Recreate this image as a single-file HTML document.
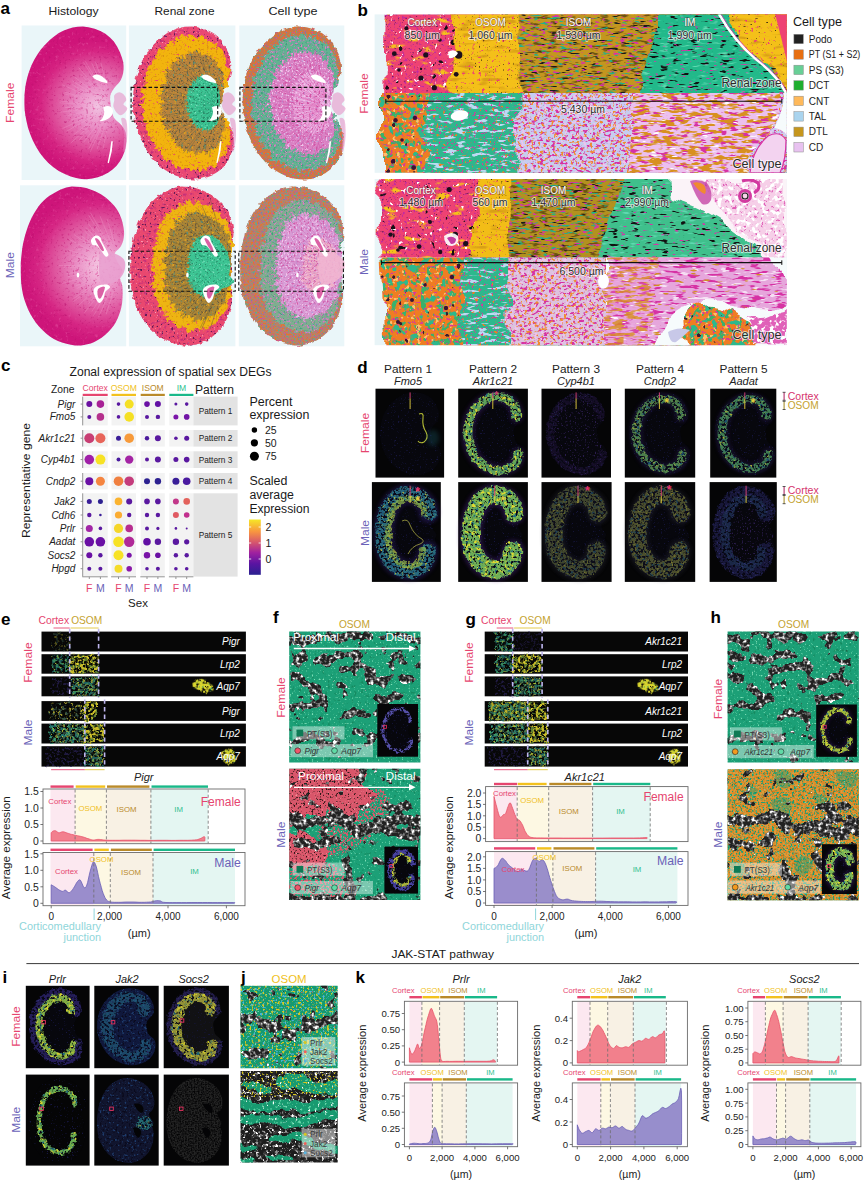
<!DOCTYPE html>
<html lang="en"><head><meta charset="utf-8"><title>Figure</title>
<style>html,body{margin:0;padding:0;background:#fff}svg{display:block}text{font-family:"Liberation Sans", sans-serif}</style></head>
<body>
<svg width="865" height="1181" viewBox="0 0 865 1181">
<defs>
<filter id="fHE" x="-3%" y="-3%" width="106%" height="106%" color-interpolation-filters="sRGB"><feTurbulence type="fractalNoise" baseFrequency="0.372" numOctaves="2" seed="11" result="n0"/><feColorMatrix in="n0" type="matrix" values="0 0 0 0 0.722 0 0 0 0 0.059 0 0 0 0 0.424 2.20 0 0 0 -1.320" result="c0"/><feComposite in="c0" in2="SourceGraphic" operator="in" result="k0"/><feTurbulence type="fractalNoise" baseFrequency="0.305" numOctaves="2" seed="12" result="n1"/><feColorMatrix in="n1" type="matrix" values="0 0 0 0 0.886 0 0 0 0 0.290 0 0 0 0 0.612 2.50 0 0 0 -1.500" result="c1"/><feComposite in="c1" in2="SourceGraphic" operator="in" result="k1"/><feMerge><feMergeNode in="SourceGraphic"/><feMergeNode in="k0"/><feMergeNode in="k1"/></feMerge></filter>
<filter id="fCor" x="-3%" y="-3%" width="106%" height="106%" color-interpolation-filters="sRGB"><feTurbulence type="fractalNoise" baseFrequency="0.2" numOctaves="2" seed="5" result="dn"/><feDisplacementMap in="SourceGraphic" in2="dn" scale="4" xChannelSelector="R" yChannelSelector="G" result="src"/><feTurbulence type="fractalNoise" baseFrequency="0.420" numOctaves="1" seed="21" result="n0"/><feColorMatrix in="n0" type="matrix" values="0 0 0 0 0.369 0 0 0 0 0.102 0 0 0 0 0.337 12 0 0 0 -7.560" result="c0"/><feComposite in="c0" in2="src" operator="in" result="k0"/><feTurbulence type="fractalNoise" baseFrequency="0.593" numOctaves="1" seed="22" result="n1"/><feColorMatrix in="n1" type="matrix" values="0 0 0 0 0.969 0 0 0 0 0.627 0 0 0 0 0.722 6 0 0 0 -3.840" result="c1"/><feComposite in="c1" in2="src" operator="in" result="k1"/><feTurbulence type="fractalNoise" baseFrequency="0.305" numOctaves="2" seed="23" result="n2"/><feColorMatrix in="n2" type="matrix" values="0 0 0 0 0.769 0 0 0 0 0.188 0 0 0 0 0.478 5 0 0 0 -2.900" result="c2"/><feComposite in="c2" in2="src" operator="in" result="k2"/><feMerge><feMergeNode in="src"/><feMergeNode in="k0"/><feMergeNode in="k1"/><feMergeNode in="k2"/></feMerge></filter>
<filter id="fOs" x="-3%" y="-3%" width="106%" height="106%" color-interpolation-filters="sRGB"><feTurbulence type="fractalNoise" baseFrequency="0.16" numOctaves="2" seed="7" result="dn"/><feDisplacementMap in="SourceGraphic" in2="dn" scale="9" xChannelSelector="R" yChannelSelector="G" result="src"/><feTurbulence type="fractalNoise" baseFrequency="0.449" numOctaves="2" seed="31" result="n0"/><feColorMatrix in="n0" type="matrix" values="0 0 0 0 0.851 0 0 0 0 0.565 0 0 0 0 0.063 5 0 0 0 -2.900" result="c0"/><feComposite in="c0" in2="src" operator="in" result="k0"/><feTurbulence type="fractalNoise" baseFrequency="0.353" numOctaves="2" seed="35" result="n1"/><feColorMatrix in="n1" type="matrix" values="0 0 0 0 0.910 0 0 0 0 0.263 0 0 0 0 0.435 8 0 0 0 -5.360" result="c1"/><feComposite in="c1" in2="src" operator="in" result="k1"/><feMerge><feMergeNode in="src"/><feMergeNode in="k0"/><feMergeNode in="k1"/></feMerge></filter>
<filter id="fIs" x="-3%" y="-3%" width="106%" height="106%" color-interpolation-filters="sRGB"><feTurbulence type="fractalNoise" baseFrequency="0.16" numOctaves="2" seed="9" result="dn"/><feDisplacementMap in="SourceGraphic" in2="dn" scale="8" xChannelSelector="R" yChannelSelector="G" result="src"/><feTurbulence type="fractalNoise" baseFrequency="0.497" numOctaves="2" seed="41" result="n0"/><feColorMatrix in="n0" type="matrix" values="0 0 0 0 0.416 0 0 0 0 0.353 0 0 0 0 0.227 6 0 0 0 -3.360" result="c0"/><feComposite in="c0" in2="src" operator="in" result="k0"/><feTurbulence type="fractalNoise" baseFrequency="0.401" numOctaves="2" seed="42" result="n1"/><feColorMatrix in="n1" type="matrix" values="0 0 0 0 0.878 0 0 0 0 0.627 0 0 0 0 0.125 5 0 0 0 -3.000" result="c1"/><feComposite in="c1" in2="src" operator="in" result="k1"/><feTurbulence type="fractalNoise" baseFrequency="0.353" numOctaves="2" seed="43" result="n2"/><feColorMatrix in="n2" type="matrix" values="0 0 0 0 0.357 0 0 0 0 0.561 0 0 0 0 0.478 5 0 0 0 -3.100" result="c2"/><feComposite in="c2" in2="src" operator="in" result="k2"/><feMerge><feMergeNode in="src"/><feMergeNode in="k0"/><feMergeNode in="k1"/><feMergeNode in="k2"/></feMerge></filter>
<filter id="fIm" x="-3%" y="-3%" width="106%" height="106%" color-interpolation-filters="sRGB"><feTurbulence type="fractalNoise" baseFrequency="0.2" numOctaves="2" seed="11" result="dn"/><feDisplacementMap in="SourceGraphic" in2="dn" scale="3" xChannelSelector="R" yChannelSelector="G" result="src"/><feTurbulence type="fractalNoise" baseFrequency="0.497" numOctaves="2" seed="51" result="n0"/><feColorMatrix in="n0" type="matrix" values="0 0 0 0 0.165 0 0 0 0 0.561 0 0 0 0 0.424 6 0 0 0 -3.360" result="c0"/><feComposite in="c0" in2="src" operator="in" result="k0"/><feTurbulence type="fractalNoise" baseFrequency="0.497" numOctaves="2" seed="52" result="n1"/><feColorMatrix in="n1" type="matrix" values="0 0 0 0 0.482 0 0 0 0 0.878 0 0 0 0 0.741 5 0 0 0 -3.000" result="c1"/><feComposite in="c1" in2="src" operator="in" result="k1"/><feMerge><feMergeNode in="src"/><feMergeNode in="k0"/><feMergeNode in="k1"/></feMerge></filter>
<filter id="fCt1" x="-3%" y="-3%" width="106%" height="106%" color-interpolation-filters="sRGB"><feTurbulence type="fractalNoise" baseFrequency="0.2" numOctaves="2" seed="5" result="dn"/><feDisplacementMap in="SourceGraphic" in2="dn" scale="4" xChannelSelector="R" yChannelSelector="G" result="src"/><feTurbulence type="fractalNoise" baseFrequency="0.545" numOctaves="1" seed="61" result="n0"/><feColorMatrix in="n0" type="matrix" values="0 0 0 0 0.910 0 0 0 0 0.455 0 0 0 0 0.165 7 0 0 0 -3.640" result="c0"/><feComposite in="c0" in2="src" operator="in" result="k0"/><feTurbulence type="fractalNoise" baseFrequency="0.497" numOctaves="1" seed="62" result="n1"/><feColorMatrix in="n1" type="matrix" values="0 0 0 0 0.361 0 0 0 0 0.682 0 0 0 0 0.549 7 0 0 0 -4.060" result="c1"/><feComposite in="c1" in2="src" operator="in" result="k1"/><feTurbulence type="fractalNoise" baseFrequency="0.497" numOctaves="1" seed="63" result="n2"/><feColorMatrix in="n2" type="matrix" values="0 0 0 0 0.831 0 0 0 0 0.314 0 0 0 0 0.604 7 0 0 0 -4.200" result="c2"/><feComposite in="c2" in2="src" operator="in" result="k2"/><feTurbulence type="fractalNoise" baseFrequency="0.593" numOctaves="1" seed="64" result="n3"/><feColorMatrix in="n3" type="matrix" values="0 0 0 0 0.478 0 0 0 0 0.439 0 0 0 0 0.753 8 0 0 0 -5.120" result="c3"/><feComposite in="c3" in2="src" operator="in" result="k3"/><feMerge><feMergeNode in="src"/><feMergeNode in="k0"/><feMergeNode in="k1"/><feMergeNode in="k2"/><feMergeNode in="k3"/></feMerge></filter>
<filter id="fCt2" x="-3%" y="-3%" width="106%" height="106%" color-interpolation-filters="sRGB"><feTurbulence type="fractalNoise" baseFrequency="0.16" numOctaves="2" seed="7" result="dn"/><feDisplacementMap in="SourceGraphic" in2="dn" scale="9" xChannelSelector="R" yChannelSelector="G" result="src"/><feTurbulence type="fractalNoise" baseFrequency="0.449" numOctaves="2" seed="71" result="n0"/><feColorMatrix in="n0" type="matrix" values="0 0 0 0 0.878 0 0 0 0 0.478 0 0 0 0 0.753 6 0 0 0 -3.300" result="c0"/><feComposite in="c0" in2="src" operator="in" result="k0"/><feTurbulence type="fractalNoise" baseFrequency="0.497" numOctaves="1" seed="72" result="n1"/><feColorMatrix in="n1" type="matrix" values="0 0 0 0 0.541 0 0 0 0 0.541 0 0 0 0 0.796 7 0 0 0 -4.340" result="c1"/><feComposite in="c1" in2="src" operator="in" result="k1"/><feTurbulence type="fractalNoise" baseFrequency="0.497" numOctaves="2" seed="73" result="n2"/><feColorMatrix in="n2" type="matrix" values="0 0 0 0 0.247 0 0 0 0 0.624 0 0 0 0 0.498 5 0 0 0 -2.850" result="c2"/><feComposite in="c2" in2="src" operator="in" result="k2"/><feMerge><feMergeNode in="src"/><feMergeNode in="k0"/><feMergeNode in="k1"/><feMergeNode in="k2"/></feMerge></filter>
<filter id="fCt3" x="-3%" y="-3%" width="106%" height="106%" color-interpolation-filters="sRGB"><feTurbulence type="fractalNoise" baseFrequency="0.16" numOctaves="2" seed="9" result="dn"/><feDisplacementMap in="SourceGraphic" in2="dn" scale="8" xChannelSelector="R" yChannelSelector="G" result="src"/><feTurbulence type="fractalNoise" baseFrequency="0.449" numOctaves="2" seed="81" result="n0"/><feColorMatrix in="n0" type="matrix" values="0 0 0 0 0.824 0 0 0 0 0.353 0 0 0 0 0.659 6 0 0 0 -3.300" result="c0"/><feComposite in="c0" in2="src" operator="in" result="k0"/><feTurbulence type="fractalNoise" baseFrequency="0.497" numOctaves="2" seed="82" result="n1"/><feColorMatrix in="n1" type="matrix" values="0 0 0 0 0.941 0 0 0 0 0.776 0 0 0 0 0.925 6 0 0 0 -3.360" result="c1"/><feComposite in="c1" in2="src" operator="in" result="k1"/><feTurbulence type="fractalNoise" baseFrequency="0.497" numOctaves="1" seed="83" result="n2"/><feColorMatrix in="n2" type="matrix" values="0 0 0 0 0.690 0 0 0 0 0.604 0 0 0 0 0.847 6 0 0 0 -3.780" result="c2"/><feComposite in="c2" in2="src" operator="in" result="k2"/><feMerge><feMergeNode in="src"/><feMergeNode in="k0"/><feMergeNode in="k1"/><feMergeNode in="k2"/></feMerge></filter>
<radialGradient id="gHEf" gradientUnits="userSpaceOnUse" cx="72" cy="80" r="68"><stop offset="0" stop-color="#f2c4e2"/><stop offset="0.3" stop-color="#e98cc4"/><stop offset="0.6" stop-color="#df559e"/><stop offset="0.82" stop-color="#d62482"/><stop offset="1" stop-color="#cf1479"/></radialGradient>
<radialGradient id="gHEm" gradientUnits="userSpaceOnUse" cx="80" cy="80" r="76" gradientTransform="translate(0 0)"><stop offset="0" stop-color="#f5cfe6"/><stop offset="0.3" stop-color="#ea92c6"/><stop offset="0.6" stop-color="#df579f"/><stop offset="0.82" stop-color="#d62684"/><stop offset="1" stop-color="#ce157a"/></radialGradient>
<path id="kF0" d="M57.8,0 L63.5,0.7 69.6,2.1 75.2,4.3 80.2,7.2 84.7,10.8 88.6,15 91.9,20.1 94.6,25.8 96.6,31.1 97.8,35.5 98.2,39.3 98.2,43.1 97.7,46.9 96.7,50.5 95.3,53.8 93.2,56.7 90.8,59.3 88.6,61.9 87,64.5 85.7,67 84.9,69.9 84.8,73.3 85.3,76.9 85.9,80.6 86.5,84.3 87.2,87.9 88.6,91.3 91,94.1 94,96.6 96.6,99.3 98.5,102.1 99.9,105 100.7,108.7 100.9,113.6 100.5,119.3 99.3,124.8 97.3,130 94.6,135 91.3,139.5 87.3,143.2 82.8,146.4 77.9,148.9 72.7,150.9 67.3,152.3 61.8,152.9 56.5,152.7 51.2,151.8 45.8,150.2 40,147.8 34,144.6 28.4,140.8 23.5,136.4 19,131.5 15,126.1 11.4,120.2 8.2,113.8 5.6,107.4 3.5,101 2,94.7 0.9,88.6 0.2,83.1 -0,77.8 0,72.6 0.2,67.3 0.7,62 1.6,56.5 2.9,50.7 4.7,44.9 6.9,39.1 9.6,33.5 12.7,28.1 16.3,23 20.5,18.1 25.1,13.5 29.7,9.6 34.1,6.5 38.5,4.1 43.1,2.3 47.8,0.9 52.7,0.1Z"/>
<path id="kM1" d="M51.3,0 L55.3,0.1 59.8,0.4 64.2,1.2 68.3,2.3 72.4,3.8 76.3,5.6 80.1,7.7 83.8,10.2 87.2,12.9 90.3,15.8 93.2,19 95.7,22.2 97.7,25.5 99.3,28.8 100.7,32.4 101.8,36.4 102.7,40.6 103.2,44.4 103.3,47.7 103,50.6 102.5,53.4 101.7,56.1 100.6,58.6 99.2,60.9 97.2,62.9 95,64.8 93.7,66.9 94,69.6 95.2,72.5 96.7,75.4 98.5,78.1 100.5,80.8 101.7,83.4 101.2,86 99.9,88.7 99.2,91.4 99.8,94.1 100.9,96.8 101.7,100.4 101.9,105.4 101.7,111.3 101.3,116.6 100.5,120.9 99.5,124.7 98.2,128.4 96.8,132 95.1,135.4 93,138.8 90.4,142.2 87.4,145.4 84.2,148.4 80.8,151.1 77.1,153.5 73.5,155.4 70,156.8 66.5,157.7 63.2,158.4 60.2,158.8 57.4,159 54.1,158.8 50.1,158.2 45.6,157.2 41.2,155.9 37.1,154.3 33,152.3 29.1,149.9 25.3,146.9 21.6,143.5 18.2,139.9 15.1,136.1 12.3,132 9.7,127.7 7.4,123.1 5.4,118.2 3.7,113.4 2.4,108.9 1.5,104.4 0.8,99.9 0.3,95.1 0.1,90.2 0,85.4 -0,81 0,76.7 0.3,72.2 0.8,67.3 1.4,62.3 2.2,57.4 3.2,52.9 4.3,48.7 5.6,44.4 7.1,40 8.8,35.7 10.7,31.4 13,27.2 15.5,23.1 18,19.4 20.5,16.4 23,13.8 25.7,11.4 28.6,9.2 31.7,7.3 34.7,5.6 37.4,4.1 40,2.9 42.7,1.9 45.4,1 48.1,0.3Z"/>
<path id="kF2" d="M60.5,7.5 L64.8,11.8 66.9,8.9 70.7,11.6 73.3,10.3 76.9,16 79.2,14.6 81.9,18.2 84.1,17.2 86.3,23.8 88.3,24 89.9,28.8 91.8,28.2 92.6,35.5 93.9,36.9 94.3,42.2 95.7,40.7 95.2,46.3 95.8,47 94.8,52.1 95.9,50.2 94.7,54.9 94.8,55.4 93,61.1 93.5,59.4 92,63.3 91.8,63 89.5,68.7 89.3,67 88,70.4 87.7,69.2 86.7,75.1 86.5,73.8 86.3,77.1 86,75.1 86.4,79.6 86.4,79.6 86.4,79.6 86.4,79.6 86.4,79.6 86.4,79.6 86.4,79.6 86.4,79.6 86.4,79.6 86.6,80.8 86.4,79.6 88,85.6 88.3,85.2 90.3,88.7 89.9,86.9 92.8,92 93,92.1 95.2,96 94.1,93.9 96.3,98.7 96.1,99.4 97.9,105 96.5,104.1 97.5,109.8 96.7,111.3 97.4,118.1 95.6,117.3 95,122.2 93.4,122.9 92.5,129.9 90.4,129.1 88.6,133 86.4,132.2 84,138.4 81.7,137.4 78.9,140.6 76.8,138.3 73.2,143.5 70.8,142.3 67.3,145.1 65.6,141.6 61.6,145.1 59.4,143.3 55.4,145.4 54.5,140.9 50.2,142.6 48,140 42.8,141.4 42.1,136.4 37.5,136.3 36,132.8 30.5,133.4 30.7,128.4 26.9,127 26.7,122.7 21,122.2 21.7,117.4 18.4,114.9 19.6,110.1 14.2,108.4 15.1,104.1 12.1,101.3 14.9,96.9 10.2,94.4 11.4,90.7 8.5,87.8 12.3,84.4 8.7,81.8 10.3,79 7.2,76.1 11.5,73.5 8.9,70.5 10.8,67.9 7.5,64.4 11.8,62.3 10.3,58.9 13,56.5 9.9,52 14.1,50 13.5,46.2 17.3,44.4 14.9,39.4 18.8,37.8 19,33.9 23.7,33.1 22.4,27.9 26.2,26.7 27.1,22.7 32.4,23.1 32.4,18.1 36.1,17.4 36.8,13.6 41.7,15.6 42.4,11.9 45.7,12.3 46.6,8.5 51.1,11.5 52.6,8.8 56,10.2 57.3,6.5Z"/>
<path id="kF3" d="M66.6,24.4 L70.7,30.3 71.7,26.3 74.9,29.9 76.6,27.7 79.8,35.2 81.2,32.7 83.3,37 84.7,34.7 86.4,43.1 87.7,42.2 88.6,47.8 90,45.6 90,54.4 90.8,54.9 90.3,61 91.6,57.8 90.4,64.6 90.8,64.5 89.1,70.7 90.5,67 88.7,72.7 88.9,72.4 86.5,79.4 87.6,76.2 86.4,79.6 86.4,79.6 86.4,79.6 86.4,79.6 86.4,79.6 86.4,79.6 86.4,79.6 86.4,79.6 86.4,79.6 86.4,79.6 86.4,79.6 86.4,79.6 86.4,79.6 86.4,79.6 86.4,79.6 86.4,79.6 86.4,79.6 86.4,79.6 86.4,79.6 86.4,79.6 86.4,79.6 86.4,79.6 86.4,79.6 86.4,79.6 86.4,79.6 86.4,79.6 86.4,79.6 86.8,80.3 86.4,79.6 88,82.6 87.8,82.5 90.6,89 89.1,86.3 91.2,92.6 90.9,93.3 92.6,101.2 91.1,98.7 91.4,104.3 90.3,104 90.4,112.5 88.9,110.2 87.9,114.8 86.4,112.8 84.7,120.7 83.2,118.7 81.1,122.7 79.9,119.1 76.8,126 75.3,124.2 72.3,127.9 71.8,123.1 68,128.2 66.7,126 63,129.4 63.4,123.7 59.3,126.8 58.1,124 52.9,127.1 53.9,121.2 49.5,122.5 49.1,119 43.1,121.3 45,115.9 41.2,115.6 42.3,111.4 35.8,112.6 37.9,107.9 34.5,106.6 37.3,102.1 30.6,101.8 32.8,98 29.4,96.3 33.8,92.3 27.8,91 29.9,88 26.2,85.9 31.7,83.2 26.8,81.3 29.1,79.1 24.8,76.9 30.8,75.1 27.1,72.6 29.6,70.8 24.7,67.7 30.4,66.6 27.9,63.7 31.3,62.2 26.4,57.9 31.6,57.2 30.1,53.8 34.5,53.2 30.2,48 34.8,47.7 34,44.1 39.3,44.7 36.2,39.1 40.3,39 40,35 45.9,37.2 44.3,31.6 47.8,32 47.5,27.8 52.8,31.6 52.3,27.2 55.5,28.4 55.2,23.8 60,28.6 60.5,25.3 63.7,27.7 63.7,22.7Z"/>
<path id="kF4" d="M75.7,49.7 L78.2,53.7 78.8,52 80.7,54.9 81.6,54.4 83.4,59.5 84.1,59 85.1,62.4 85.8,62.1 86.4,67.9 86.8,68.5 86.9,72.9 87.1,73 86.4,79.3 86.4,79.6 86.4,79.6 86.4,79.6 86.4,79.6 86.4,79.6 86.4,79.6 86.4,79.6 86.4,79.6 86.4,79.6 86.4,79.6 86.4,79.6 86.4,79.6 86.4,79.6 86.4,79.6 86.4,79.6 86.4,79.6 86.4,79.6 86.4,79.6 86.4,79.6 86.4,79.6 86.4,79.6 86.4,79.6 86.4,79.6 86.4,79.6 86.4,79.6 86.4,79.6 86.4,79.6 86.4,79.6 86.4,79.6 86.4,79.6 86.4,79.6 86.4,79.6 86.4,79.6 86.4,79.6 86.4,79.6 86.4,79.6 86.4,79.6 86.4,79.6 86.4,79.6 86.4,79.6 86.4,79.6 86.4,79.6 86.4,79.6 86.4,79.6 86.4,79.6 86.4,79.6 86.4,79.6 86.4,79.6 86.4,79.6 86.4,79.6 87.1,85.2 86.8,84.9 86.8,88.4 86.4,88.1 85.8,93.5 85.3,93.1 84.4,96.2 83.9,94.9 82.3,99.6 81.5,99.3 79.8,102 79.6,99.8 77.4,103.2 76.7,102.4 74.6,104.7 74.8,101.8 72.4,103.9 71.8,102.6 68.8,104.6 69.2,101.6 66.6,102.5 66.4,100.7 62.9,102.2 63.9,99.3 61.8,99.2 62.4,96.9 58.7,97.6 60,95 58,94.3 59.6,91.8 55.9,91.8 57.1,89.7 55.1,88.7 57.6,86.6 54.2,85.9 55.4,84.2 53.1,83.1 56.2,81.6 53.4,80.5 54.6,79.3 52.1,78.1 55.5,77.1 53.3,75.7 54.6,74.7 51.6,72.9 54.8,72.3 53.3,70.6 55.2,69.7 52.2,67.3 55.1,66.8 54.1,64.8 56.6,64.4 54,61.4 56.5,61.1 56,59 59.1,59.3 57.3,56.1 59.6,56 59.4,53.7 62.8,54.9 61.9,51.7 64,51.9 63.8,49.5 67,51.8 66.7,49.3 68.6,50.2 68.6,47.7 71.4,50.7 71.8,49.1 73.8,50.7 73.9,48.3Z"/>
<path id="kM5" d="M59.5,13.3 L63.9,16.8 64.8,13.8 68.5,15.8 70.1,14 74.4,18.8 75.8,16.9 78.9,19.6 80.3,17.9 83.9,23.5 85.6,22.9 88.2,26.6 89.5,24.8 92.2,30.8 93.7,31.2 95.6,35.9 96.6,34.1 98.1,39.8 99,40.6 99.9,46.2 100.6,44.6 101.1,50.2 101.6,51.5 101.7,58.3 102.1,57.2 101.9,61.7 102,61.8 101.3,68.1 101.3,66.7 100.8,70.4 100.6,69.4 100.2,75.6 99.9,74.5 100,77.8 99.3,76 100.2,79.4 100.2,79.4 100.2,79.4 100.2,79.4 100.2,79.4 100.2,79.4 100.2,79.4 100.2,79.4 100.2,79.4 100.2,79.4 100.2,79.4 100.2,79.4 100.2,79.4 100.2,79.4 100.2,79.4 100.2,82.5 100.4,82.8 100.8,88 100.7,87.4 101.1,94.9 101,97.6 100.9,104.6 100.5,103.7 100.1,109.2 99.5,110.1 98.7,116.6 98.1,115.4 97,120 96.2,120.2 94.4,126.9 93.3,126 91.3,130.1 90,129.6 87.1,136 85.6,135.3 82.9,138.9 81.6,137.1 78.1,142.3 76.6,141.4 73.6,144.2 73.1,141 69.6,144.8 68.5,143.5 65.5,146.2 65.7,142.4 62.2,144.8 60.7,143 56.2,145.3 55.8,141.1 51.9,142 50.7,139.4 45.7,141.3 45.8,137.1 42.3,136.8 42,133.2 36.7,133.9 37.1,129.6 33.9,128.3 34.8,124.1 29.7,123.9 30.3,120 27.4,118.3 29.6,113.7 25,112.4 25.9,108.7 22.9,106.6 26.3,102.6 22.7,100.9 24,97.8 20.8,95.8 24.9,92.2 22.3,89.7 24.1,86.7 20.5,84.2 24.5,81.4 22.5,78.9 24.8,76.5 20.8,73.7 24.5,71.2 23,68 26.1,65.6 22.2,61.9 25.4,59.9 24.2,56.9 28.1,55.4 24.8,51.5 27.5,49.6 26.3,46.1 30.8,45.2 28.5,40.9 31.1,39.2 30.1,35.1 35,35 33.9,31 36.5,30 35.3,26.2 40,27.3 39.7,24.2 42.8,24.1 41.8,20 46.3,21.6 46.7,19.1 49.9,20 48.7,15.8 52.3,17.6 52.9,15.6 56.3,17.5 55.4,13.5 58.6,15.2Z"/>
<path id="kM6" d="M66.1,24.1 L71.1,29.2 71,25.1 74.6,28.1 75.5,25.7 80.1,32.2 80.7,29.4 83.7,33 84.3,30.3 88.1,37.7 89.1,36.3 91.5,40.9 92.1,37.8 94.6,45.4 95.6,45.1 97.2,50.9 97.7,47.5 98.9,54.5 99.4,54.7 100,61.5 100.4,58.2 100.7,64.8 100.9,65.4 100.6,73.6 100.9,70.8 100.5,76.2 100.6,75.3 100.2,79.4 100.2,79.4 100.2,79.4 100.2,79.4 100.2,79.4 100.2,79.4 100.2,79.4 100.2,79.4 100.2,79.4 100.2,79.4 100.2,79.4 100.2,79.4 100.2,79.4 100.2,79.4 100.2,79.4 100.2,79.4 100.2,79.4 100.2,79.4 100.2,79.4 100.2,79.4 100.2,79.4 100.2,79.4 100.2,79.4 100.2,79.4 100.2,79.4 100.2,79.4 100.2,79.4 100.3,80.9 100.4,82.9 100.5,91.2 100.3,88.5 100.1,95 99.9,95.2 99.2,103.3 99,100.5 98.1,105.9 97.7,105.2 96.1,113.6 95.5,111.5 93.7,116.4 93,114.8 90.1,123 89.2,121.5 86.7,125.9 86.2,122.9 82.5,129.9 81.6,128.3 78.6,132.1 79,127.6 75.2,132.8 74.6,131.2 71.3,135 72.6,129.9 68.8,133.5 67.9,131.4 62.9,135.2 63.9,129.9 59.7,132 59.2,129.1 53.4,132.5 54.9,127.5 51.1,128.1 51.7,124.2 45.4,126.5 46.9,121.8 43.4,121.3 45.6,116.7 39.2,117.9 40.9,113.9 37.4,112.9 41.2,108.1 35.3,107.9 37,104.3 33.2,103 38.3,98.8 33.5,97.9 35.6,95 31.3,93.6 37.1,90.1 33.5,88.2 36,85.5 30.9,83.5 36.6,81.1 33.8,79 36.9,77 31.3,74.4 36.3,72.5 34.1,69.7 38.3,67.9 32.7,64.2 36.9,62.9 34.9,60.1 40.1,59.4 35.1,55.3 38.6,54.2 36.5,50.7 42.3,50.9 38.6,46.3 41.7,45.3 39.6,41.1 45.8,42.3 43.5,38 46.5,37.7 44.1,33.4 49.9,35.9 48.8,32.5 52.2,33.2 49.9,28.3 55.3,31.2 55,28.5 58.7,30.3 56.2,25.1 60.4,28.1 60.4,25.8 64.4,28.9 62.3,23.7 65.9,26.5Z"/>
<path id="kM7" d="M81.1,48.4 L84.3,51.9 84.6,50.4 87,52.9 87.8,52.4 90.7,57.1 91.2,56.4 93.1,59.5 93.6,59 95.8,64.3 96.4,64.7 97.7,68.5 97.9,67.9 99.2,73.4 99.5,74.4 100.1,78.9 100.1,78.1 100.2,79.4 100.2,79.4 100.2,79.4 100.2,79.4 100.2,79.4 100.2,79.4 100.2,79.4 100.2,79.4 100.2,79.4 100.2,79.4 100.2,79.4 100.2,79.4 100.2,79.4 100.2,79.4 100.2,79.4 100.2,79.4 100.2,79.4 100.2,79.4 100.2,79.4 100.2,79.4 100.2,79.4 100.2,79.4 100.2,79.4 100.2,79.4 100.2,79.4 100.2,79.4 100.2,79.4 100.2,79.4 100.2,79.4 100.2,79.4 100.2,79.4 100.2,79.4 100.2,79.4 100.2,79.4 100.2,79.4 100.2,79.4 100.2,79.4 100.2,79.4 100.2,79.4 100.2,79.4 100.2,79.4 100.2,79.4 100.2,79.4 100.2,79.4 100.2,79.4 100.2,79.4 100.2,79.4 99.7,83.1 99.6,83.2 98.8,87.2 98.5,87.6 96.9,93.5 96.4,93.8 94.9,97.5 94.6,96.9 92.3,101.9 91.6,101.9 89.8,104.9 89.8,103 87.4,106.7 86.9,106.3 84.8,109 85.3,106.6 82.9,109.1 82.2,108.4 79,111.1 79.1,108.7 76.4,110.3 75.7,109 72.1,111.3 72.5,108.8 70,109.4 70,107.3 66,108.7 66.6,106.1 64.3,105.9 65.3,103.3 61.4,103.9 62.1,101.6 59.9,100.9 61.9,98 58.4,97.8 59.3,95.5 57,94.6 59.9,92.1 57.1,91.4 58.3,89.5 55.8,88.6 59.2,86.3 57.2,85.1 58.8,83.4 55.9,82.1 59.2,80.5 57.6,79.2 59.4,77.8 56.2,76.2 59.1,74.9 57.9,73.2 60.3,72 57.1,69.7 59.5,68.8 58.5,67 61.5,66.5 58.7,64.1 60.8,63.3 59.7,61.1 63,61.1 61,58.4 62.9,57.7 61.8,55.2 65.5,55.8 64.4,53.2 66.3,53.1 65.1,50.6 68.6,52.1 68.2,50.2 70.5,50.8 69.5,48.2 72.8,50 72.9,48.7 75.2,49.9 74,47.1 76.7,49 76.9,48 79.3,50 78.4,47.3 80.6,49.3Z"/>
<path id="kF8" d="M60.3,7.1 L64.7,11.3 66.8,8.4 70.6,11.1 73.2,9.8 76.9,15.5 79.1,14.1 81.8,17.7 84.1,16.7 86.3,23.3 88.3,23.5 89.9,28.3 91.8,27.7 92.7,35 94,36.4 94.4,41.7 95.9,40.2 95.4,45.8 95.9,46.5 95,51.6 96.1,49.7 94.9,54.5 95,55 93.1,60.6 93.7,58.9 92.2,62.8 91.9,62.5 89.6,68.2 89.4,66.5 88.1,69.9 87.8,68.7 86.8,74.6 86.5,73.3 86.3,76.6 85.9,74.6 86.4,79.6 86.4,79.6 86.4,79.6 86.4,79.6 86.4,79.6 86.4,79.6 86.4,79.6 86.4,79.6 86.4,79.6 86.6,81.3 86.5,80.1 88.1,86.1 88.5,85.6 90.5,89.2 90.1,87.3 93.1,92.5 93.3,92.6 95.4,96.4 94.3,94.4 96.5,99.1 96.4,99.9 98.1,105.4 96.7,104.6 97.7,110.2 96.9,111.8 97.5,118.5 95.7,117.7 95.1,122.7 93.5,123.4 92.6,130.4 90.5,129.6 88.7,133.5 86.4,132.7 84,138.9 81.6,137.9 78.9,141.1 76.7,138.8 73.1,144 70.7,142.8 67.1,145.5 65.4,142 61.4,145.5 59.2,143.8 55.2,145.8 54.3,141.3 49.9,143 47.7,140.4 42.5,141.8 41.8,136.8 37.2,136.7 35.6,133.2 30.1,133.8 30.3,128.7 26.5,127.3 26.3,123 20.6,122.4 21.3,117.7 17.9,115.2 19.2,110.4 13.7,108.6 14.6,104.3 11.7,101.5 14.4,97 9.7,94.5 10.9,90.8 8,87.9 11.8,84.5 8.2,81.8 9.8,79 6.7,76.1 11,73.5 8.4,70.4 10.4,67.8 7,64.3 11.3,62.2 9.8,58.7 12.6,56.3 9.4,51.8 13.6,49.8 13.1,46 16.8,44.2 14.4,39.1 18.4,37.5 18.6,33.6 23.3,32.8 22,27.6 25.9,26.3 26.7,22.3 32.1,22.7 32.1,17.7 35.7,17.1 36.5,13.2 41.4,15.2 42.1,11.5 45.5,11.8 46.3,8.1 50.9,11 52.4,8.4 55.8,9.7 57.1,6Z"/>
<path id="kF9" d="M66.2,23.4 L70.4,29.4 71.5,25.3 74.7,28.9 76.4,26.7 79.6,34.2 81.1,31.7 83.2,36 84.7,33.7 86.4,42.1 87.7,41.2 88.7,46.8 90.1,44.6 90.1,53.4 90.9,53.9 90.5,60.1 91.9,56.8 90.7,63.6 91,63.5 89.4,69.7 90.8,66.1 89.1,71.7 89.2,71.5 86.8,78.5 87.9,75.3 86.4,79.6 86.6,79 86.4,79.6 86.4,79.6 86.4,79.6 86.4,79.6 86.4,79.6 86.4,79.6 86.4,79.6 86.4,79.6 86.4,79.6 86.4,79.6 86.4,79.6 86.4,79.6 86.4,79.6 86.4,79.6 86.4,79.6 86.4,79.6 86.4,79.6 86.4,79.6 86.4,79.6 86.4,79.6 86.4,79.6 86.4,79.6 86.4,79.6 86.4,79.6 86.4,79.6 87.3,81.2 86.4,79.6 88.4,83.5 88.3,83.4 91.1,89.9 89.5,87.2 91.5,93.5 91.2,94.2 92.8,102.2 91.3,99.7 91.6,105.3 90.5,105 90.5,113.5 89,111.2 87.9,115.8 86.4,113.8 84.7,121.7 83.1,119.7 81,123.7 79.8,120.1 76.6,127 75.1,125.2 72,128.9 71.5,124 67.6,129.1 66.3,126.9 62.5,130.3 63,124.6 58.8,127.7 57.6,124.9 52.4,127.9 53.3,122 48.8,123.2 48.4,119.7 42.3,122 44.2,116.5 40.4,116.2 41.5,112 34.9,113.1 37.1,108.4 33.6,107 36.4,102.5 29.7,102.2 31.8,98.4 28.4,96.6 32.8,92.6 26.9,91.2 29,88.1 25.2,86 30.7,83.2 25.8,81.3 28.1,79.1 23.8,76.8 29.8,75 26.1,72.5 28.6,70.6 23.7,67.5 29.4,66.4 27,63.4 30.4,61.9 25.4,57.6 30.7,56.8 29.2,53.4 33.7,52.7 29.4,47.5 33.9,47.1 33.2,43.5 38.5,44.1 35.5,38.5 39.5,38.4 39.3,34.3 45.2,36.4 43.7,30.9 47.2,31.2 46.9,27 52.3,30.7 51.8,26.3 55,27.6 54.7,22.9 59.5,27.7 60.1,24.4 63.3,26.7 63.4,21.8Z"/>
<path id="kF10" d="M74.3,45.9 L76.9,49.9 77.8,48.2 79.8,51 80.9,50.5 82.8,55.6 83.7,55 84.8,58.4 85.6,58.1 86.4,63.9 86.9,64.5 87.1,68.9 87.5,69 87,75.3 86.9,76.9 86.4,79.6 86.4,79.6 86.4,79.6 86.4,79.6 86.4,79.6 86.4,79.6 86.4,79.6 86.4,79.6 86.4,79.6 86.4,79.6 86.4,79.6 86.4,79.6 86.4,79.6 86.4,79.6 86.4,79.6 86.4,79.6 86.4,79.6 86.4,79.6 86.4,79.6 86.4,79.6 86.4,79.6 86.4,79.6 86.4,79.6 86.4,79.6 86.4,79.6 86.4,79.6 86.4,79.6 86.4,79.6 86.4,79.6 86.4,79.6 86.4,79.6 86.4,79.6 86.4,79.6 86.4,79.6 86.4,79.6 86.4,79.6 86.4,79.6 86.4,79.6 86.4,79.6 86.4,79.6 86.4,79.6 86.4,79.6 86.4,79.6 86.4,79.6 86.4,79.6 86.4,79.6 86.4,79.6 87,82.4 87,83.3 87.6,89.2 87.2,88.9 86.9,92.4 86.4,92.1 85.7,97.5 85,97.1 83.9,100.2 83.2,98.9 81.5,103.5 80.5,103.1 78.7,105.9 78.3,103.6 76,107 75.2,106.1 72.9,108.4 73,105.4 70.4,107.3 69.6,106 66.4,107.9 66.8,104.7 64,105.6 63.6,103.6 60,105 60.9,101.9 58.7,101.7 59.2,99.2 55.4,99.8 56.5,97.1 54.5,96.2 56,93.5 52.1,93.3 53.3,91 51.3,89.9 53.7,87.5 50.3,86.6 51.4,84.8 49.2,83.5 52.2,81.8 49.4,80.6 50.6,79.3 48.1,77.9 51.5,76.8 49.3,75.2 50.6,74 47.7,72.1 50.9,71.4 49.5,69.5 51.3,68.5 48.4,65.9 51.4,65.3 50.5,63.1 53,62.6 50.5,59.4 53.1,59 52.7,56.8 55.8,57 54.1,53.6 56.6,53.3 56.5,50.9 60,52 59.3,48.7 61.5,48.8 61.4,46.3 64.7,48.5 64.6,46 66.6,46.8 66.6,44.3 69.6,47.1 70.1,45.5 72.2,47 72.4,44.5Z"/>
<path id="kM11" d="M58.5,11.7 L63,15.2 64,12.2 67.7,14.2 69.4,12.5 73.8,17.3 75.2,15.4 78.4,18.2 79.8,16.5 83.5,22.1 85.2,21.5 87.9,25.3 89.3,23.5 92,29.5 93.5,29.9 95.5,34.6 96.5,32.8 98,38.6 99,39.4 99.9,45 100.6,43.4 101.2,48.9 101.7,50.3 101.8,57.1 102.2,55.9 102,60.4 102.1,60.5 101.4,66.8 101.4,65.4 100.9,69.1 100.7,68.2 100.2,74.3 99.9,73.2 99.8,76.5 98.9,74.6 100.2,79.4 100.2,79.4 100.2,79.4 100.2,79.4 100.2,79.4 100.2,79.4 100.2,79.4 100.2,79.4 100.2,79.4 100.2,79.4 100.2,79.4 100.2,79.4 100.2,79.4 100.2,79.8 100.2,79.4 100.2,83.7 100.4,84.1 100.9,89.3 100.8,88.7 101.2,96.2 101.1,98.9 101,105.9 100.6,104.9 100.1,110.4 99.5,111.4 98.6,117.9 98,116.6 96.9,121.2 96.1,121.5 94.3,128.2 93.2,127.3 91.1,131.5 89.7,130.9 86.8,137.3 85.2,136.7 82.5,140.3 81.2,138.5 77.6,143.8 76.1,142.9 73,145.7 72.5,142.5 68.9,146.3 67.7,145.1 64.7,147.7 64.8,144 61.3,146.4 59.7,144.6 55.1,146.9 54.7,142.7 50.6,143.7 49.3,141.1 44.2,142.9 44.3,138.7 40.7,138.4 40.3,134.8 34.9,135.5 35.1,131.2 31.9,129.8 32.7,125.5 27.5,125.3 28,121.4 25,119.5 27.2,114.9 22.5,113.5 23.3,109.7 20.2,107.6 23.6,103.4 19.9,101.7 21.2,98.5 17.9,96.4 22,92.7 19.3,90.1 21.1,86.9 17.5,84.4 21.5,81.5 19.5,78.9 21.8,76.4 17.8,73.5 21.5,70.8 20.1,67.6 23.2,65 19.3,61.2 22.5,59.1 21.4,56 25.3,54.5 22.1,50.5 24.9,48.6 23.8,45 28.4,44 26.1,39.7 28.8,37.8 27.9,33.8 32.9,33.5 31.8,29.5 34.6,28.5 33.4,24.6 38.2,25.7 38,22.6 41.1,22.5 40.2,18.4 44.7,20 45.3,17.5 48.5,18.4 47.4,14.2 51,16 51.7,14 55.1,15.9 54.3,11.9 57.5,13.6Z"/>
<path id="kM12" d="M66.8,25.2 L71.8,30.3 71.6,26.3 75.2,29.2 76,26.9 80.7,33.4 81.2,30.6 84.1,34.2 84.7,31.5 88.4,38.9 89.4,37.5 91.8,42.2 92.3,39 94.8,46.6 95.7,46.4 97.3,52.1 97.8,48.7 98.9,55.8 99.5,55.9 100,62.8 100.4,59.4 100.6,66 100.9,66.6 100.5,74.9 100.8,72.1 100.4,77.4 100.5,76.6 100.2,79.4 100.2,79.4 100.2,79.4 100.2,79.4 100.2,79.4 100.2,79.4 100.2,79.4 100.2,79.4 100.2,79.4 100.2,79.4 100.2,79.4 100.2,79.4 100.2,79.4 100.2,79.4 100.2,79.4 100.2,79.4 100.2,79.4 100.2,79.4 100.2,79.4 100.2,79.4 100.2,79.4 100.2,79.4 100.2,79.4 100.2,79.4 100.2,79.4 100.2,79.4 100.2,79.4 100.2,79.7 100.3,81.7 100.5,90 100.3,87.3 100.2,93.8 99.9,94 99.3,102 99,99.2 98.2,104.6 97.8,104 96.2,112.4 95.7,110.3 93.9,115.2 93.2,113.6 90.4,121.8 89.5,120.3 87,124.6 86.6,121.7 82.9,128.7 82,127.1 79.1,130.9 79.5,126.4 75.7,131.7 75.2,130 71.9,133.8 73.2,128.7 69.4,132.4 68.6,130.3 63.7,134 64.6,128.9 60.5,130.9 60.1,128 54.3,131.4 55.8,126.5 52,127.1 52.7,123.2 46.4,125.5 48,120.9 44.6,120.5 46.8,115.9 40.4,117.1 42.1,113.2 38.7,112.2 42.5,107.5 36.7,107.3 38.4,103.8 34.6,102.5 39.8,98.4 35,97.5 37,94.7 32.7,93.3 38.6,89.8 35,88 37.5,85.4 32.4,83.5 38.1,81 35.3,79 38.4,77 32.8,74.5 37.8,72.6 35.6,69.9 39.8,68.1 34.1,64.6 38.3,63.3 36.4,60.5 41.5,59.9 36.5,55.8 39.9,54.7 37.9,51.3 43.6,51.5 39.8,47 42.9,46 40.8,41.9 47,43.1 44.6,38.8 47.6,38.6 45.2,34.3 51,36.8 49.8,33.4 53.2,34.1 50.9,29.3 56.2,32.3 55.9,29.5 59.5,31.4 57.1,26.2 61.2,29.1 61.2,26.8 65.1,30 63.1,24.8 66.6,27.6Z"/>
<path id="kM13" d="M83.2,51.8 L86.3,55.4 86.5,53.9 88.8,56.5 89.5,56.1 92.3,60.8 92.7,60.2 94.4,63.3 94.8,62.8 96.9,68.2 97.4,68.6 98.6,72.4 98.7,71.8 99.9,77.3 100.1,78.4 100.2,79.4 100.2,79.4 100.2,79.4 100.2,79.4 100.2,79.4 100.2,79.4 100.2,79.4 100.2,79.4 100.2,79.4 100.2,79.4 100.2,79.4 100.2,79.4 100.2,79.4 100.2,79.4 100.2,79.4 100.2,79.4 100.2,79.4 100.2,79.4 100.2,79.4 100.2,79.4 100.2,79.4 100.2,79.4 100.2,79.4 100.2,79.4 100.2,79.4 100.2,79.4 100.2,79.4 100.2,79.4 100.2,79.4 100.2,79.4 100.2,79.4 100.2,79.4 100.2,79.4 100.2,79.4 100.2,79.4 100.2,79.4 100.2,79.4 100.2,79.4 100.2,79.4 100.2,79.4 100.2,79.4 100.2,79.4 100.2,79.4 100.2,79.4 100.2,79.4 100.2,79.4 100.2,79.4 100.2,79.4 100.2,79.4 100.2,79.4 100.2,79.4 99.5,83.3 99.3,83.7 97.8,89.6 97.4,90 96,93.7 95.8,93.1 93.6,98.1 93.1,98.2 91.3,101.2 91.4,99.4 89.1,103.1 88.7,102.7 86.6,105.5 87.2,103.1 84.9,105.7 84.3,105 81.2,107.8 81.5,105.4 78.8,107.1 78.3,106 74.7,108.3 75.2,105.9 72.8,106.6 72.9,104.6 69.1,106.1 69.7,103.6 67.5,103.5 68.6,101 64.8,101.8 65.6,99.6 63.5,99 65.5,96.3 62.1,96.1 63,94.1 60.8,93.3 63.7,90.9 61,90.3 62.2,88.6 59.7,87.7 63.2,85.7 61.2,84.6 62.7,83 59.9,81.8 63.2,80.4 61.6,79.2 63.4,78 60.2,76.5 63.1,75.4 61.9,73.7 64.2,72.7 61,70.6 63.4,69.8 62.3,68.2 65.3,67.8 62.5,65.4 64.5,64.8 63.3,62.8 66.6,62.9 64.5,60.3 66.3,59.7 65.2,57.3 68.8,58 67.6,55.6 69.4,55.5 68.2,53.1 71.7,54.7 71.2,52.9 73.3,53.5 72.3,51 75.5,53 75.6,51.6 77.8,53 76.6,50.2 79.1,52.2 79.3,51.2 81.7,53.3 80.6,50.6 82.8,52.6Z"/>
<clipPath id="cbF1"><rect x="374.6" y="14.4" width="412.19999999999993" height="78.6"/></clipPath>
<clipPath id="cbF2"><rect x="374.6" y="93" width="412.19999999999993" height="79.8"/></clipPath>
<clipPath id="cbM1"><rect x="374.6" y="179" width="412.19999999999993" height="78.5"/></clipPath>
<clipPath id="cbM2"><rect x="374.6" y="257.5" width="412.19999999999993" height="87.7"/></clipPath>
<filter id="bCor" x="-8%" y="-6%" width="116%" height="112%" color-interpolation-filters="sRGB"><feTurbulence type="fractalNoise" baseFrequency="0.04" numOctaves="2" seed="2" result="dn"/><feDisplacementMap in="SourceGraphic" in2="dn" scale="20" xChannelSelector="R" yChannelSelector="G" result="src"/><feTurbulence type="fractalNoise" baseFrequency="0.06 0.16" numOctaves="2" seed="3" result="n0"/><feColorMatrix in="n0" type="matrix" values="0 0 0 0 0.957 0 0 0 0 0.761 0 0 0 0 0.102 7 0 0 0 -4.200" result="c0"/><feComposite in="c0" in2="src" operator="in" result="k0"/><feTurbulence type="fractalNoise" baseFrequency="0.497" numOctaves="1" seed="5" result="n1"/><feColorMatrix in="n1" type="matrix" values="0 0 0 0 0.482 0 0 0 0 0.114 0 0 0 0 0.384 9 0 0 0 -5.760" result="c1"/><feComposite in="c1" in2="src" operator="in" result="k1"/><feTurbulence type="fractalNoise" baseFrequency="0.353" numOctaves="2" seed="6" result="n2"/><feColorMatrix in="n2" type="matrix" values="0 0 0 0 0.765 0 0 0 0 0.165 0 0 0 0 0.627 7 0 0 0 -4.200" result="c2"/><feComposite in="c2" in2="src" operator="in" result="k2"/><feTurbulence type="fractalNoise" baseFrequency="0.151" numOctaves="1" seed="8" result="n3"/><feColorMatrix in="n3" type="matrix" values="0 0 0 0 0.078 0 0 0 0 0.063 0 0 0 0 0.078 30 0 0 0 -21.000" result="c3"/><feComposite in="c3" in2="src" operator="in" result="k3"/><feTurbulence type="fractalNoise" baseFrequency="0.228" numOctaves="2" seed="9" result="n4"/><feColorMatrix in="n4" type="matrix" values="0 0 0 0 1.000 0 0 0 0 1.000 0 0 0 0 1.000 14 0 0 0 -9.660" result="c4"/><feComposite in="c4" in2="src" operator="in" result="k4"/><feMerge><feMergeNode in="src"/><feMergeNode in="k0"/><feMergeNode in="k1"/><feMergeNode in="k2"/><feMergeNode in="k3"/><feMergeNode in="k4"/></feMerge></filter>
<filter id="bOs" x="-8%" y="-6%" width="116%" height="112%" color-interpolation-filters="sRGB"><feTurbulence type="fractalNoise" baseFrequency="0.035" numOctaves="2" seed="4" result="dn"/><feDisplacementMap in="SourceGraphic" in2="dn" scale="24" xChannelSelector="R" yChannelSelector="G" result="src"/><feTurbulence type="fractalNoise" baseFrequency="0.05 0.22" numOctaves="2" seed="13" result="n0"/><feColorMatrix in="n0" type="matrix" values="0 0 0 0 0.851 0 0 0 0 0.627 0 0 0 0 0.090 6 0 0 0 -3.360" result="c0"/><feComposite in="c0" in2="src" operator="in" result="k0"/><feTurbulence type="fractalNoise" baseFrequency="0.305" numOctaves="2" seed="15" result="n1"/><feColorMatrix in="n1" type="matrix" values="0 0 0 0 0.933 0 0 0 0 0.259 0 0 0 0 0.451 9 0 0 0 -5.940" result="c1"/><feComposite in="c1" in2="src" operator="in" result="k1"/><feTurbulence type="fractalNoise" baseFrequency="0.497" numOctaves="1" seed="16" result="n2"/><feColorMatrix in="n2" type="matrix" values="0 0 0 0 0.227 0 0 0 0 0.165 0 0 0 0 0.063 8 0 0 0 -5.440" result="c2"/><feComposite in="c2" in2="src" operator="in" result="k2"/><feMerge><feMergeNode in="src"/><feMergeNode in="k0"/><feMergeNode in="k1"/><feMergeNode in="k2"/></feMerge></filter>
<filter id="bIs" x="-8%" y="-6%" width="116%" height="112%" color-interpolation-filters="sRGB"><feTurbulence type="fractalNoise" baseFrequency="0.035" numOctaves="2" seed="6" result="dn"/><feDisplacementMap in="SourceGraphic" in2="dn" scale="24" xChannelSelector="R" yChannelSelector="G" result="src"/><feTurbulence type="fractalNoise" baseFrequency="0.1 0.35" numOctaves="2" seed="23" result="n0"/><feColorMatrix in="n0" type="matrix" values="0 0 0 0 0.420 0 0 0 0 0.325 0 0 0 0 0.071 6 0 0 0 -3.300" result="c0"/><feComposite in="c0" in2="src" operator="in" result="k0"/><feTurbulence type="fractalNoise" baseFrequency="0.12 0.4" numOctaves="2" seed="25" result="n1"/><feColorMatrix in="n1" type="matrix" values="0 0 0 0 0.133 0 0 0 0 0.690 0 0 0 0 0.541 7 0 0 0 -4.200" result="c1"/><feComposite in="c1" in2="src" operator="in" result="k1"/><feTurbulence type="fractalNoise" baseFrequency="0.15 0.45" numOctaves="2" seed="26" result="n2"/><feColorMatrix in="n2" type="matrix" values="0 0 0 0 0.839 0 0 0 0 0.200 0 0 0 0 0.659 8 0 0 0 -4.800" result="c2"/><feComposite in="c2" in2="src" operator="in" result="k2"/><feTurbulence type="fractalNoise" baseFrequency="0.1 0.4" numOctaves="2" seed="27" result="n3"/><feColorMatrix in="n3" type="matrix" values="0 0 0 0 0.102 0 0 0 0 0.102 0 0 0 0 0.102 10 0 0 0 -6.600" result="c3"/><feComposite in="c3" in2="src" operator="in" result="k3"/><feMerge><feMergeNode in="src"/><feMergeNode in="k0"/><feMergeNode in="k1"/><feMergeNode in="k2"/><feMergeNode in="k3"/></feMerge></filter>
<filter id="bIm" x="-8%" y="-6%" width="116%" height="112%" color-interpolation-filters="sRGB"><feTurbulence type="fractalNoise" baseFrequency="0.04" numOctaves="2" seed="8" result="dn"/><feDisplacementMap in="SourceGraphic" in2="dn" scale="14" xChannelSelector="R" yChannelSelector="G" result="src"/><feTurbulence type="fractalNoise" baseFrequency="0.1 0.45" numOctaves="2" seed="33" result="n0"/><feColorMatrix in="n0" type="matrix" values="0 0 0 0 0.067 0 0 0 0 0.067 0 0 0 0 0.067 10 0 0 0 -6.200" result="c0"/><feComposite in="c0" in2="src" operator="in" result="k0"/><feTurbulence type="fractalNoise" baseFrequency="0.15 0.5" numOctaves="2" seed="35" result="n1"/><feColorMatrix in="n1" type="matrix" values="0 0 0 0 0.839 0 0 0 0 0.200 0 0 0 0 0.659 9 0 0 0 -5.940" result="c1"/><feComposite in="c1" in2="src" operator="in" result="k1"/><feTurbulence type="fractalNoise" baseFrequency="0.1 0.4" numOctaves="2" seed="36" result="n2"/><feColorMatrix in="n2" type="matrix" values="0 0 0 0 0.373 0 0 0 0 0.847 0 0 0 0 0.690 5 0 0 0 -3.000" result="c2"/><feComposite in="c2" in2="src" operator="in" result="k2"/><feMerge><feMergeNode in="src"/><feMergeNode in="k0"/><feMergeNode in="k1"/><feMergeNode in="k2"/></feMerge></filter>
<filter id="bCtC" x="-8%" y="-6%" width="116%" height="112%" color-interpolation-filters="sRGB"><feTurbulence type="fractalNoise" baseFrequency="0.04" numOctaves="2" seed="2" result="dn"/><feDisplacementMap in="SourceGraphic" in2="dn" scale="20" xChannelSelector="R" yChannelSelector="G" result="src"/><feTurbulence type="fractalNoise" baseFrequency="0.171" numOctaves="2" seed="43" result="n0"/><feColorMatrix in="n0" type="matrix" values="0 0 0 0 0.231 0 0 0 0 0.690 0 0 0 0 0.416 12 0 0 0 -6.720" result="c0"/><feComposite in="c0" in2="src" operator="in" result="k0"/><feTurbulence type="fractalNoise" baseFrequency="0.209" numOctaves="2" seed="45" result="n1"/><feColorMatrix in="n1" type="matrix" values="0 0 0 0 1.000 0 0 0 0 0.753 0 0 0 0 0.416 12 0 0 0 -7.440" result="c1"/><feComposite in="c1" in2="src" operator="in" result="k1"/><feTurbulence type="fractalNoise" baseFrequency="0.305" numOctaves="2" seed="46" result="n2"/><feColorMatrix in="n2" type="matrix" values="0 0 0 0 0.843 0 0 0 0 0.216 0 0 0 0 0.620 9 0 0 0 -5.580" result="c2"/><feComposite in="c2" in2="src" operator="in" result="k2"/><feTurbulence type="fractalNoise" baseFrequency="0.132" numOctaves="2" seed="47" result="n3"/><feColorMatrix in="n3" type="matrix" values="0 0 0 0 0.176 0 0 0 0 0.722 0 0 0 0 0.553 12 0 0 0 -7.440" result="c3"/><feComposite in="c3" in2="src" operator="in" result="k3"/><feTurbulence type="fractalNoise" baseFrequency="0.171" numOctaves="1" seed="48" result="n4"/><feColorMatrix in="n4" type="matrix" values="0 0 0 0 0.227 0 0 0 0 0.102 0 0 0 0 0.188 30 0 0 0 -21.000" result="c4"/><feComposite in="c4" in2="src" operator="in" result="k4"/><feMerge><feMergeNode in="src"/><feMergeNode in="k0"/><feMergeNode in="k1"/><feMergeNode in="k2"/><feMergeNode in="k3"/><feMergeNode in="k4"/></feMerge></filter>
<filter id="bCtP" x="-8%" y="-6%" width="116%" height="112%" color-interpolation-filters="sRGB"><feTurbulence type="fractalNoise" baseFrequency="0.035" numOctaves="2" seed="4" result="dn"/><feDisplacementMap in="SourceGraphic" in2="dn" scale="24" xChannelSelector="R" yChannelSelector="G" result="src"/><feTurbulence type="fractalNoise" baseFrequency="0.09 0.3" numOctaves="2" seed="53" result="n0"/><feColorMatrix in="n0" type="matrix" values="0 0 0 0 0.737 0 0 0 0 0.851 0 0 0 0 0.949 10 0 0 0 -5.600" result="c0"/><feComposite in="c0" in2="src" operator="in" result="k0"/><feTurbulence type="fractalNoise" baseFrequency="0.401" numOctaves="2" seed="55" result="n1"/><feColorMatrix in="n1" type="matrix" values="0 0 0 0 0.843 0 0 0 0 0.216 0 0 0 0 0.620 9 0 0 0 -5.580" result="c1"/><feComposite in="c1" in2="src" operator="in" result="k1"/><feTurbulence type="fractalNoise" baseFrequency="0.305" numOctaves="2" seed="56" result="n2"/><feColorMatrix in="n2" type="matrix" values="0 0 0 0 0.937 0 0 0 0 0.490 0 0 0 0 0.133 9 0 0 0 -5.940" result="c2"/><feComposite in="c2" in2="src" operator="in" result="k2"/><feMerge><feMergeNode in="src"/><feMergeNode in="k0"/><feMergeNode in="k1"/><feMergeNode in="k2"/></feMerge></filter>
<filter id="bCtI" x="-8%" y="-6%" width="116%" height="112%" color-interpolation-filters="sRGB"><feTurbulence type="fractalNoise" baseFrequency="0.035" numOctaves="2" seed="6" result="dn"/><feDisplacementMap in="SourceGraphic" in2="dn" scale="24" xChannelSelector="R" yChannelSelector="G" result="src"/><feTurbulence type="fractalNoise" baseFrequency="0.25 0.4" numOctaves="2" seed="63" result="n0"/><feColorMatrix in="n0" type="matrix" values="0 0 0 0 0.839 0 0 0 0 0.192 0 0 0 0 0.643 8 0 0 0 -4.240" result="c0"/><feComposite in="c0" in2="src" operator="in" result="k0"/><feTurbulence type="fractalNoise" baseFrequency="0.305" numOctaves="2" seed="65" result="n1"/><feColorMatrix in="n1" type="matrix" values="0 0 0 0 0.941 0 0 0 0 0.541 0 0 0 0 0.188 8 0 0 0 -4.560" result="c1"/><feComposite in="c1" in2="src" operator="in" result="k1"/><feTurbulence type="fractalNoise" baseFrequency="0.305" numOctaves="2" seed="66" result="n2"/><feColorMatrix in="n2" type="matrix" values="0 0 0 0 0.933 0 0 0 0 0.769 0 0 0 0 0.933 7 0 0 0 -4.060" result="c2"/><feComposite in="c2" in2="src" operator="in" result="k2"/><feMerge><feMergeNode in="src"/><feMergeNode in="k0"/><feMergeNode in="k1"/><feMergeNode in="k2"/></feMerge></filter>
<filter id="bCtM" x="-8%" y="-6%" width="116%" height="112%" color-interpolation-filters="sRGB"><feTurbulence type="fractalNoise" baseFrequency="0.04" numOctaves="2" seed="8" result="dn"/><feDisplacementMap in="SourceGraphic" in2="dn" scale="14" xChannelSelector="R" yChannelSelector="G" result="src"/><feTurbulence type="fractalNoise" baseFrequency="0.08 0.3" numOctaves="2" seed="73" result="n0"/><feColorMatrix in="n0" type="matrix" values="0 0 0 0 0.847 0 0 0 0 0.565 0 0 0 0 0.122 9 0 0 0 -4.365" result="c0"/><feComposite in="c0" in2="src" operator="in" result="k0"/><feTurbulence type="fractalNoise" baseFrequency="0.1 0.4" numOctaves="2" seed="75" result="n1"/><feColorMatrix in="n1" type="matrix" values="0 0 0 0 0.839 0 0 0 0 0.192 0 0 0 0 0.643 9 0 0 0 -5.220" result="c1"/><feComposite in="c1" in2="src" operator="in" result="k1"/><feTurbulence type="fractalNoise" baseFrequency="0.1 0.4" numOctaves="2" seed="76" result="n2"/><feColorMatrix in="n2" type="matrix" values="0 0 0 0 1.000 0 0 0 0 1.000 0 0 0 0 1.000 8 0 0 0 -5.280" result="c2"/><feComposite in="c2" in2="src" operator="in" result="k2"/><feMerge><feMergeNode in="src"/><feMergeNode in="k0"/><feMergeNode in="k1"/><feMergeNode in="k2"/></feMerge></filter>
<filter id="bCtM2" x="-8%" y="-6%" width="116%" height="112%" color-interpolation-filters="sRGB"><feTurbulence type="fractalNoise" baseFrequency="0.04" numOctaves="2" seed="8" result="dn"/><feDisplacementMap in="SourceGraphic" in2="dn" scale="14" xChannelSelector="R" yChannelSelector="G" result="src"/><feTurbulence type="fractalNoise" baseFrequency="0.08 0.35" numOctaves="2" seed="77" result="n0"/><feColorMatrix in="n0" type="matrix" values="0 0 0 0 0.839 0 0 0 0 0.192 0 0 0 0 0.643 9 0 0 0 -4.860" result="c0"/><feComposite in="c0" in2="src" operator="in" result="k0"/><feTurbulence type="fractalNoise" baseFrequency="0.1 0.4" numOctaves="2" seed="78" result="n1"/><feColorMatrix in="n1" type="matrix" values="0 0 0 0 0.965 0 0 0 0 0.878 0 0 0 0 0.957 8 0 0 0 -4.800" result="c1"/><feComposite in="c1" in2="src" operator="in" result="k1"/><feTurbulence type="fractalNoise" baseFrequency="0.08 0.3" numOctaves="2" seed="79" result="n2"/><feColorMatrix in="n2" type="matrix" values="0 0 0 0 0.812 0 0 0 0 0.561 0 0 0 0 0.122 9 0 0 0 -6.120" result="c2"/><feComposite in="c2" in2="src" operator="in" result="k2"/><feMerge><feMergeNode in="src"/><feMergeNode in="k0"/><feMergeNode in="k1"/><feMergeNode in="k2"/></feMerge></filter>
<filter id="bPel" x="-8%" y="-6%" width="116%" height="112%" color-interpolation-filters="sRGB"><feTurbulence type="fractalNoise" baseFrequency="0.04" numOctaves="2" seed="8" result="dn"/><feDisplacementMap in="SourceGraphic" in2="dn" scale="14" xChannelSelector="R" yChannelSelector="G" result="src"/><feTurbulence type="fractalNoise" baseFrequency="0.305" numOctaves="2" seed="83" result="n0"/><feColorMatrix in="n0" type="matrix" values="0 0 0 0 0.878 0 0 0 0 0.376 0 0 0 0 0.722 8 0 0 0 -4.800" result="c0"/><feComposite in="c0" in2="src" operator="in" result="k0"/><feTurbulence type="fractalNoise" baseFrequency="0.209" numOctaves="2" seed="85" result="n1"/><feColorMatrix in="n1" type="matrix" values="0 0 0 0 1.000 0 0 0 0 1.000 0 0 0 0 1.000 8 0 0 0 -4.160" result="c1"/><feComposite in="c1" in2="src" operator="in" result="k1"/><feMerge><feMergeNode in="src"/><feMergeNode in="k0"/><feMergeNode in="k1"/></feMerge></filter>
<filter id="flB" x="-30%" y="-30%" width="160%" height="160%" color-interpolation-filters="sRGB"><feTurbulence type="fractalNoise" baseFrequency="0.22" numOctaves="2" seed="3" result="dn"/><feDisplacementMap in="SourceGraphic" in2="dn" scale="5" xChannelSelector="R" yChannelSelector="G" result="src"/><feTurbulence type="fractalNoise" baseFrequency="0.305" numOctaves="2" seed="5" result="n0"/><feColorMatrix in="n0" type="matrix" values="0 0 0 0 0.910 0 0 0 0 0.878 0 0 0 0 0.188 6 0 0 0 -3.240" result="c0"/><feComposite in="c0" in2="src" operator="in" result="k0"/><feTurbulence type="fractalNoise" baseFrequency="0.305" numOctaves="2" seed="6" result="n1"/><feColorMatrix in="n1" type="matrix" values="0 0 0 0 0.122 0 0 0 0 0.435 0 0 0 0 0.525 6 0 0 0 -3.480" result="c1"/><feComposite in="c1" in2="src" operator="in" result="k1"/><feTurbulence type="fractalNoise" baseFrequency="0.401" numOctaves="2" seed="3" result="n2"/><feColorMatrix in="n2" type="matrix" values="0 0 0 0 0.027 0 0 0 0 0.027 0 0 0 0 0.078 6 0 0 0 -3.240" result="c2"/><feComposite in="c2" in2="src" operator="in" result="k2"/><feMerge result="mg"><feMergeNode in="src"/><feMergeNode in="k0"/><feMergeNode in="k1"/><feMergeNode in="k2"/></feMerge><feGaussianBlur in="mg" stdDeviation="0.4"/></filter>
<filter id="flBd" x="-30%" y="-30%" width="160%" height="160%" color-interpolation-filters="sRGB"><feTurbulence type="fractalNoise" baseFrequency="0.22" numOctaves="2" seed="5" result="dn"/><feDisplacementMap in="SourceGraphic" in2="dn" scale="5" xChannelSelector="R" yChannelSelector="G" result="src"/><feTurbulence type="fractalNoise" baseFrequency="0.353" numOctaves="2" seed="9" result="n0"/><feColorMatrix in="n0" type="matrix" values="0 0 0 0 0.816 0 0 0 0 0.800 0 0 0 0 0.220 6 0 0 0 -3.600" result="c0"/><feComposite in="c0" in2="src" operator="in" result="k0"/><feTurbulence type="fractalNoise" baseFrequency="0.305" numOctaves="2" seed="8" result="n1"/><feColorMatrix in="n1" type="matrix" values="0 0 0 0 0.122 0 0 0 0 0.373 0 0 0 0 0.502 6 0 0 0 -3.360" result="c1"/><feComposite in="c1" in2="src" operator="in" result="k1"/><feTurbulence type="fractalNoise" baseFrequency="0.401" numOctaves="2" seed="7" result="n2"/><feColorMatrix in="n2" type="matrix" values="0 0 0 0 0.027 0 0 0 0 0.027 0 0 0 0 0.078 7 0 0 0 -3.360" result="c2"/><feComposite in="c2" in2="src" operator="in" result="k2"/><feMerge result="mg"><feMergeNode in="src"/><feMergeNode in="k0"/><feMergeNode in="k1"/><feMergeNode in="k2"/></feMerge><feGaussianBlur in="mg" stdDeviation="0.4"/></filter>
<filter id="flK" x="-3%" y="-3%" width="106%" height="106%" color-interpolation-filters="sRGB"><feTurbulence type="fractalNoise" baseFrequency="0.593" numOctaves="2" seed="13" result="n0"/><feColorMatrix in="n0" type="matrix" values="0 0 0 0 0.086 0 0 0 0 0.086 0 0 0 0 0.251 6 0 0 0 -3.840" result="c0"/><feComposite in="c0" in2="SourceGraphic" operator="in" result="k0"/><feMerge result="mg"><feMergeNode in="SourceGraphic"/><feMergeNode in="k0"/></feMerge><feGaussianBlur in="mg" stdDeviation="0.3"/></filter>
<filter id="flP" x="-30%" y="-30%" width="160%" height="160%" color-interpolation-filters="sRGB"><feTurbulence type="fractalNoise" baseFrequency="0.22" numOctaves="2" seed="5" result="dn"/><feDisplacementMap in="SourceGraphic" in2="dn" scale="5" xChannelSelector="R" yChannelSelector="G" result="src"/><feTurbulence type="fractalNoise" baseFrequency="0.401" numOctaves="2" seed="27" result="n0"/><feColorMatrix in="n0" type="matrix" values="0 0 0 0 0.027 0 0 0 0 0.027 0 0 0 0 0.078 7 0 0 0 -3.500" result="c0"/><feComposite in="c0" in2="src" operator="in" result="k0"/><feTurbulence type="fractalNoise" baseFrequency="0.449" numOctaves="2" seed="28" result="n1"/><feColorMatrix in="n1" type="matrix" values="0 0 0 0 0.227 0 0 0 0 0.227 0 0 0 0 0.541 6 0 0 0 -3.840" result="c1"/><feComposite in="c1" in2="src" operator="in" result="k1"/><feMerge result="mg"><feMergeNode in="src"/><feMergeNode in="k0"/><feMergeNode in="k1"/></feMerge><feGaussianBlur in="mg" stdDeviation="0.4"/></filter>
<filter id="flKp" x="-3%" y="-3%" width="106%" height="106%" color-interpolation-filters="sRGB"><feTurbulence type="fractalNoise" baseFrequency="0.593" numOctaves="2" seed="17" result="n0"/><feColorMatrix in="n0" type="matrix" values="0 0 0 0 0.165 0 0 0 0 0.110 0 0 0 0 0.298 6 0 0 0 -3.600" result="c0"/><feComposite in="c0" in2="SourceGraphic" operator="in" result="k0"/><feMerge result="mg"><feMergeNode in="SourceGraphic"/><feMergeNode in="k0"/></feMerge><feGaussianBlur in="mg" stdDeviation="0.3"/></filter>
<filter id="flH" x="-40%" y="-40%" width="180%" height="180%"><feGaussianBlur stdDeviation="2.2"/></filter>
<path id="cM14" d="M87.3,110.5 L86.9,114.8 86.4,117.8 85.7,120.4 84.6,123.3 83.5,126.1 82.4,128.4 81.1,130.5 79.3,132.8 77.1,135.2 74.8,137.4 72.3,139.3 69.7,141 67.3,142.3 65.4,143 63.2,143.6 60.7,144.1 58.7,144.4 57.5,144.5 55.7,144.4 52.7,143.9 49.2,143.2 45.9,142.2 42.9,141 40,139.6 37.4,138 34.7,135.9 31.8,133.3 29.1,130.4 26.7,127.4 24.4,124.1 22.4,120.8 20.6,117.1 18.9,113 17.5,109 16.5,105.4 15.8,101.9 15.2,98.1 14.8,94.1 14.6,89.7 14.5,85.2 14.5,81 14.5,77.2 14.8,73.3 15.2,68.9 15.7,64.3 16.4,60.1 17.3,56.3 18.2,52.7 19.4,48.9 20.7,45 22.2,41.3 23.7,37.8 25.5,34.4 27.6,31 29.6,28.1 31.3,26 33,24.3 34.8,22.7 36.8,21.2 39.2,19.7 41.7,18.3 43.9,17.1 45.7,16.3 47.6,15.6 49.4,14.9 50.5,14.6 51.9,14.5 54.5,14.5 57.9,14.8 61.1,15.4 63.9,16.1 66.9,17.2 69.7,18.5 72.5,20.1 75.3,21.9 77.8,23.9 80.1,26 82.1,28.3 83.8,30.5 85,32.5 86,34.6 86.9,36.9 87.8,39.8 88.4,43 88.8,45.6 88.8,47.3"/>
<path id="cM15" d="M89.3,110.6 L88.9,115.1 88.3,118.2 87.6,121 86.5,124 85.3,126.9 84.1,129.4 82.7,131.7 80.9,134.1 78.5,136.6 76.1,138.9 73.5,140.9 70.7,142.7 68.2,144.1 66,144.9 63.7,145.6 61,146.1 58.9,146.4 57.5,146.5 55.5,146.4 52.3,145.9 48.7,145.1 45.3,144.1 42.1,142.8 39,141.4 36.2,139.6 33.4,137.4 30.4,134.7 27.6,131.7 25.1,128.6 22.8,125.2 20.7,121.7 18.8,117.9 17.1,113.7 15.6,109.6 14.6,105.9 13.8,102.2 13.2,98.4 12.8,94.2 12.6,89.7 12.5,85.2 12.5,81 12.5,77.2 12.8,73.2 13.2,68.7 13.8,64.1 14.5,59.7 15.3,55.8 16.3,52.1 17.5,48.3 18.8,44.3 20.3,40.5 21.9,36.9 23.8,33.4 25.9,29.9 28,26.9 29.8,24.7 31.6,22.8 33.5,21.1 35.7,19.6 38.1,18 40.8,16.5 43,15.3 44.9,14.4 46.9,13.7 48.8,13 50.2,12.7 51.8,12.5 54.7,12.5 58.2,12.8 61.5,13.4 64.6,14.2 67.6,15.4 70.6,16.7 73.6,18.4 76.4,20.3 79.1,22.4 81.5,24.6 83.6,27 85.4,29.3 86.8,31.5 87.9,33.8 88.8,36.3 89.7,39.3 90.4,42.6 90.7,45.5 90.8,47.4"/>
<path id="cM16" d="M79.3,110.1 L79,113.8 78.6,116 78,118 77.1,120.5 76.2,122.9 75.4,124.6 74.5,125.9 73.2,127.6 71.4,129.6 69.6,131.3 67.7,132.8 65.6,134.1 64,135 62.8,135.5 61.3,135.8 59.3,136.2 57.9,136.5 57.5,136.5 56.6,136.4 54.2,136.1 51.2,135.4 48.5,134.6 46.1,133.7 43.9,132.6 41.9,131.4 39.8,129.8 37.5,127.6 35.2,125.1 33.1,122.5 31.2,119.8 29.5,117 27.9,113.8 26.4,110.1 25.1,106.6 24.3,103.5 23.6,100.4 23.1,97.1 22.8,93.5 22.6,89.4 22.5,85 22.5,81.1 22.5,77.5 22.7,73.9 23.1,69.8 23.7,65.5 24.3,61.6 25,58.2 25.9,54.9 27,51.4 28.2,47.7 29.5,44.3 30.9,41.3 32.5,38.3 34.3,35.3 36,32.9 37.3,31.3 38.5,30.1 39.8,28.9 41.3,27.8 43.3,26.6 45.6,25.3 47.5,24.2 48.8,23.6 50.3,23.1 51.6,22.6 51.9,22.5 52.2,22.5 54.1,22.5 56.9,22.8 59.4,23.2 61.5,23.8 63.8,24.6 66.1,25.6 68.3,26.9 70.6,28.4 72.6,30 74.4,31.7 76,33.4 77.2,35 78,36.3 78.7,37.7 79.3,39.4 80,41.7 80.5,44.3 80.8,46.3 80.8,47.1"/>
<path id="cF17" d="M92.4,113.4 L92,118.1 91.1,122.4 89.6,126.5 87.4,130.5 84.9,133.9 82,136.6 78.4,139.1 74.4,141.1 70.2,142.8 65.7,143.9 61.4,144.4 57.4,144.3 53.2,143.6 48.7,142.2 43.6,140.1 38.3,137.3 33.6,134.1 29.5,130.4 25.6,126.1 22.1,121.4 18.8,116.1 16,110.3 13.6,104.5 11.7,98.7 10.3,92.9 9.3,87.3 8.7,82.3 8.5,77.7 8.5,72.8 8.7,67.8 9.1,63.1 9.9,58.2 11.2,52.9 12.7,47.6 14.7,42.5 17.1,37.5 19.9,32.7 23,28.2 26.7,23.9 30.8,19.8 34.9,16.3 38.6,13.8 42.2,11.8 45.9,10.3 49.7,9.2 53.4,8.6 57.3,8.5 62,9.1 67.1,10.3 71.5,12 75.4,14.2 78.9,17 81.9,20.2 84.5,24.2 86.8,29.2 88.5,33.8 89.4,37.1 89.8,39.8 89.7,42.5 89.4,45.2"/>
<path id="cM18" d="M85.8,110.4 L85.4,114.6 84.9,117.4 84.2,120 83.2,122.8 82.1,125.5 81.1,127.7 79.9,129.7 78.2,131.8 76.1,134.1 73.8,136.2 71.5,138 68.9,139.7 66.7,140.9 64.9,141.6 62.8,142.2 60.4,142.6 58.6,142.9 57.5,143 55.9,142.9 53,142.5 49.6,141.7 46.4,140.8 43.5,139.6 40.7,138.3 38.2,136.8 35.6,134.7 32.9,132.2 30.3,129.4 27.9,126.5 25.7,123.3 23.8,120.1 22,116.4 20.3,112.5 19,108.6 18,105.1 17.2,101.6 16.7,97.9 16.3,94 16.1,89.6 16,85.1 16,81 16,77.3 16.3,73.4 16.7,69.1 17.2,64.6 17.9,60.4 18.7,56.6 19.7,53.1 20.8,49.3 22.1,45.5 23.5,41.8 25.1,38.5 26.9,35.1 28.9,31.8 30.8,29 32.4,27 34,25.3 35.7,23.9 37.6,22.5 39.9,21 42.5,19.6 44.6,18.4 46.3,17.6 48.1,17 49.8,16.4 50.8,16.1 51.9,16 54.5,16 57.8,16.3 60.8,16.8 63.5,17.6 66.3,18.6 69,19.9 71.7,21.4 74.4,23.2 76.8,25.1 79,27.1 81,29.2 82.5,31.3 83.7,33.2 84.6,35.2 85.5,37.4 86.3,40.2 86.9,43.2 87.3,45.8 87.3,47.3"/>
<path id="cF19" d="M92.9,113.4 L92.5,118.2 91.6,122.6 90,126.7 87.9,130.8 85.3,134.2 82.3,137 78.6,139.5 74.6,141.6 70.3,143.3 65.8,144.4 61.4,144.9 57.3,144.8 53.1,144.1 48.5,142.7 43.4,140.5 38.1,137.7 33.3,134.5 29.1,130.8 25.2,126.4 21.6,121.6 18.4,116.3 15.5,110.5 13.1,104.6 11.2,98.9 9.8,93 8.8,87.4 8.2,82.4 8,77.7 8,72.8 8.2,67.8 8.6,63 9.4,58.1 10.7,52.8 12.3,47.4 14.2,42.3 16.7,37.3 19.5,32.4 22.6,27.9 26.3,23.5 30.5,19.4 34.6,15.9 38.3,13.3 41.9,11.4 45.7,9.9 49.6,8.7 53.4,8.1 57.3,8 62.1,8.6 67.2,9.8 71.8,11.5 75.6,13.8 79.2,16.7 82.3,19.9 84.9,24 87.3,29 89,33.6 89.9,37 90.2,39.8 90.2,42.5 89.9,45.3"/>
<path id="cM20" d="M86.3,110.5 L85.9,114.7 85.4,117.5 84.7,120.1 83.7,122.9 82.6,125.7 81.5,128 80.3,129.9 78.6,132.2 76.4,134.5 74.2,136.6 71.8,138.5 69.2,140.1 66.9,141.4 65.1,142.1 63,142.7 60.5,143.1 58.6,143.4 57.5,143.5 55.8,143.4 52.9,143 49.5,142.2 46.3,141.2 43.3,140.1 40.5,138.7 37.9,137.2 35.3,135.1 32.5,132.5 29.9,129.7 27.5,126.8 25.3,123.6 23.3,120.3 21.5,116.6 19.9,112.6 18.5,108.7 17.5,105.2 16.7,101.7 16.2,98 15.8,94 15.6,89.6 15.5,85.2 15.5,81 15.5,77.3 15.8,73.4 16.2,69 16.7,64.5 17.4,60.3 18.2,56.5 19.2,52.9 20.3,49.2 21.7,45.3 23.1,41.6 24.6,38.3 26.4,34.9 28.5,31.5 30.4,28.7 32.1,26.7 33.7,25 35.4,23.5 37.4,22 39.7,20.6 42.2,19.2 44.4,18 46.1,17.2 47.9,16.5 49.7,15.9 50.7,15.6 51.9,15.5 54.5,15.5 57.8,15.8 60.9,16.3 63.6,17.1 66.5,18.1 69.3,19.4 72,20.9 74.7,22.7 77.1,24.7 79.3,26.7 81.3,28.9 83,31 84.1,32.9 85.1,35 86,37.3 86.8,40.1 87.4,43.2 87.8,45.7 87.8,47.3"/>
<path id="cF21" d="M88.9,113.3 L88.6,117.6 87.8,121.4 86.4,125 84.5,128.6 82.3,131.5 79.8,133.9 76.6,136.1 73,138 69.1,139.4 65.1,140.5 61.3,140.9 57.7,140.8 54,140.2 49.9,138.9 45.1,136.9 40.1,134.3 35.8,131.3 31.9,127.9 28.3,123.9 25,119.4 21.9,114.4 19.2,108.8 16.9,103.3 15.1,97.8 13.7,92.2 12.8,86.8 12.2,82 12,77.6 12,72.9 12.2,68.1 12.6,63.5 13.4,58.9 14.5,53.8 16.1,48.7 17.9,43.9 20.2,39.2 22.8,34.6 25.8,30.3 29.3,26.3 33.2,22.3 37,19.1 40.4,16.7 43.6,15 47,13.6 50.5,12.6 53.7,12 57.1,12 61.4,12.5 66.1,13.6 70,15.1 73.4,17.1 76.5,19.6 79.1,22.3 81.4,25.9 83.6,30.6 85.2,34.9 86,37.8 86.3,40 86.2,42.3 85.9,44.5"/>
<path id="cM22" d="M80.8,110.2 L80.5,114 80,116.3 79.4,118.5 78.5,121 77.6,123.5 76.7,125.3 75.8,126.8 74.4,128.6 72.5,130.6 70.6,132.4 68.6,134 66.4,135.4 64.6,136.4 63.3,136.9 61.7,137.3 59.6,137.7 58,138 57.5,138 56.4,137.9 53.9,137.5 50.8,136.9 48.1,136 45.5,135 43.1,133.9 41.1,132.7 38.9,130.9 36.4,128.6 34,126.1 31.9,123.4 29.9,120.6 28.2,117.7 26.5,114.4 25,110.7 23.7,107.1 22.8,103.9 22.2,100.7 21.6,97.3 21.3,93.6 21.1,89.4 21,85.1 21,81.1 21,77.5 21.2,73.8 21.6,69.6 22.2,65.3 22.8,61.3 23.6,57.8 24.5,54.4 25.6,50.9 26.8,47.2 28.1,43.8 29.5,40.7 31.2,37.6 33.1,34.5 34.8,32 36.2,30.3 37.5,29 38.9,27.7 40.5,26.6 42.5,25.3 44.9,24 46.9,22.9 48.2,22.2 49.8,21.7 51.2,21.2 51.6,21 52.1,21 54.2,21 57.1,21.3 59.7,21.7 62,22.3 64.4,23.2 66.8,24.3 69.1,25.6 71.4,27.2 73.5,28.9 75.4,30.6 77.1,32.5 78.4,34.2 79.3,35.6 80.1,37.1 80.8,39 81.4,41.4 82,44.1 82.3,46.2 82.3,47.2"/>
<filter id="stY" x="-10%" y="-20%" width="120%" height="140%" color-interpolation-filters="sRGB"><feTurbulence type="fractalNoise" baseFrequency="0.2" numOctaves="2" seed="2" result="dn"/><feDisplacementMap in="SourceGraphic" in2="dn" scale="6" xChannelSelector="R" yChannelSelector="G" result="src"/><feTurbulence type="fractalNoise" baseFrequency="0.305" numOctaves="2" seed="2" result="n0"/><feColorMatrix in="n0" type="matrix" values="0 0 0 0 0.353 0 0 0 0 0.478 0 0 0 0 0.188 6 0 0 0 -2.820" result="c0"/><feComposite in="c0" in2="src" operator="in" result="k0"/><feTurbulence type="fractalNoise" baseFrequency="0.334" numOctaves="2" seed="3" result="n1"/><feColorMatrix in="n1" type="matrix" values="0 0 0 0 0.784 0 0 0 0 0.737 0 0 0 0 0.157 7 0 0 0 -3.500" result="c1"/><feComposite in="c1" in2="src" operator="in" result="k1"/><feTurbulence type="fractalNoise" baseFrequency="0.401" numOctaves="2" seed="4" result="n2"/><feColorMatrix in="n2" type="matrix" values="0 0 0 0 0.867 0 0 0 0 0.816 0 0 0 0 0.196 7 0 0 0 -4.340" result="c2"/><feComposite in="c2" in2="src" operator="in" result="k2"/><feMerge result="mg"><feMergeNode in="k0"/><feMergeNode in="k1"/><feMergeNode in="k2"/></feMerge><feGaussianBlur in="mg" stdDeviation="0.4"/></filter>
<filter id="stG" x="-10%" y="-20%" width="120%" height="140%" color-interpolation-filters="sRGB"><feTurbulence type="fractalNoise" baseFrequency="0.2" numOctaves="2" seed="4" result="dn"/><feDisplacementMap in="SourceGraphic" in2="dn" scale="6" xChannelSelector="R" yChannelSelector="G" result="src"/><feTurbulence type="fractalNoise" baseFrequency="0.305" numOctaves="2" seed="5" result="n0"/><feColorMatrix in="n0" type="matrix" values="0 0 0 0 0.122 0 0 0 0 0.416 0 0 0 0 0.416 6 0 0 0 -2.820" result="c0"/><feComposite in="c0" in2="src" operator="in" result="k0"/><feTurbulence type="fractalNoise" baseFrequency="0.353" numOctaves="2" seed="6" result="n1"/><feColorMatrix in="n1" type="matrix" values="0 0 0 0 0.247 0 0 0 0 0.604 0 0 0 0 0.416 7 0 0 0 -3.710" result="c1"/><feComposite in="c1" in2="src" operator="in" result="k1"/><feTurbulence type="fractalNoise" baseFrequency="0.401" numOctaves="2" seed="8" result="n2"/><feColorMatrix in="n2" type="matrix" values="0 0 0 0 0.706 0 0 0 0 0.784 0 0 0 0 0.227 7 0 0 0 -4.410" result="c2"/><feComposite in="c2" in2="src" operator="in" result="k2"/><feMerge result="mg"><feMergeNode in="k0"/><feMergeNode in="k1"/><feMergeNode in="k2"/></feMerge><feGaussianBlur in="mg" stdDeviation="0.4"/></filter>
<filter id="stO" x="-10%" y="-20%" width="120%" height="140%" color-interpolation-filters="sRGB"><feTurbulence type="fractalNoise" baseFrequency="0.2" numOctaves="2" seed="5" result="dn"/><feDisplacementMap in="SourceGraphic" in2="dn" scale="6" xChannelSelector="R" yChannelSelector="G" result="src"/><feTurbulence type="fractalNoise" baseFrequency="0.305" numOctaves="2" seed="9" result="n0"/><feColorMatrix in="n0" type="matrix" values="0 0 0 0 0.227 0 0 0 0 0.353 0 0 0 0 0.290 6 0 0 0 -3.120" result="c0"/><feComposite in="c0" in2="src" operator="in" result="k0"/><feTurbulence type="fractalNoise" baseFrequency="0.363" numOctaves="2" seed="10" result="n1"/><feColorMatrix in="n1" type="matrix" values="0 0 0 0 0.690 0 0 0 0 0.659 0 0 0 0 0.188 7 0 0 0 -4.060" result="c1"/><feComposite in="c1" in2="src" operator="in" result="k1"/><feMerge result="mg"><feMergeNode in="k0"/><feMergeNode in="k1"/></feMerge><feGaussianBlur in="mg" stdDeviation="0.4"/></filter>
<filter id="stD" x="-10%" y="-20%" width="120%" height="140%" color-interpolation-filters="sRGB"><feTurbulence type="fractalNoise" baseFrequency="0.2" numOctaves="2" seed="6" result="dn"/><feDisplacementMap in="SourceGraphic" in2="dn" scale="6" xChannelSelector="R" yChannelSelector="G" result="src"/><feTurbulence type="fractalNoise" baseFrequency="0.401" numOctaves="2" seed="7" result="n0"/><feColorMatrix in="n0" type="matrix" values="0 0 0 0 0.165 0 0 0 0 0.133 0 0 0 0 0.345 6 0 0 0 -3.000" result="c0"/><feComposite in="c0" in2="src" operator="in" result="k0"/><feMerge result="mg"><feMergeNode in="k0"/></feMerge><feGaussianBlur in="mg" stdDeviation="0.4"/></filter>
<filter id="stB" x="-10%" y="-20%" width="120%" height="140%" color-interpolation-filters="sRGB"><feTurbulence type="fractalNoise" baseFrequency="0.3" numOctaves="2" seed="2" result="dn"/><feDisplacementMap in="SourceGraphic" in2="dn" scale="3" xChannelSelector="R" yChannelSelector="G" result="src"/><feTurbulence type="fractalNoise" baseFrequency="0.449" numOctaves="2" seed="3" result="n0"/><feColorMatrix in="n0" type="matrix" values="0 0 0 0 0.027 0 0 0 0 0.027 0 0 0 0 0.027 7 0 0 0 -3.500" result="c0"/><feComposite in="c0" in2="src" operator="in" result="k0"/><feTurbulence type="fractalNoise" baseFrequency="0.401" numOctaves="2" seed="4" result="n1"/><feColorMatrix in="n1" type="matrix" values="0 0 0 0 0.180 0 0 0 0 0.604 0 0 0 0 0.416 6 0 0 0 -3.720" result="c1"/><feComposite in="c1" in2="src" operator="in" result="k1"/><feMerge result="mg"><feMergeNode in="src"/><feMergeNode in="k0"/><feMergeNode in="k1"/></feMerge><feGaussianBlur in="mg" stdDeviation="0.3"/></filter>
<filter id="tGreen" x="-5%" y="-5%" width="110%" height="110%" color-interpolation-filters="sRGB"><feTurbulence type="fractalNoise" baseFrequency="0.545" numOctaves="1" seed="3" result="n0"/><feColorMatrix in="n0" type="matrix" values="0 0 0 0 0.498 0 0 0 0 0.878 0 0 0 0 0.722 7 0 0 0 -4.340" result="c0"/><feComposite in="c0" in2="SourceGraphic" operator="in" result="k0"/><feTurbulence type="fractalNoise" baseFrequency="0.305" numOctaves="2" seed="4" result="n1"/><feColorMatrix in="n1" type="matrix" values="0 0 0 0 0.082 0 0 0 0 0.537 0 0 0 0 0.373 5 0 0 0 -3.000" result="c1"/><feComposite in="c1" in2="SourceGraphic" operator="in" result="k1"/><feMerge><feMergeNode in="SourceGraphic"/><feMergeNode in="k0"/><feMergeNode in="k1"/></feMerge></filter>
<filter id="tChan" x="-20%" y="-30%" width="140%" height="160%" color-interpolation-filters="sRGB"><feGaussianBlur in="SourceAlpha" stdDeviation="2.6" result="soft"/><feTurbulence type="fractalNoise" baseFrequency="0.085" numOctaves="3" seed="8" result="nz"/><feColorMatrix in="nz" type="matrix" values="0 0 0 0 0 0 0 0 0 0 0 0 0 0 0 1 0 0 0 0" result="na"/><feComposite in="soft" in2="na" operator="arithmetic" k1="0" k2="1.25" k3="2.6" k4="-1.3" result="sum"/><feColorMatrix in="sum" type="matrix" values="0 0 0 0 0.13 0 0 0 0 0.13 0 0 0 0 0.13 0 0 0 14 -6.3" result="ch"/><feTurbulence type="fractalNoise" baseFrequency="0.27" numOctaves="2" seed="6" result="n1"/><feColorMatrix in="n1" type="matrix" values="0 0 0 0 0.58 0 0 0 0 0.58 0 0 0 0 0.58 5 0 0 0 -2.2" result="g1"/><feComposite in="g1" in2="ch" operator="in" result="g1c"/><feColorMatrix in="n1" type="matrix" values="0 0 0 0 1 0 0 0 0 1 0 0 0 0 1 10 0 0 0 -6.3" result="w1"/><feComposite in="w1" in2="ch" operator="in" result="w1c"/><feMerge><feMergeNode in="ch"/><feMergeNode in="g1c"/><feMergeNode in="w1c"/></feMerge></filter>
<filter id="tRed" x="-15%" y="-15%" width="130%" height="130%" color-interpolation-filters="sRGB"><feTurbulence type="fractalNoise" baseFrequency="0.07" numOctaves="2" seed="9" result="dn"/><feDisplacementMap in="SourceGraphic" in2="dn" scale="22" xChannelSelector="R" yChannelSelector="G" result="src"/><feTurbulence type="fractalNoise" baseFrequency="0.497" numOctaves="2" seed="9" result="n0"/><feColorMatrix in="n0" type="matrix" values="0 0 0 0 0.165 0 0 0 0 0.078 0 0 0 0 0.078 7 0 0 0 -3.990" result="c0"/><feComposite in="c0" in2="src" operator="in" result="k0"/><feTurbulence type="fractalNoise" baseFrequency="0.497" numOctaves="1" seed="10" result="n1"/><feColorMatrix in="n1" type="matrix" values="0 0 0 0 0.949 0 0 0 0 0.604 0 0 0 0 0.627 6 0 0 0 -3.840" result="c1"/><feComposite in="c1" in2="src" operator="in" result="k1"/><feMerge><feMergeNode in="src"/><feMergeNode in="k0"/><feMergeNode in="k1"/></feMerge></filter>
<filter id="tRedS" x="-5%" y="-5%" width="110%" height="110%" color-interpolation-filters="sRGB"><feTurbulence type="fractalNoise" baseFrequency="0.45" numOctaves="2" seed="12"/><feColorMatrix type="matrix" values="0 0 0 0 0.85 0 0 0 0 0.34 0 0 0 0 0.42 9 0 0 0 -4.5"/><feComposite in2="SourceGraphic" operator="in"/></filter>
<filter id="tOrg" x="-5%" y="-5%" width="110%" height="110%" color-interpolation-filters="sRGB"><feTurbulence type="fractalNoise" baseFrequency="0.545" numOctaves="1" seed="22" result="n0"/><feColorMatrix in="n0" type="matrix" values="0 0 0 0 0.863 0 0 0 0 0.541 0 0 0 0 0.149 9 0 0 0 -3.600" result="c0"/><feComposite in="c0" in2="SourceGraphic" operator="in" result="k0"/><feTurbulence type="fractalNoise" baseFrequency="0.497" numOctaves="1" seed="24" result="n1"/><feColorMatrix in="n1" type="matrix" values="0 0 0 0 0.878 0 0 0 0 0.604 0 0 0 0 0.227 9 0 0 0 -4.500" result="c1"/><feComposite in="c1" in2="SourceGraphic" operator="in" result="k1"/><feTurbulence type="fractalNoise" baseFrequency="0.497" numOctaves="1" seed="23" result="n2"/><feColorMatrix in="n2" type="matrix" values="0 0 0 0 0.706 0 0 0 0 0.400 0 0 0 0 0.055 8 0 0 0 -5.120" result="c2"/><feComposite in="c2" in2="SourceGraphic" operator="in" result="k2"/><feMerge><feMergeNode in="k0"/><feMergeNode in="k1"/><feMergeNode in="k2"/></feMerge></filter>
<clipPath id="ctfF"><rect x="289.2" y="631.6" width="131.2" height="130.8"/></clipPath>
<clipPath id="ctfM"><rect x="289.2" y="768.8" width="131.2" height="131.3"/></clipPath>
<clipPath id="cthF"><rect x="727.6" y="631.6" width="131.3" height="130.8"/></clipPath>
<clipPath id="cthM"><rect x="727.6" y="769.3" width="131.3" height="131"/></clipPath>
<marker id="arw" markerWidth="6" markerHeight="6" refX="3" refY="3" orient="auto"><path d="M0,0.4 L5.4,3 L0,5.6Z" fill="#fff"/></marker>
<path id="cF23" d="M94.7,109.4 L94.9,113.5 94.5,118.4 93.5,123.1 91.9,127.5 89.5,131.8 86.8,135.5 83.6,138.6 79.7,141.2 75.4,143.4 70.9,145.2 66.2,146.4 61.5,146.9 57.1,146.8 52.6,146 47.8,144.6 42.5,142.3 37.1,139.4 32.1,136.1 27.7,132.2 23.7,127.7 20,122.7 16.7,117.3 13.7,111.3 11.2,105.3 9.3,99.4 7.9,93.4 6.8,87.7 6.2,82.5 6,77.7 6,72.7 6.2,67.7 6.7,62.7 7.5,57.7 8.7,52.3 10.4,46.8 12.4,41.5 14.9,36.3 17.8,31.3 21,26.7 24.9,22.2 29.2,17.9 33.4,14.3 37.3,11.6 41.1,9.6 45.1,8 49.2,6.8 53.2,6.1 57.5,6 62.5,6.6 67.8,7.9 72.6,9.7 76.8,12.1 80.6,15.2 83.9,18.7 86.7,23 89.1,28.2 90.9,33 91.9,36.6 92.2,39.7 92.2,42.7 91.8,45.7 91,48.5"/>
<path id="cM24" d="M91.4,105.5 L91.3,110.7 90.9,115.3 90.3,118.6 89.5,121.6 88.4,124.7 87.2,127.7 85.9,130.4 84.4,132.8 82.4,135.4 80,138 77.4,140.4 74.7,142.5 71.7,144.4 69,145.9 66.6,146.8 64.1,147.5 61.4,148.1 59.1,148.4 57.5,148.5 55.3,148.4 52,147.9 48.2,147.1 44.6,146 41.3,144.7 38.1,143.1 35.1,141.3 32.1,138.9 29,136.1 26.1,133 23.5,129.8 21.1,126.3 18.9,122.7 17,118.7 15.2,114.4 13.7,110.2 12.6,106.4 11.8,102.6 11.2,98.6 10.8,94.3 10.6,89.8 10.5,85.2 10.5,81 10.5,77.1 10.8,73 11.2,68.5 11.8,63.8 12.5,59.4 13.4,55.4 14.4,51.6 15.6,47.6 17,43.6 18.5,39.7 20.1,36 22.1,32.4 24.3,28.8 26.4,25.7 28.3,23.3 30.3,21.4 32.3,19.6 34.6,17.9 37.1,16.3 39.8,14.8 42.1,13.5 44.1,12.6 46.2,11.8 48.3,11.1 49.9,10.7 51.7,10.5 54.8,10.5 58.5,10.9 61.9,11.5 65.2,12.3 68.4,13.5 71.5,15 74.6,16.7 77.6,18.7 80.4,20.9 82.9,23.2 85.2,25.7 87.1,28.2 88.5,30.5 89.7,33 90.7,35.7 91.6,38.9 92.3,42.3 92.7,45.3 92.8,47.4 92.6,49.2 92.3,50.8 91.8,52.4"/>
<path id="cM25" d="M79.9,105.5 L79.8,110.1 79.5,113.9 79.1,116.1 78.5,118.2 77.6,120.7 76.6,123.1 75.8,124.8 74.9,126.2 73.6,128 71.8,129.9 70,131.6 68,133.2 65.8,134.6 64.2,135.5 63,135.9 61.5,136.3 59.4,136.7 57.9,137 57.5,137 56.5,136.9 54.1,136.6 51.1,135.9 48.4,135.1 45.9,134.1 43.6,133 41.7,131.8 39.5,130.2 37.1,127.9 34.8,125.4 32.7,122.8 30.8,120.1 29,117.2 27.4,114 25.9,110.3 24.7,106.7 23.8,103.6 23.1,100.5 22.6,97.2 22.3,93.5 22.1,89.4 22,85 22,81.1 22,77.5 22.2,73.9 22.6,69.7 23.2,65.4 23.8,61.5 24.6,58 25.4,54.7 26.5,51.2 27.8,47.5 29.1,44.1 30.4,41.1 32.1,38.1 33.9,35 35.6,32.6 36.9,31 38.2,29.7 39.5,28.5 41,27.4 43,26.2 45.4,24.8 47.3,23.8 48.6,23.2 50.1,22.6 51.5,22.1 51.8,22 52.2,22 54.2,22 57,22.3 59.5,22.7 61.7,23.3 64,24.1 66.3,25.2 68.6,26.5 70.8,28 72.9,29.6 74.7,31.3 76.4,33.1 77.6,34.7 78.4,36.1 79.1,37.5 79.8,39.3 80.5,41.6 81,44.2 81.3,46.3 81.3,47.1 81.3,47.6 81.2,48 81.1,48.3"/>
<path id="cF26" d="M92.8,109.6 L92.9,113.4 92.5,118.2 91.6,122.6 90,126.7 87.9,130.8 85.3,134.2 82.3,137 78.6,139.5 74.6,141.6 70.3,143.3 65.8,144.4 61.4,144.9 57.3,144.8 53.1,144.1 48.5,142.7 43.4,140.5 38.1,137.7 33.3,134.5 29.1,130.8 25.2,126.4 21.6,121.6 18.4,116.3 15.5,110.5 13.1,104.6 11.2,98.9 9.8,93 8.8,87.4 8.2,82.4 8,77.7 8,72.8 8.2,67.8 8.6,63 9.4,58.1 10.7,52.8 12.3,47.4 14.2,42.3 16.7,37.3 19.5,32.4 22.6,27.9 26.3,23.5 30.5,19.4 34.6,15.9 38.3,13.3 41.9,11.4 45.7,9.9 49.6,8.7 53.4,8.1 57.3,8 62.1,8.6 67.2,9.8 71.8,11.5 75.6,13.8 79.2,16.7 82.3,19.9 84.9,24 87.3,29 89,33.6 89.9,37 90.2,39.8 90.2,42.5 89.9,45.3 89.2,47.9"/>
<path id="cM27" d="M86.4,105.5 L86.3,110.5 85.9,114.7 85.4,117.5 84.7,120.1 83.7,122.9 82.6,125.7 81.5,128 80.3,129.9 78.6,132.2 76.4,134.5 74.2,136.6 71.8,138.5 69.2,140.1 66.9,141.4 65.1,142.1 63,142.7 60.5,143.1 58.6,143.4 57.5,143.5 55.8,143.4 52.9,143 49.5,142.2 46.3,141.2 43.3,140.1 40.5,138.7 37.9,137.2 35.3,135.1 32.5,132.5 29.9,129.7 27.5,126.8 25.3,123.6 23.3,120.3 21.5,116.6 19.9,112.6 18.5,108.7 17.5,105.2 16.7,101.7 16.2,98 15.8,94 15.6,89.6 15.5,85.2 15.5,81 15.5,77.3 15.8,73.4 16.2,69 16.7,64.5 17.4,60.3 18.2,56.5 19.2,52.9 20.3,49.2 21.7,45.3 23.1,41.6 24.6,38.3 26.4,34.9 28.5,31.5 30.4,28.7 32.1,26.7 33.7,25 35.4,23.5 37.4,22 39.7,20.6 42.2,19.2 44.4,18 46.1,17.2 47.9,16.5 49.7,15.9 50.7,15.6 51.9,15.5 54.5,15.5 57.8,15.8 60.9,16.3 63.6,17.1 66.5,18.1 69.3,19.4 72,20.9 74.7,22.7 77.1,24.7 79.3,26.7 81.3,28.9 83,31 84.1,32.9 85.1,35 86,37.3 86.8,40.1 87.4,43.2 87.8,45.7 87.8,47.3 87.7,48.5 87.5,49.6 87.2,50.6"/>
<filter id="flJ" x="-3%" y="-3%" width="106%" height="106%" color-interpolation-filters="sRGB"><feTurbulence type="fractalNoise" baseFrequency="0.401" numOctaves="2" seed="31" result="n0"/><feColorMatrix in="n0" type="matrix" values="0 0 0 0 0.118 0 0 0 0 0.235 0 0 0 0 0.424 6 0 0 0 -3.480" result="c0"/><feComposite in="c0" in2="SourceGraphic" operator="in" result="k0"/><feTurbulence type="fractalNoise" baseFrequency="0.449" numOctaves="2" seed="32" result="n1"/><feColorMatrix in="n1" type="matrix" values="0 0 0 0 0.039 0 0 0 0 0.039 0 0 0 0 0.110 6 0 0 0 -3.360" result="c1"/><feComposite in="c1" in2="SourceGraphic" operator="in" result="k1"/><feMerge result="mg"><feMergeNode in="SourceGraphic"/><feMergeNode in="k0"/><feMergeNode in="k1"/></feMerge><feGaussianBlur in="mg" stdDeviation="0.4"/></filter>
<filter id="flG" x="-5%" y="-5%" width="110%" height="110%" color-interpolation-filters="sRGB"><feTurbulence type="fractalNoise" baseFrequency="0.7" numOctaves="1" seed="33"/><feColorMatrix type="matrix" values="0 0 0 0 0.14 0 0 0 0 0.14 0 0 0 0 0.14 3 0 0 0 -0.9"/><feComposite in2="SourceGraphic" operator="in"/></filter>
<path id="cF28" d="M93.7,109.5 L93.9,113.5 93.5,118.3 92.6,122.8 91,127.1 88.7,131.3 86.1,134.8 82.9,137.8 79.2,140.4 75,142.5 70.6,144.2 66,145.4 61.5,145.9 57.2,145.8 52.9,145 48.2,143.6 43,141.4 37.6,138.6 32.7,135.3 28.4,131.5 24.4,127.1 20.8,122.2 17.5,116.8 14.6,110.9 12.2,105 10.3,99.1 8.9,93.2 7.8,87.5 7.2,82.5 7,77.7 7,72.8 7.2,67.7 7.6,62.9 8.5,57.9 9.7,52.5 11.3,47.1 13.3,41.9 15.8,36.8 18.6,31.9 21.8,27.3 25.6,22.9 29.8,18.7 34,15.1 37.8,12.5 41.5,10.5 45.4,8.9 49.4,7.7 53.3,7.1 57.4,7 62.3,7.6 67.5,8.8 72.2,10.6 76.2,13 79.9,15.9 83.1,19.3 85.8,23.5 88.2,28.6 90,33.3 90.9,36.8 91.2,39.7 91.2,42.6 90.8,45.5 90.1,48.2"/>
<path id="cF29" d="M81.8,110.9 L81.9,113.2 81.6,116.6 81.1,119.5 80,122.1 78.6,124.9 77.1,126.9 75.4,128.4 73,130.1 70.1,131.6 67,132.8 63.8,133.6 60.9,133.9 58.4,133.8 55.6,133.4 52.3,132.3 48.1,130.6 43.8,128.3 40.1,125.8 36.9,123 33.7,119.4 30.8,115.5 28,111 25.5,105.9 23.4,100.8 21.8,95.9 20.6,90.7 19.7,85.7 19.2,81.4 19,77.4 19,73 19.2,68.5 19.5,64.4 20.2,60.2 21.3,55.6 22.7,51 24.3,46.6 26.4,42.4 28.7,38.3 31.3,34.6 34.4,31 38,27.5 41.3,24.6 44.1,22.7 46.6,21.3 49.3,20.2 52.1,19.4 54.4,19 56.7,19 60.1,19.4 64,20.3 67,21.4 69.4,22.9 71.8,24.7 73.6,26.6 75.3,29.3 77.1,33.3 78.6,37 79.1,39.2 79.3,40.4 79.2,41.8 79.1,43.1 78.8,44.2"/>
<path id="cF30" d="M83.8,110.7 L83.9,113.2 83.6,116.9 83,120 81.9,122.9 80.3,125.9 78.6,128.2 76.7,130 74,131.8 70.9,133.4 67.6,134.7 64.2,135.5 61,135.9 58.2,135.8 55.2,135.3 51.6,134.2 47.2,132.4 42.7,130 38.8,127.4 35.5,124.4 32.2,120.7 29.1,116.6 26.3,112 23.7,106.8 21.6,101.5 19.9,96.4 18.6,91.1 17.7,86 17.2,81.6 17,77.5 17,73 17.2,68.4 17.6,64.1 18.3,59.8 19.4,55.1 20.8,50.3 22.5,45.8 24.6,41.5 27.1,37.3 29.7,33.4 32.9,29.7 36.6,26 40.1,23 43.1,21 45.8,19.5 48.7,18.4 51.6,17.5 54.2,17 56.8,17 60.5,17.4 64.6,18.4 67.9,19.6 70.6,21.2 73.1,23.3 75.2,25.4 77,28.4 79,32.5 80.5,36.4 81.1,38.8 81.3,40.3 81.2,41.9 81,43.5 80.7,44.9"/>
<path id="cF31" d="M82.8,110.8 L82.9,113.2 82.6,116.8 82,119.7 81,122.5 79.4,125.4 77.9,127.5 76.1,129.2 73.5,130.9 70.5,132.5 67.3,133.7 64,134.6 61,134.9 58.3,134.8 55.4,134.3 51.9,133.3 47.7,131.5 43.2,129.2 39.4,126.6 36.2,123.7 32.9,120.1 29.9,116 27.2,111.5 24.6,106.3 22.5,101.2 20.9,96.2 19.6,90.9 18.7,85.9 18.2,81.5 18,77.4 18,73 18.2,68.5 18.6,64.3 19.3,60 20.3,55.4 21.7,50.6 23.4,46.2 25.5,42 27.9,37.8 30.5,34 33.7,30.3 37.3,26.8 40.7,23.8 43.6,21.8 46.2,20.4 49,19.3 51.9,18.5 54.3,18 56.8,18 60.3,18.4 64.3,19.3 67.4,20.5 70,22 72.5,24 74.4,26 76.2,28.8 78.1,32.9 79.5,36.7 80.1,39 80.3,40.3 80.2,41.8 80.1,43.3 79.7,44.6"/>
<path id="cM32" d="M82.4,105.5 L82.3,110.2 81.9,114.2 81.5,116.7 80.9,118.9 79.9,121.5 78.9,124.1 78,126 77,127.7 75.5,129.6 73.6,131.7 71.6,133.5 69.4,135.2 67.1,136.7 65.2,137.7 63.8,138.3 62,138.8 59.8,139.2 58.2,139.5 57.5,139.5 56.3,139.4 53.6,139 50.5,138.3 47.6,137.5 44.9,136.4 42.4,135.2 40.2,133.9 37.9,132.1 35.4,129.7 32.9,127.1 30.7,124.4 28.7,121.4 26.8,118.4 25.2,115 23.6,111.2 22.3,107.5 21.4,104.2 20.7,101 20.2,97.5 19.8,93.7 19.6,89.5 19.5,85.1 19.5,81.1 19.5,77.4 19.7,73.7 20.1,69.5 20.7,65.1 21.4,61 22.1,57.5 23,54 24.1,50.4 25.4,46.7 26.8,43.2 28.2,40 29.9,36.8 31.8,33.7 33.6,31.1 35.1,29.3 36.5,27.9 37.9,26.6 39.6,25.3 41.7,24 44.1,22.7 46.2,21.6 47.7,20.9 49.3,20.3 50.8,19.7 51.4,19.6 52.1,19.5 54.3,19.5 57.3,19.8 60,20.2 62.4,20.9 65,21.8 67.4,23 69.9,24.3 72.3,26 74.5,27.7 76.5,29.6 78.3,31.5 79.7,33.3 80.6,34.9 81.4,36.5 82.2,38.5 82.9,41 83.5,43.8 83.8,46 83.8,47.2 83.7,47.9 83.6,48.6"/>
<filter id="tJ1" x="-5%" y="-5%" width="110%" height="110%" color-interpolation-filters="sRGB"><feTurbulence type="fractalNoise" baseFrequency="0.545" numOctaves="1" seed="3" result="n0"/><feColorMatrix in="n0" type="matrix" values="0 0 0 0 0.498 0 0 0 0 0.878 0 0 0 0 0.722 7 0 0 0 -4.340" result="c0"/><feComposite in="c0" in2="SourceGraphic" operator="in" result="k0"/><feTurbulence type="fractalNoise" baseFrequency="0.449" numOctaves="1" seed="41" result="n1"/><feColorMatrix in="n1" type="matrix" values="0 0 0 0 0.851 0 0 0 0 0.784 0 0 0 0 0.122 9 0 0 0 -5.130" result="c1"/><feComposite in="c1" in2="SourceGraphic" operator="in" result="k1"/><feTurbulence type="fractalNoise" baseFrequency="0.449" numOctaves="1" seed="42" result="n2"/><feColorMatrix in="n2" type="matrix" values="0 0 0 0 0.290 0 0 0 0 0.706 0 0 0 0 0.878 9 0 0 0 -5.400" result="c2"/><feComposite in="c2" in2="SourceGraphic" operator="in" result="k2"/><feTurbulence type="fractalNoise" baseFrequency="0.497" numOctaves="1" seed="43" result="n3"/><feColorMatrix in="n3" type="matrix" values="0 0 0 0 0.878 0 0 0 0 0.376 0 0 0 0 0.353 9 0 0 0 -6.120" result="c3"/><feComposite in="c3" in2="SourceGraphic" operator="in" result="k3"/><feMerge><feMergeNode in="SourceGraphic"/><feMergeNode in="k0"/><feMergeNode in="k1"/><feMergeNode in="k2"/><feMergeNode in="k3"/></feMerge></filter>
<filter id="tJ2" x="-5%" y="-5%" width="110%" height="110%" color-interpolation-filters="sRGB"><feTurbulence type="fractalNoise" baseFrequency="0.209" numOctaves="2" seed="5" result="n0"/><feColorMatrix in="n0" type="matrix" values="0 0 0 0 0.235 0 0 0 0 0.235 0 0 0 0 0.235 5 0 0 0 -2.500" result="c0"/><feComposite in="c0" in2="SourceGraphic" operator="in" result="k0"/><feTurbulence type="fractalNoise" baseFrequency="0.305" numOctaves="2" seed="46" result="n1"/><feColorMatrix in="n1" type="matrix" values="0 0 0 0 0.604 0 0 0 0 0.604 0 0 0 0 0.604 7 0 0 0 -4.200" result="c1"/><feComposite in="c1" in2="SourceGraphic" operator="in" result="k1"/><feTurbulence type="fractalNoise" baseFrequency="0.305" numOctaves="2" seed="47" result="n2"/><feColorMatrix in="n2" type="matrix" values="0 0 0 0 1.000 0 0 0 0 1.000 0 0 0 0 1.000 9 0 0 0 -5.670" result="c2"/><feComposite in="c2" in2="SourceGraphic" operator="in" result="k2"/><feMerge><feMergeNode in="SourceGraphic"/><feMergeNode in="k0"/><feMergeNode in="k1"/><feMergeNode in="k2"/></feMerge></filter>
<filter id="tJg" x="-20%" y="-30%" width="140%" height="160%" color-interpolation-filters="sRGB"><feTurbulence type="fractalNoise" baseFrequency="0.1" numOctaves="2" seed="8" result="dn"/><feDisplacementMap in="SourceGraphic" in2="dn" scale="9" xChannelSelector="R" yChannelSelector="G" result="src"/><feTurbulence type="fractalNoise" baseFrequency="0.305" numOctaves="2" seed="48" result="n0"/><feColorMatrix in="n0" type="matrix" values="0 0 0 0 0.373 0 0 0 0 0.839 0 0 0 0 0.651 6 0 0 0 -3.600" result="c0"/><feComposite in="c0" in2="src" operator="in" result="k0"/><feTurbulence type="fractalNoise" baseFrequency="0.305" numOctaves="2" seed="47" result="n1"/><feColorMatrix in="n1" type="matrix" values="0 0 0 0 1.000 0 0 0 0 1.000 0 0 0 0 1.000 9 0 0 0 -6.120" result="c1"/><feComposite in="c1" in2="src" operator="in" result="k1"/><feMerge><feMergeNode in="src"/><feMergeNode in="k0"/><feMergeNode in="k1"/></feMerge></filter>
<filter id="tJy" x="-5%" y="-5%" width="110%" height="110%" color-interpolation-filters="sRGB"><feTurbulence type="fractalNoise" baseFrequency="0.5" numOctaves="1" seed="51"/><feColorMatrix type="matrix" values="0 0 0 0 0.85 0 0 0 0 0.78 0 0 0 0 0.12 9 0 0 0 -5.4"/><feComposite in2="SourceGraphic" operator="in"/></filter>
<clipPath id="cj1"><rect x="240.5" y="985.8" width="97.2" height="82.4"/></clipPath><clipPath id="cj2"><rect x="240.5" y="1071" width="97.2" height="91.5"/></clipPath>
<linearGradient id="plasma" x1="0" y1="1" x2="0" y2="0"><stop offset="0" stop-color="#2a2190"/><stop offset="0.2" stop-color="#5a14a2"/><stop offset="0.4" stop-color="#a021a0"/><stop offset="0.58" stop-color="#d5546e"/><stop offset="0.78" stop-color="#f89540"/><stop offset="1" stop-color="#f6e726"/></linearGradient>
</defs>
<rect width="865" height="1181" fill="#fff"/>
<g id="panel-a">
<text x="0.5" y="14.3" font-weight="bold" font-size="17" fill="#000">a</text>
<text x="73.5" y="14.8" text-anchor="middle" textLength="50" lengthAdjust="spacingAndGlyphs" font-size="11" fill="#1a1a1a">Histology</text>
<text x="184.5" y="14.8" text-anchor="middle" textLength="60" lengthAdjust="spacingAndGlyphs" font-size="11" fill="#1a1a1a">Renal zone</text>
<text x="293" y="14.8" text-anchor="middle" textLength="49" lengthAdjust="spacingAndGlyphs" font-size="11" fill="#1a1a1a">Cell type</text>
<text text-anchor="middle" textLength="40.5" lengthAdjust="spacingAndGlyphs" transform="translate(13.7 102.7) rotate(-90)" font-size="11.5" fill="#e6456f">Female</text>
<text text-anchor="middle" textLength="26" lengthAdjust="spacingAndGlyphs" transform="translate(13.7 265.2) rotate(-90)" font-size="11.5" fill="#6a62b8">Male</text>
<rect x="21.6" y="25.5" width="104.6" height="154.5" fill="#eaf6f9"/>
<rect x="128.9" y="25.5" width="106.5" height="154.5" fill="#eaf6f9"/>
<rect x="239.3" y="25.5" width="105" height="154.5" fill="#eaf6f9"/>
<rect x="20" y="185.3" width="106.2" height="161" fill="#eaf6f9"/>
<rect x="128.9" y="185.3" width="106.5" height="161" fill="#eaf6f9"/>
<rect x="238.8" y="185.3" width="105.5" height="161" fill="#eaf6f9"/>
<g filter="url(#fHE)"><use href="#kF0" transform="translate(24.4 26.6) scale(1.010 0.998)" fill="url(#gHEf)"/></g>
<path d="M107.3,127.2 L103.2,148.7 M106.2,122 L97.3,148.7 M104.1,121.9 L90.3,151.5 M102.7,122.7 L88.9,148.6 M100.4,123.7 L88.6,142.4 M101.4,119.1 L83.9,141.9 M96.8,121.4 L79.2,139.8 M98.4,118 L71,142.8 M95.8,118 L74.3,134.2 M95.7,115 L67.2,130.9 M93.5,114.4 L62.9,128.3 M95.3,111.7 L71.2,119.9 M93,110.1 L68.2,115.3 M92.2,108.4 L60.7,112.1 M93.7,106.7 L65.2,107.5 M94.5,105.1 L60,102.8 M91.6,104.2 L60.9,101.1 M91.3,100.9 L64.8,94 M95.1,101.3 L65,92.2 M96.2,99.6 L62.5,84.9 M93.9,96.6 L72.5,84.8 M97.8,97.3 L72.8,81.1 M96.9,94.7 L75,77.3 M96.9,91 L81,74.5 M100.3,93.2 L78.9,67.9 M102.1,91.6 L83.7,62.7 M103.3,92.1 L85.6,61.6 M104.3,90.6 L91.8,63.2 M105.2,88.9 L95.4,61.6 M106.9,87.4 L100.8,62.1" stroke="#f3a6d4" stroke-width="0.8" opacity="0.35" fill="none" stroke-linecap="round"/>
<path d="M114.3,95.2 L115.6,93.8 117.4,92.7 119.3,92.2 121.1,92.7 122.9,93.8 124.3,95.2 125.4,96.8 126.1,98.5 126.3,100.2 125.4,101.6 124,102.9 123.3,104.2 124.4,105.5 126.2,106.8 127.3,108.2 126.9,109.9 125.6,111.7 124.3,113.2 123,114.3 121.7,115 120.3,115.2 118.9,114.7 117.6,113.6 116.3,112.2 115.1,110.4 114,108.3 113.3,106.2 113.4,104.2 113.9,102.1 114.3,100.2 114.2,98.4 114,96.7Z" fill="#e58ac2" opacity="0.55"/>
<path d="M121.3,118.2 L122.7,117.7 124.7,118.2 126.3,120.2 127,124.2 127.3,129.7 127.3,135.2 126.9,140.8 126.1,146.3 125.3,150.2 124.5,151.9 123.7,151.9 123.3,150.2 123.5,146.1 124.1,140.4 124.3,135.2 123.8,131.4 123,128.1 122.3,125.2 121.7,122.3 121.2,119.8Z" fill="#e58ac2" opacity="0.55"/>
<path d="M92.3,76.2 q5,-4 12,2 q4,3 3,5 q-6,-1 -10,-3 q-3,-1 -5,-4z" fill="#fff"/>
<path d="M103.3,107.2 q6,-3 9,1 q2,5 -2,9 q-5,4 -11,4 q7,-5 4,-14z" fill="#fff"/>
<path d="M111.3,141.2 l1.5,0 l-1,10 l-3,12 l-1.2,-0.5 l2.2,-11z" fill="#fff"/>
<g filter="url(#fHE)"><use href="#kM1" transform="translate(20.8 186.6) scale(1.000 1.000)" fill="url(#gHEm)"/></g>
<path d="M114.3,287.3 L106.3,313.9 M112.9,284.2 L98.7,316.9 M111.1,283.9 L93.8,315.4 M110,282.9 L92,311.3 M106.8,284 L84.7,312.5 M106.9,282.2 L88.5,303.7 M101.9,283.7 L79.2,304.8 M102.9,279.4 L73.5,301.5 M102.9,278.3 L73,299 M100.7,276.3 L76.9,288.5 M101.4,274.6 L73.1,287.2 M100.6,272.1 L62.1,283.7 M101,270 L68.2,276.7 M101,268.8 L67,273.6 M100.3,266.5 L63.9,267.4 M97.2,265.8 L59.4,265.5 M101,264 L71.8,261 M101.3,261.8 L72.6,255.6 M96.1,258.4 L68.9,250.1 M98.5,257.2 L74.9,247.8 M102.2,256.4 L70,239.8 M104.1,254.8 L74,234.6 M104.3,253.4 L79.5,234.4 M101.8,247.7 L85,231.4 M103.3,246.7 L86.2,227.8 M108.6,250.1 L88.2,223.6 M108.1,246 L88.9,215.6 M109.9,246.8 L90.6,213 M112,245 L100,216.1 M114.3,243.3 L107.4,219.6" stroke="#f3a6d4" stroke-width="0.8" opacity="0.35" fill="none" stroke-linecap="round"/>
<path d="M100,250 L102.6,248.2 106.3,250 110,252 113.5,253.1 117,254.4 120,256 122.3,257.7 124,259.6 125,262 125.3,265.1 124.9,268.7 124,272 122.5,275 120.5,277.7 118,280 114.9,281.9 111.3,283.4 108,284 104.9,284.2 102,283.6 100,280 99,270.7 99,258.6Z" fill="#e9a0cf" opacity="0.9"/>
<path d="M91,240 L92.1,238.2 93.8,236.5 95.5,235.5 97.1,235.4 98.7,236 100,237 100.8,238.3 101.2,240 102,242 103.4,244.6 105.1,247.4 106.5,250 107.5,252 108.3,253.7 108.5,255 107.9,256 106.8,256.7 105.5,256.5 104.1,255 102.6,252.7 101,250.5 99.5,248.6 98,246.8 96.5,245.5 95,245.2 93.6,245.3 92.5,245 91.6,243.6 91,241.8Z" fill="#fff"/>
<path d="M95,239 L95.6,238.1 97.2,238.6 99,240 100.9,243 102.9,247.1 104,250 103.7,251.1 102.5,251.2 101,250 98.9,246.7 96.4,242.2Z" fill="#d23a8e" opacity="0.8"/>
<path d="M93.5,290 L94.5,288 96.3,286.6 98.5,285.5 101.3,284.8 104.4,284.4 107,284.5 108.7,285.2 109.8,286.3 110,287.5 109,288.6 107.1,289.9 105.5,291.5 104.7,293.7 104.2,296.2 103.5,298.5 102.3,300.5 100.9,302.2 99.5,303 98.3,302.5 97.1,301 96,299 94.8,296.2 93.7,292.9Z" fill="#fff"/>
<path d="M98,289 L100.2,287.4 103.2,286.5 105,287 104.4,290.1 102.7,294.7 101,298 99.8,298.8 98.7,298.3 98,297 97.5,294.6 97.4,291.5Z" fill="#d23a8e" opacity="0.8"/>
<ellipse cx="78" cy="275" rx="1.3" ry="2.6" fill="#fff"/>
<g filter="url(#fCor)"><use href="#kF0" transform="translate(133.1 26.6) scale(1.000 1.000)" fill="#ea4873"/></g>
<g filter="url(#fOs)"><use href="#kF2" transform="translate(133.1 26.6) scale(1.000 1.000)" fill="#f2b40e"/></g>
<g filter="url(#fIs)"><use href="#kF3" transform="translate(133.1 26.6) scale(1.000 1.000)" fill="#b8823c"/></g>
<g filter="url(#fIm)"><use href="#kF4" transform="translate(133.1 26.6) scale(1.000 1.000)" fill="#3cc493"/></g>
<path d="M213,137.5 L209.2,157 M209.1,137.3 L204.5,151.3 M206.9,138.5 L201.4,153.1 M202.8,138.2 L194.9,153.6 M201.2,131.9 L187.2,151.9 M199.3,132.2 L183.3,153.1 M195.6,130.3 L179.9,146.4 M194.1,129 L178.5,143.3 M197,122.3 L171.4,140.9 M190.1,122.9 L167.9,135.8 M186.8,120.3 L171.3,127.1 M189.6,115.7 L162,124.6 M191.9,112.1 L171.8,116.5 M183.9,112.2 L167.1,115.1 M189.4,107.6 L165.4,108.7 M189,105.3 L164.2,104.6 M184.3,101.4 L163.3,98.5 M185.5,97.4 L160.3,90.9 M192.2,97 L163.4,87.2 M187.4,91.1 L169.8,82.7 M194,91.9 L168.3,77.2 M194.7,89.5 L180.1,79.4 M192,82.7 L183.1,74.9 M197.8,84.1 L185.4,71.2 M197,80.5 L180.6,61.5 M199.8,80 L191.1,68.4 M204.9,79.8 L191.1,54.1 M207.4,76.9 L196.5,49.7 M209.9,80.1 L200.8,54.2 M211.6,78.4 L205.4,55.7" stroke="#5f6148" stroke-width="0.7" opacity="0.55" fill="none" stroke-linecap="round"/>
<path d="M216.4,113.1 L209.1,131.3 M215.4,112.6 L205.7,129.6 M212.8,112.8 L198.5,127.6 M212.8,111.9 L199.8,123.7 M212.9,110.3 L197.8,120.4 M210.5,109.3 L190.8,116.4 M211.6,107.8 L193.3,111.6 M210.2,106.9 L188.8,108.5 M211.7,105.4 L190.7,103.1 M210.9,104.2 L194.5,100.3 M212.2,103.6 L190.1,95.2 M211.9,101.6 L196.9,92.2 M212.7,100.5 L196.1,86 M213.7,99.8 L201.6,85.5 M214.6,99.3 L205.3,85.1 M215,98 L208.2,84.5" stroke="#1f8f6a" stroke-width="0.6" opacity="0.55" fill="none" stroke-linecap="round"/>
<path d="M223,95.2 L224.3,93.8 226.1,92.7 228,92.2 229.8,92.7 231.6,93.8 233,95.2 234.1,96.8 234.8,98.5 235,100.2 234.1,101.6 232.7,102.9 232,104.2 233.1,105.5 234.9,106.8 236,108.2 235.6,109.9 234.3,111.7 233,113.2 231.7,114.3 230.4,115 229,115.2 227.6,114.7 226.3,113.6 225,112.2 223.8,110.4 222.7,108.3 222,106.2 222.1,104.2 222.6,102.1 223,100.2 222.9,98.4 222.7,96.7Z" fill="#e58ac2" opacity="0.55"/>
<path d="M230,118.2 L231.4,117.7 233.4,118.2 235,120.2 235.7,124.2 236,129.7 236,135.2 235.6,140.8 234.8,146.3 234,150.2 233.2,151.9 232.4,151.9 232,150.2 232.2,146.1 232.8,140.4 233,135.2 232.5,131.4 231.7,128.1 231,125.2 230.4,122.3 229.9,119.8Z" fill="#e58ac2" opacity="0.55"/>
<path d="M201,76.2 q5,-4 12,2 q4,3 3,5 q-6,-1 -10,-3 q-3,-1 -5,-4z" fill="#fff"/>
<path d="M212,107.2 q6,-3 9,1 q2,5 -2,9 q-5,4 -11,4 q7,-5 4,-14z" fill="#fff"/>
<path d="M220,141.2 l1.5,0 l-1,10 l-3,12 l-1.2,-0.5 l2.2,-11z" fill="#fff"/>
<g filter="url(#fCor)"><use href="#kM1" transform="translate(130.2 186.6) scale(1.000 1.000)" fill="#e9486f"/></g>
<g filter="url(#fOs)"><use href="#kM5" transform="translate(130.2 186.6) scale(1.000 1.000)" fill="#eeb512"/></g>
<g filter="url(#fIs)"><use href="#kM6" transform="translate(130.2 186.6) scale(1.000 1.000)" fill="#a98436"/></g>
<g filter="url(#fIm)"><use href="#kM7" transform="translate(130.2 186.6) scale(1.000 1.000)" fill="#3cc493"/></g>
<path d="M192.4,252 L195,248.7 198.4,246.7 201.4,246 203.5,247 205.4,249.3 207.4,252 209.8,255 212.5,258.5 215.4,262 218.7,265.4 222.1,268.7 225.4,272 228.7,275.2 231.8,278.3 233.4,281 232.7,283.3 230.5,285.3 227.4,287 223.2,288.2 218.1,289 213.4,290 209.4,291.6 205.8,293.2 202.4,294 199,293.9 195.9,292.8 193.4,290 191.8,284.4 190.8,277.1 190.4,270 190.4,263.4 191,257Z" fill="#3cc493" filter="url(#fIm)"/>
<path d="M216.6,308.8 L210.2,328.8 M211.7,306.9 L202.1,327.9 M212.1,303.4 L200.4,327.5 M204.1,304.9 L199.7,311.4 M206,296.5 L191.8,314.4 M205,291.9 L190.9,306.4 M195.1,297.2 L181.3,309.5 M193.7,293.3 L186.1,299 M197.5,284.5 L184.2,292 M194.8,281.1 L178.3,288.1 M185.8,279.8 L175.2,283 M188.6,274.8 L167.6,279.2 M183.6,274.1 L166.9,277 M183.5,267 L172.5,267.2 M192.2,265 L175,264.5 M190.8,262.1 L167.8,259.8 M186.8,257.8 L172.8,255.1 M186.5,252.3 L172.2,247.8 M191.7,249.8 L170.8,241.1 M187.7,244.3 L182.8,241.8 M192.6,239.3 L186.9,235.3 M199.7,239.6 L183.1,225.2 M203.4,241.1 L189.3,228 M206.7,235.6 L190.3,214.4 M204.8,226.1 L198.8,216.6 M209.3,229.2 L197.8,208.9 M211,225.3 L202.1,206.3 M219.7,231.1 L210.6,200.5" stroke="#55553a" stroke-width="0.7" opacity="0.55" fill="none" stroke-linecap="round"/>
<path d="M200.4,240 L201.5,238.2 203.2,236.5 204.9,235.5 206.5,235.4 208.1,236 209.4,237 210.2,238.3 210.6,240 211.4,242 212.8,244.6 214.5,247.4 215.9,250 216.9,252 217.7,253.7 217.9,255 217.3,256 216.2,256.7 214.9,256.5 213.5,255 212,252.7 210.4,250.5 208.9,248.6 207.4,246.8 205.9,245.5 204.4,245.2 203,245.3 201.9,245 201,243.6 200.4,241.8Z" fill="#fff"/>
<path d="M204.4,239 L205,238.1 206.6,238.6 208.4,240 210.3,243 212.3,247.1 213.4,250 213.1,251.1 211.9,251.2 210.4,250 208.3,246.7 205.8,242.2Z" fill="#d23a8e" opacity="0.8"/>
<path d="M202.9,290 L203.9,288 205.7,286.6 207.9,285.5 210.7,284.8 213.8,284.4 216.4,284.5 218.1,285.2 219.2,286.3 219.4,287.5 218.4,288.6 216.5,289.9 214.9,291.5 214.1,293.7 213.6,296.2 212.9,298.5 211.7,300.5 210.3,302.2 208.9,303 207.7,302.5 206.5,301 205.4,299 204.2,296.2 203.1,292.9Z" fill="#fff"/>
<path d="M207.4,289 L209.6,287.4 212.6,286.5 214.4,287 213.8,290.1 212.1,294.7 210.4,298 209.2,298.8 208.1,298.3 207.4,297 206.9,294.6 206.8,291.5Z" fill="#d23a8e" opacity="0.8"/>
<ellipse cx="187.4" cy="275" rx="1.3" ry="2.6" fill="#fff"/>
<g filter="url(#fCt1)"><use href="#kF0" transform="translate(242.7 26.6) scale(1.000 1.000)" fill="#c9764a"/></g>
<g filter="url(#fCt2)"><use href="#kF8" transform="translate(242.7 26.6) scale(1.000 1.000)" fill="#62b391"/></g>
<g filter="url(#fCt3)"><use href="#kF9" transform="translate(242.7 26.6) scale(1.000 1.000)" fill="#d982c4"/></g>
<g filter="url(#fCt3)"><use href="#kF10" transform="translate(242.7 26.6) scale(1.000 1.000)" fill="#e9a8dc"/></g>
<path d="M326.1,117.4 L317.1,156.5 M326.3,114.9 L314.1,158.3 M324.6,116.7 L310.6,152.8 M324.2,114.9 L303.2,156.1 M323.3,114.9 L301.3,150.8 M323.1,113.9 L297.7,148.7 M322.2,113.6 L291.7,148.3 M320.5,114.3 L293.4,140.9 M320.2,113.8 L287,143.7 M321.2,111.7 L290.2,134.1 M320.2,111.2 L278.6,135.7 M320.1,110.4 L280.2,129.9 M317.8,110.7 L275.4,127.9 M318.2,109.4 L276.5,122.1 M317,108.5 L284.3,114.9 M318,107.7 L280.1,113.1 M319.4,106.6 L271.6,108.7 M319.4,105.9 L274.7,104.3 M319.2,105.2 L277.4,100.9 M319.2,104.5 L272.6,96.4 M320,103.6 L275.4,90.2 M319.2,103 L274.3,87.6 M319.8,101.9 L283.6,84.4 M320.6,101.6 L277.6,77.1 M320.1,100.6 L282.4,76 M319.4,98.7 L291.3,75.8 M320.6,97.8 L291.1,67.2 M322.1,98.2 L292.7,62.7 M322.6,97.6 L299,64.2 M323.5,97.4 L305.1,66.7 M324.4,97.4 L306.1,59.8 M325.3,97.3 L312.4,64.1 M325.2,96 L312.5,59 M326.2,96.1 L315,50.1" stroke="#d43c9c" stroke-width="0.7" opacity="0.5" fill="none" stroke-linecap="round"/>
<path d="M332.6,95.2 L333.9,93.8 335.7,92.7 337.6,92.2 339.4,92.7 341.2,93.8 342.6,95.2 343.7,96.8 344.4,98.5 344.6,100.2 343.7,101.6 342.3,102.9 341.6,104.2 342.7,105.5 344.5,106.8 345.6,108.2 345.2,109.9 343.9,111.7 342.6,113.2 341.3,114.3 340,115 338.6,115.2 337.2,114.7 335.9,113.6 334.6,112.2 333.4,110.4 332.3,108.3 331.6,106.2 331.7,104.2 332.2,102.1 332.6,100.2 332.5,98.4 332.3,96.7Z" fill="#e58ac2" opacity="0.55"/>
<path d="M339.6,118.2 L341,117.7 343,118.2 344.6,120.2 345.3,124.2 345.6,129.7 345.6,135.2 345.2,140.8 344.4,146.3 343.6,150.2 342.8,151.9 342,151.9 341.6,150.2 341.8,146.1 342.4,140.4 342.6,135.2 342.1,131.4 341.3,128.1 340.6,125.2 340,122.3 339.5,119.8Z" fill="#e58ac2" opacity="0.55"/>
<path d="M310.6,76.2 q5,-4 12,2 q4,3 3,5 q-6,-1 -10,-3 q-3,-1 -5,-4z" fill="#fff"/>
<path d="M321.6,107.2 q6,-3 9,1 q2,5 -2,9 q-5,4 -11,4 q7,-5 4,-14z" fill="#fff"/>
<path d="M329.6,141.2 l1.5,0 l-1,10 l-3,12 l-1.2,-0.5 l2.2,-11z" fill="#fff"/>
<g filter="url(#fCt1)"><use href="#kM1" transform="translate(240.2 186.6) scale(1.000 1.000)" fill="#b8806a"/></g>
<g filter="url(#fCt2)"><use href="#kM11" transform="translate(240.2 186.6) scale(1.000 1.000)" fill="#7fae8f"/></g>
<g filter="url(#fCt3)"><use href="#kM12" transform="translate(240.2 186.6) scale(1.000 1.000)" fill="#d99ad4"/></g>
<g filter="url(#fCt3)"><use href="#kM13" transform="translate(240.2 186.6) scale(1.000 1.000)" fill="#efb0c8"/></g>
<path d="M334.4,286 L323.5,323.3 M332.2,287.9 L321.3,317.9 M330.6,287 L319.3,311.6 M329.9,283.4 L314.2,309.9 M325.6,286.6 L310.4,308 M325,284.5 L299.5,315.8 M324.3,281.8 L294.2,311.5 M321.3,283 L300,302.2 M323.8,278.4 L296.7,298.7 M322,276.4 L289.3,295.1 M320.1,275.7 L287.9,291.2 M321.6,274 L291.7,286.8 M318.5,272.3 L287.9,281.2 M317.9,270.7 L287.1,277.2 M315.9,268.7 L287.1,271.9 M317,267 L277.1,268.8 M318.5,265 L275.5,262.9 M317.7,264 L279.1,260.5 M317.5,262 L290.7,257.3 M316.4,258.9 L284.1,249.3 M319.9,257.8 L284.2,243.4 M318.9,255.8 L289.1,241.5 M317.9,252.5 L291.5,236.4 M323.7,254.3 L290.8,231.1 M320,249.1 L292.4,226 M323.9,250.7 L296.5,224.9 M324.6,249.3 L304.6,227.8 M327.8,250.1 L302.3,217.5 M328.4,248.1 L309.7,219.5 M331.4,247.7 L315.6,215.1 M330.5,242.3 L316.5,208.4 M334.1,245.2 L324.3,212.3" stroke="#c85aa8" stroke-width="0.7" opacity="0.45" fill="none" stroke-linecap="round"/>
<path d="M319.4,250 L322,248.2 325.7,250 329.4,252 332.9,253.1 336.4,254.4 339.4,256 341.7,257.7 343.4,259.6 344.4,262 344.7,265.1 344.3,268.7 343.4,272 341.9,275 339.9,277.7 337.4,280 334.3,281.9 330.7,283.4 327.4,284 324.3,284.2 321.4,283.6 319.4,280 318.4,270.7 318.4,258.6Z" fill="#f0b4d0" opacity="0.9"/>
<path d="M310.4,240 L311.5,238.2 313.2,236.5 314.9,235.5 316.5,235.4 318.1,236 319.4,237 320.2,238.3 320.6,240 321.4,242 322.8,244.6 324.5,247.4 325.9,250 326.9,252 327.7,253.7 327.9,255 327.3,256 326.2,256.7 324.9,256.5 323.5,255 322,252.7 320.4,250.5 318.9,248.6 317.4,246.8 315.9,245.5 314.4,245.2 313,245.3 311.9,245 311,243.6 310.4,241.8Z" fill="#fff"/>
<path d="M314.4,239 L315,238.1 316.6,238.6 318.4,240 320.3,243 322.3,247.1 323.4,250 323.1,251.1 321.9,251.2 320.4,250 318.3,246.7 315.8,242.2Z" fill="#d23a8e" opacity="0.8"/>
<path d="M312.9,290 L313.9,288 315.7,286.6 317.9,285.5 320.7,284.8 323.8,284.4 326.4,284.5 328.1,285.2 329.2,286.3 329.4,287.5 328.4,288.6 326.5,289.9 324.9,291.5 324.1,293.7 323.6,296.2 322.9,298.5 321.7,300.5 320.3,302.2 318.9,303 317.7,302.5 316.5,301 315.4,299 314.2,296.2 313.1,292.9Z" fill="#fff"/>
<path d="M317.4,289 L319.6,287.4 322.6,286.5 324.4,287 323.8,290.1 322.1,294.7 320.4,298 319.2,298.8 318.1,298.3 317.4,297 316.9,294.6 316.8,291.5Z" fill="#d23a8e" opacity="0.8"/>
<ellipse cx="297.4" cy="275" rx="1.3" ry="2.6" fill="#fff"/>
<rect x="131.1" y="87.4" width="86.6" height="33.9" fill="none" stroke="#111" stroke-width="1.1" stroke-dasharray="3.6 2.2"/>
<rect x="239.9" y="87.4" width="86" height="33.9" fill="none" stroke="#111" stroke-width="1.1" stroke-dasharray="3.6 2.2"/>
<rect x="128.9" y="251.3" width="106.3" height="40" fill="none" stroke="#111" stroke-width="1.1" stroke-dasharray="3.6 2.2"/>
<rect x="238.8" y="251.3" width="104.6" height="40" fill="none" stroke="#111" stroke-width="1.1" stroke-dasharray="3.6 2.2"/>
</g>
<g id="panel-b">
<text x="357.5" y="16" font-weight="bold" font-size="17" fill="#000">b</text>
<text text-anchor="middle" textLength="40.5" lengthAdjust="spacingAndGlyphs" transform="translate(367.8 93.5) rotate(-90)" font-size="11.5" fill="#e6456f">Female</text>
<text text-anchor="middle" textLength="26" lengthAdjust="spacingAndGlyphs" transform="translate(367.8 262) rotate(-90)" font-size="11.5" fill="#6a62b8">Male</text>
<rect x="374.6" y="14.4" width="412.2" height="158.4" fill="#e8f4f7"/>
<g clip-path="url(#cbF1)">
<polygon points="384,-1.6 800,-1.6 800,109 382,109" fill="#ee4273" filter="url(#bCor)"/>
<polygon points="456,-1.6 800,-1.6 800,109 452,109" fill="#f4c019" filter="url(#bOs)"/>
<polygon points="520,-1.6 800,-1.6 800,109 518,109" fill="#c4961f" filter="url(#bIs)"/>
<polygon points="666,-1.6 722,-1.6 750,45 786.8,88 786.8,109 633,109" fill="#22b98a" filter="url(#bIm)"/>
<path d="M716,-2 Q738,40 760,58 Q778,72 787,90 L800,90 L800,-2Z" fill="#f4c019" filter="url(#bOs)"/>
<path d="M775,14 L787,14 L787,62 Q782,40 775,14Z" fill="#ee4273"/>
<path d="M719,14 Q735,42 757,60 Q777,75 786,93" fill="none" stroke="#fff" stroke-width="2.6"/>
<path d="M721,14 Q737,42 759,60 Q779,75 788,93" fill="none" stroke="#d633a8" stroke-width="0.8"/>
</g><g clip-path="url(#cbF2)">
<polygon points="381,77 800,77 800,188.8 381,188.8" fill="#ef7d22" filter="url(#bCtC)"/>
<polygon points="428,77 800,77 800,188.8 422,188.8" fill="#2db88d" filter="url(#bCtP)"/>
<polygon points="518,77 800,77 800,188.8 516,188.8" fill="#c6cdf0" filter="url(#bCtI)"/>
<path d="M634,77 L782,77 Q784,110 772,128 Q760,140 750,160 L748,189 L628,189Z" fill="#ecc0ee" filter="url(#bCtM)"/>
<path d="M750,172.8 Q752,150 768,136 Q780,130 786,140 Q786,160 780,172.8Z" fill="#f3d3f0" stroke="#d631a4" stroke-width="1.2"/>
<path d="M784,93 L787,93 L787,135 Q780,128 774,128 Q784,110 784,93Z" fill="#f6fbfc"/>
<ellipse cx="459.5" cy="115.5" rx="9" ry="5" fill="#fff" transform="rotate(-12 459.5 115.5)"/>
</g>
<circle cx="394.3" cy="53.7" r="2.4" fill="#1c0f1c"/>
<circle cx="425.8" cy="54.9" r="2.6" fill="#1c0f1c"/>
<circle cx="458.6" cy="54.9" r="3.8" fill="#1c0f1c"/>
<circle cx="421" cy="78" r="2.6" fill="#1c0f1c"/>
<circle cx="456.2" cy="74.3" r="2.4" fill="#1c0f1c"/>
<circle cx="434.3" cy="87.7" r="2.6" fill="#1c0f1c"/>
<circle cx="406.4" cy="28.2" r="2" fill="#1c0f1c"/>
<circle cx="399" cy="70" r="1.8" fill="#1c0f1c"/>
<circle cx="440" cy="40" r="1.8" fill="#1c0f1c"/>
<path d="M448,52 q6,-4 10,1 q-3,6 -9,5z" fill="#fff"/>
<circle cx="395.5" cy="120.3" r="2.2" fill="#3a1436"/>
<circle cx="414.9" cy="117.9" r="2.2" fill="#3a1436"/>
<circle cx="393" cy="161.6" r="2.2" fill="#3a1436"/>
<circle cx="413.7" cy="167.7" r="2.4" fill="#3a1436"/>
<circle cx="402" cy="140" r="1.8" fill="#3a1436"/>
<line x1="385.8" y1="101.3" x2="781.8" y2="101.3" stroke="#111" stroke-width="1.1"/>
<line x1="385.8" y1="99" x2="385.8" y2="103.6" stroke="#111" stroke-width="1"/>
<line x1="781.8" y1="99" x2="781.8" y2="103.6" stroke="#111" stroke-width="1"/>
<text x="422.2" y="26.3" text-anchor="middle" font-size="10" fill="#fff" stroke="#5a3a3a" stroke-opacity="0.55" stroke-width="1.2" paint-order="stroke" stroke-linejoin="round">Cortex</text>
<text x="422.2" y="38.8" text-anchor="middle" font-size="10.5" fill="#2a2a2a" stroke="#fff" stroke-opacity="0.75" stroke-width="1.6" paint-order="stroke" stroke-linejoin="round">850 µm</text>
<text x="490.5" y="26.3" text-anchor="middle" font-size="10" fill="#fff" stroke="#5a3a3a" stroke-opacity="0.55" stroke-width="1.2" paint-order="stroke" stroke-linejoin="round">OSOM</text>
<text x="490.5" y="38.8" text-anchor="middle" font-size="10.5" fill="#2a2a2a" stroke="#fff" stroke-opacity="0.75" stroke-width="1.6" paint-order="stroke" stroke-linejoin="round">1,060 µm</text>
<text x="578.5" y="26.3" text-anchor="middle" font-size="10" fill="#fff" stroke="#5a3a3a" stroke-opacity="0.55" stroke-width="1.2" paint-order="stroke" stroke-linejoin="round">ISOM</text>
<text x="578.5" y="38.8" text-anchor="middle" font-size="10.5" fill="#2a2a2a" stroke="#fff" stroke-opacity="0.75" stroke-width="1.6" paint-order="stroke" stroke-linejoin="round">1,530 µm</text>
<text x="689.8" y="26.3" text-anchor="middle" font-size="10" fill="#fff" stroke="#5a3a3a" stroke-opacity="0.55" stroke-width="1.2" paint-order="stroke" stroke-linejoin="round">IM</text>
<text x="689.8" y="38.8" text-anchor="middle" font-size="10.5" fill="#2a2a2a" stroke="#fff" stroke-opacity="0.75" stroke-width="1.6" paint-order="stroke" stroke-linejoin="round">1,990 µm</text>
<text x="583" y="113" text-anchor="middle" font-size="10.5" fill="#2a2a2a" stroke="#fff" stroke-opacity="0.75" stroke-width="1.6" paint-order="stroke" stroke-linejoin="round">5,430 µm</text>
<text x="781.5" y="87" text-anchor="end" textLength="60" lengthAdjust="spacingAndGlyphs" font-size="12" fill="#2a2a2a" stroke="#fff" stroke-opacity="0.75" stroke-width="1.6" paint-order="stroke" stroke-linejoin="round">Renal zone</text>
<text x="781.5" y="168" text-anchor="end" textLength="49" lengthAdjust="spacingAndGlyphs" font-size="12" fill="#2a2a2a" stroke="#fff" stroke-opacity="0.75" stroke-width="1.6" paint-order="stroke" stroke-linejoin="round">Cell type</text>
<rect x="374.6" y="179" width="412.2" height="166.2" fill="#e8f4f7"/>
<g clip-path="url(#cbM1)">
<polygon points="381,163 700,163 700,273.5 379,273.5" fill="#ee4273" filter="url(#bCor)"/>
<polygon points="479,163 700,163 700,273.5 474,273.5" fill="#f2bd17" filter="url(#bOs)"/>
<polygon points="510,163 700,163 700,273.5 507,273.5" fill="#b3911f" filter="url(#bIs)"/>
<rect x="660" y="179" width="127" height="80" fill="#fbf3f8"/>
<path d="M700,179 L787,179 L787,257 L770,257 Q740,230 715,205Z" fill="#f6cfe8" filter="url(#bPel)"/>
<path d="M630,163 L668,163 Q668,195 672,200 Q720,212 766,257.5 L780,273 L592,273Z" fill="#3fc08c" filter="url(#bIm)"/>
<path d="M690,181 q8,-3 17,2 q6,8 4,17 q-3,6 -9,4 q-6,-6 -12,-23z" fill="#c23aa0" opacity="0.75"/>
<path d="M693,183 q6,-2 11,2 q3,5 1,9 q-6,-2 -12,-11z" fill="#f08a30"/>
<circle cx="745" cy="196" r="5.5" fill="none" stroke="#d23aa0" stroke-width="3"/><circle cx="745" cy="196" r="3" fill="none" stroke="#222" stroke-width="1.2"/>
<path d="M742,181 q10,-3 16,2 q3,6 -4,10" fill="none" stroke="#d23aa0" stroke-width="3"/>
</g><g clip-path="url(#cbM2)">
<polygon points="381,241.5 700,241.5 700,361.2 386,361.2" fill="#ef7d22" filter="url(#bCtC)"/>
<polygon points="466,241.5 700,241.5 700,361.2 458,361.2" fill="#2db88d" filter="url(#bCtP)"/>
<polygon points="506,241.5 700,241.5 700,361.2 510,361.2" fill="#dcc2de" filter="url(#bCtI)"/>
<rect x="606" y="257.5" width="181" height="88" fill="#f6fbfc"/>
<path d="M610,241 L760,241 Q788,275 785,300 Q780,312 760,310 Q720,300 690,302 Q660,312 650,361 L606,361Z" fill="#e6a6dc" filter="url(#bCtM2)"/>
<path d="M606,241 L650,241 Q665,290 640,361 L606,361Z" fill="#e8a4dc" filter="url(#bCtM)" opacity="0.8"/>
<path d="M684,312 q14,-10 30,-6 q20,4 34,14 q8,8 6,40 l-60,0 q-4,-27 -12,-33 q-4,-8 2,-15z" fill="#ef7d22" filter="url(#bCtC)"/>
<path d="M754,345.2 q2,-20 -8,-28 q20,4 34,-6 l7,-6 l0,40.2z" fill="#e060b8" filter="url(#bPel)"/>
<path d="M668,332 q10,-6 22,-2 q-6,6 -14,12 q-6,2 -8,-10z" fill="#c8c8e8"/>
<ellipse cx="603.5" cy="281" rx="5.5" ry="7.5" fill="#fff"/>
</g>
<circle cx="449.2" cy="189.5" r="2.6" fill="#1c0f1c"/>
<circle cx="390.6" cy="234.6" r="2.2" fill="#1c0f1c"/>
<circle cx="419.1" cy="246.6" r="2.4" fill="#1c0f1c"/>
<circle cx="455.2" cy="234.6" r="2.8" fill="#1c0f1c"/>
<circle cx="465.7" cy="243.6" r="2.6" fill="#1c0f1c"/>
<circle cx="440.2" cy="252" r="2.2" fill="#1c0f1c"/>
<circle cx="405" cy="205" r="1.8" fill="#1c0f1c"/>
<circle cx="430" cy="222" r="2" fill="#1c0f1c"/>
<circle cx="398" cy="250" r="1.8" fill="#1c0f1c"/>
<path d="M444,236 q8,-6 14,0 q2,8 -6,10 q-8,0 -8,-10z" fill="#fff" opacity="0.9"/><path d="M447,238 q5,-3 9,1 q0,5 -5,5z" fill="#c23aa0"/>
<circle cx="452" cy="277" r="2.2" fill="#3a1436"/>
<circle cx="412" cy="300" r="2" fill="#3a1436"/>
<circle cx="446" cy="308" r="2.2" fill="#3a1436"/>
<circle cx="425" cy="285" r="1.8" fill="#3a1436"/>
<circle cx="398" cy="322" r="2" fill="#3a1436"/>
<line x1="381.5" y1="262.6" x2="781.8" y2="262.6" stroke="#111" stroke-width="1.1"/>
<line x1="381.5" y1="260.3" x2="381.5" y2="264.9" stroke="#111" stroke-width="1"/>
<line x1="781.8" y1="260.3" x2="781.8" y2="264.9" stroke="#111" stroke-width="1"/>
<text x="421" y="193.8" text-anchor="middle" font-size="10" fill="#fff" stroke="#5a3a3a" stroke-opacity="0.55" stroke-width="1.2" paint-order="stroke" stroke-linejoin="round">Cortex</text>
<text x="421" y="206" text-anchor="middle" font-size="10.5" fill="#2a2a2a" stroke="#fff" stroke-opacity="0.75" stroke-width="1.6" paint-order="stroke" stroke-linejoin="round">1,480 µm</text>
<text x="490" y="193.8" text-anchor="middle" font-size="10" fill="#fff" stroke="#5a3a3a" stroke-opacity="0.55" stroke-width="1.2" paint-order="stroke" stroke-linejoin="round">OSOM</text>
<text x="490" y="206" text-anchor="middle" font-size="10.5" fill="#2a2a2a" stroke="#fff" stroke-opacity="0.75" stroke-width="1.6" paint-order="stroke" stroke-linejoin="round">560 µm</text>
<text x="553.5" y="193.8" text-anchor="middle" font-size="10" fill="#fff" stroke="#5a3a3a" stroke-opacity="0.55" stroke-width="1.2" paint-order="stroke" stroke-linejoin="round">ISOM</text>
<text x="553.5" y="206" text-anchor="middle" font-size="10.5" fill="#2a2a2a" stroke="#fff" stroke-opacity="0.75" stroke-width="1.6" paint-order="stroke" stroke-linejoin="round">1,470 µm</text>
<text x="647" y="193.8" text-anchor="middle" font-size="10" fill="#fff" stroke="#5a3a3a" stroke-opacity="0.55" stroke-width="1.2" paint-order="stroke" stroke-linejoin="round">IM</text>
<text x="647" y="206" text-anchor="middle" font-size="10.5" fill="#2a2a2a" stroke="#fff" stroke-opacity="0.75" stroke-width="1.6" paint-order="stroke" stroke-linejoin="round">2,990 µm</text>
<text x="581.5" y="275.2" text-anchor="middle" font-size="10.5" fill="#2a2a2a" stroke="#fff" stroke-opacity="0.75" stroke-width="1.6" paint-order="stroke" stroke-linejoin="round">6,500 µm</text>
<text x="781.5" y="252" text-anchor="end" textLength="60" lengthAdjust="spacingAndGlyphs" font-size="12" fill="#2a2a2a" stroke="#fff" stroke-opacity="0.75" stroke-width="1.6" paint-order="stroke" stroke-linejoin="round">Renal zone</text>
<text x="781.5" y="338.5" text-anchor="end" textLength="49" lengthAdjust="spacingAndGlyphs" font-size="12" fill="#2a2a2a" stroke="#fff" stroke-opacity="0.75" stroke-width="1.6" paint-order="stroke" stroke-linejoin="round">Cell type</text>
<text x="792.9" y="25.5" textLength="49" lengthAdjust="spacingAndGlyphs" font-size="12" fill="#1a1a1a">Cell type</text>
<rect x="793.9" y="34.3" width="9.4" height="9.4" fill="#222" stroke="#8a8a8a" stroke-width="0.5"/>
<text x="808.8" y="42.6" font-size="10" fill="#222">Podo</text>
<rect x="793.9" y="49.8" width="9.4" height="9.4" fill="#e86f10" stroke="#8a8a8a" stroke-width="0.5"/>
<text x="808.8" y="58.1" textLength="51.5" lengthAdjust="spacingAndGlyphs" font-size="10" fill="#222">PT (S1 + S2)</text>
<rect x="793.9" y="65.2" width="9.4" height="9.4" fill="#68cf96" stroke="#8a8a8a" stroke-width="0.5"/>
<text x="808.8" y="73.5" font-size="10" fill="#222">PS (S3)</text>
<rect x="793.9" y="80.7" width="9.4" height="9.4" fill="#1fae2f" stroke="#8a8a8a" stroke-width="0.5"/>
<text x="808.8" y="89" font-size="10" fill="#222">DCT</text>
<rect x="793.9" y="96.2" width="9.4" height="9.4" fill="#ffb95a" stroke="#8a8a8a" stroke-width="0.5"/>
<text x="808.8" y="104.5" font-size="10" fill="#222">CNT</text>
<rect x="793.9" y="111.7" width="9.4" height="9.4" fill="#aad4ee" stroke="#8a8a8a" stroke-width="0.5"/>
<text x="808.8" y="120" font-size="10" fill="#222">TAL</text>
<rect x="793.9" y="127.1" width="9.4" height="9.4" fill="#c6961c" stroke="#8a8a8a" stroke-width="0.5"/>
<text x="808.8" y="135.4" font-size="10" fill="#222">DTL</text>
<rect x="793.9" y="142.6" width="9.4" height="9.4" fill="#e8c2f0" stroke="#8a8a8a" stroke-width="0.5"/>
<text x="808.8" y="150.9" font-size="10" fill="#222">CD</text>
</g>
<g id="panel-d">
<text x="357.3" y="372.5" font-weight="bold" font-size="17" fill="#000">d</text>
<text text-anchor="middle" textLength="40.5" lengthAdjust="spacingAndGlyphs" transform="translate(368.5 433) rotate(-90)" font-size="11.5" fill="#e6456f">Female</text>
<text text-anchor="middle" textLength="26" lengthAdjust="spacingAndGlyphs" transform="translate(368.5 533) rotate(-90)" font-size="11.5" fill="#6a62b8">Male</text>
<text x="408" y="373" text-anchor="middle" textLength="48" lengthAdjust="spacingAndGlyphs" font-size="11" fill="#222">Pattern 1</text>
<text x="408" y="384.6" text-anchor="middle" font-style="italic" font-size="11" fill="#222">Fmo5</text>
<rect x="375.5" y="388.7" width="68.6" height="88.9" fill="#050506"/>
<rect x="371.9" y="482.1" width="68.9" height="99.8" fill="#050506"/>
<g filter="url(#flK)" opacity="1"><use href="#kF0" transform="translate(380 392.2) scale(0.601 0.543)" fill="#07070d"/></g>
<g filter="url(#flK)" opacity="1"><use href="#kM1" transform="translate(374.9 485.5) scale(0.606 0.589)" fill="#07070d"/></g>
<g filter="url(#flH)" opacity="0.5"><use href="#cM14" transform="translate(374.9 485.5) scale(0.606 0.589)" fill="none" stroke="#2a1a6a" stroke-width="33" stroke-linecap="round"/></g>
<g filter="url(#flBd)" opacity="0.85"><use href="#cM15" transform="translate(374.9 485.5) scale(0.606 0.589)" fill="none" stroke="#2a7a8a" stroke-width="23" stroke-linecap="round"/></g>
<g filter="url(#flB)" opacity="0.70"><use href="#cM16" transform="translate(374.9 485.5) scale(0.606 0.589)" fill="none" stroke="#93bb48" stroke-width="11" stroke-linecap="round"/></g>
<line x1="410.1" y1="392.4" x2="410.1" y2="398.4" stroke="#e0457b" stroke-width="0.9"/>
<line x1="410.1" y1="398.4" x2="410.1" y2="409" stroke="#e4cf3a" stroke-width="0.9"/>
<line x1="410.1" y1="485.7" x2="410.1" y2="496" stroke="#e0457b" stroke-width="0.9"/>
<line x1="410.1" y1="496" x2="410.1" y2="503" stroke="#e4cf3a" stroke-width="0.9"/>
<text x="493" y="373" text-anchor="middle" textLength="48" lengthAdjust="spacingAndGlyphs" font-size="11" fill="#222">Pattern 2</text>
<text x="493" y="384.6" text-anchor="middle" font-style="italic" font-size="11" fill="#222">Akr1c21</text>
<rect x="458.2" y="388.7" width="69.7" height="88.9" fill="#050506"/>
<rect x="458.2" y="482.1" width="69.7" height="99.8" fill="#050506"/>
<g filter="url(#flK)" opacity="1"><use href="#kF0" transform="translate(462.7 392.2) scale(0.601 0.543)" fill="#07070d"/></g>
<g filter="url(#flH)" opacity="0.5"><use href="#cF17" transform="translate(462.7 392.2) scale(0.601 0.543)" fill="none" stroke="#3a1a6a" stroke-width="21" stroke-linecap="round"/></g>
<g filter="url(#flB)" opacity="0.92"><use href="#cF17" transform="translate(462.7 392.2) scale(0.601 0.543)" fill="none" stroke="#68b05a" stroke-width="15" stroke-linecap="round"/></g>
<g filter="url(#flK)" opacity="1"><use href="#kM1" transform="translate(461.2 485.5) scale(0.606 0.589)" fill="#07070d"/></g>
<g filter="url(#flH)" opacity="0.6"><use href="#cM18" transform="translate(461.2 485.5) scale(0.606 0.589)" fill="none" stroke="#3a1a6a" stroke-width="36" stroke-linecap="round"/></g>
<g filter="url(#flB)" opacity="0.97"><use href="#cM18" transform="translate(461.2 485.5) scale(0.606 0.589)" fill="none" stroke="#70b458" stroke-width="30" stroke-linecap="round"/></g>
<line x1="492.8" y1="392.4" x2="492.8" y2="398.4" stroke="#e0457b" stroke-width="0.9"/>
<line x1="492.8" y1="398.4" x2="492.8" y2="409" stroke="#e4cf3a" stroke-width="0.9"/>
<line x1="494.7" y1="485.7" x2="494.7" y2="496" stroke="#e0457b" stroke-width="0.9"/>
<line x1="494.7" y1="496" x2="494.7" y2="503" stroke="#e4cf3a" stroke-width="0.9"/>
<text x="576" y="373" text-anchor="middle" textLength="48" lengthAdjust="spacingAndGlyphs" font-size="11" fill="#222">Pattern 3</text>
<text x="576" y="384.6" text-anchor="middle" font-style="italic" font-size="11" fill="#222">Cyp4b1</text>
<rect x="541.5" y="388.7" width="69.5" height="88.9" fill="#050506"/>
<rect x="541.5" y="482.1" width="70.1" height="99.8" fill="#050506"/>
<g filter="url(#flKp)" opacity="1"><use href="#kF0" transform="translate(546 392.2) scale(0.601 0.543)" fill="#07070d"/></g>
<g filter="url(#flP)" opacity="0.50"><use href="#cF19" transform="translate(546 392.2) scale(0.601 0.543)" fill="none" stroke="#22143e" stroke-width="14" stroke-linecap="round"/></g>
<g filter="url(#flK)" opacity="1"><use href="#kM1" transform="translate(544.5 485.5) scale(0.606 0.589)" fill="#07070d"/></g>
<g filter="url(#flH)" opacity="0.4"><use href="#cM20" transform="translate(544.5 485.5) scale(0.606 0.589)" fill="none" stroke="#2a2a3a" stroke-width="35" stroke-linecap="round"/></g>
<g filter="url(#flBd)" opacity="0.50"><use href="#cM20" transform="translate(544.5 485.5) scale(0.606 0.589)" fill="none" stroke="#6a763a" stroke-width="29" stroke-linecap="round"/></g>
<line x1="576.1" y1="392.4" x2="576.1" y2="398.4" stroke="#e0457b" stroke-width="0.9"/>
<line x1="576.1" y1="398.4" x2="576.1" y2="409" stroke="#e4cf3a" stroke-width="0.9"/>
<line x1="578" y1="485.7" x2="578" y2="496" stroke="#e0457b" stroke-width="0.9"/>
<line x1="578" y1="496" x2="578" y2="503" stroke="#e4cf3a" stroke-width="0.9"/>
<text x="660" y="373" text-anchor="middle" textLength="48" lengthAdjust="spacingAndGlyphs" font-size="11" fill="#222">Pattern 4</text>
<text x="660" y="384.6" text-anchor="middle" font-style="italic" font-size="11" fill="#222">Cndp2</text>
<rect x="624.8" y="388.7" width="70.4" height="88.9" fill="#050506"/>
<rect x="624.8" y="482.1" width="70.4" height="99.8" fill="#050506"/>
<g filter="url(#flK)" opacity="1"><use href="#kF0" transform="translate(629.3 392.2) scale(0.601 0.543)" fill="#07070d"/></g>
<g filter="url(#flH)" opacity="0.4"><use href="#cF21" transform="translate(629.3 392.2) scale(0.601 0.543)" fill="none" stroke="#2a1a5a" stroke-width="20" stroke-linecap="round"/></g>
<g filter="url(#flBd)" opacity="0.80"><use href="#cF21" transform="translate(629.3 392.2) scale(0.601 0.543)" fill="none" stroke="#5c9c54" stroke-width="14" stroke-linecap="round"/></g>
<g filter="url(#flK)" opacity="1"><use href="#kM1" transform="translate(627.8 485.5) scale(0.606 0.589)" fill="#07070d"/></g>
<g filter="url(#flH)" opacity="0.4"><use href="#cM18" transform="translate(627.8 485.5) scale(0.606 0.589)" fill="none" stroke="#2a2a3a" stroke-width="36" stroke-linecap="round"/></g>
<g filter="url(#flBd)" opacity="0.55"><use href="#cM18" transform="translate(627.8 485.5) scale(0.606 0.589)" fill="none" stroke="#787e38" stroke-width="30" stroke-linecap="round"/></g>
<line x1="659.4" y1="392.4" x2="659.4" y2="398.4" stroke="#e0457b" stroke-width="0.9"/>
<line x1="659.4" y1="398.4" x2="659.4" y2="409" stroke="#e4cf3a" stroke-width="0.9"/>
<line x1="661.3" y1="485.7" x2="661.3" y2="496" stroke="#e0457b" stroke-width="0.9"/>
<line x1="661.3" y1="496" x2="661.3" y2="503" stroke="#e4cf3a" stroke-width="0.9"/>
<text x="743.5" y="373" text-anchor="middle" textLength="48" lengthAdjust="spacingAndGlyphs" font-size="11" fill="#222">Pattern 5</text>
<text x="743.5" y="384.6" text-anchor="middle" font-style="italic" font-size="11" fill="#222">Aadat</text>
<rect x="710.2" y="388.7" width="66.1" height="88.9" fill="#050506"/>
<rect x="709.6" y="482.1" width="67.2" height="99.8" fill="#050506"/>
<g filter="url(#flK)" opacity="1"><use href="#kF0" transform="translate(714.7 392.2) scale(0.601 0.543)" fill="#07070d"/></g>
<g filter="url(#flH)" opacity="0.4"><use href="#cF21" transform="translate(714.7 392.2) scale(0.601 0.543)" fill="none" stroke="#2a1a5a" stroke-width="20" stroke-linecap="round"/></g>
<g filter="url(#flBd)" opacity="0.80"><use href="#cF21" transform="translate(714.7 392.2) scale(0.601 0.543)" fill="none" stroke="#4c985c" stroke-width="14" stroke-linecap="round"/></g>
<g filter="url(#flKp)" opacity="1"><use href="#kM1" transform="translate(712.6 485.5) scale(0.606 0.589)" fill="#07070d"/></g>
<g filter="url(#flP)" opacity="0.70"><use href="#cM14" transform="translate(712.6 485.5) scale(0.606 0.589)" fill="none" stroke="#1f1f4c" stroke-width="27" stroke-linecap="round"/></g>
<g filter="url(#flP)" opacity="0.35"><use href="#cM22" transform="translate(712.6 485.5) scale(0.606 0.589)" fill="none" stroke="#224a62" stroke-width="14" stroke-linecap="round"/></g>
<line x1="744.8" y1="392.4" x2="744.8" y2="398.4" stroke="#e0457b" stroke-width="0.9"/>
<line x1="744.8" y1="398.4" x2="744.8" y2="409" stroke="#e4cf3a" stroke-width="0.9"/>
<line x1="746.1" y1="485.7" x2="746.1" y2="496" stroke="#e0457b" stroke-width="0.9"/>
<line x1="746.1" y1="496" x2="746.1" y2="503" stroke="#e4cf3a" stroke-width="0.9"/>
<path d="M419,414 q5,-2 4,4 q-1,8 3,14 q3,6 -2,10 q-4,2 -6,-1" fill="none" stroke="#c9d23a" stroke-width="1.1" opacity="0.9"/>
<ellipse cx="433" cy="438" rx="6" ry="8" fill="#1f6a7a" opacity="0.28" filter="url(#flH)"/>
<path d="M402,521 q6,-3 8,4 q4,10 12,14 q3,3 -2,5 q-8,2 -12,10" fill="none" stroke="#b9b848" stroke-width="0.9" opacity="0.8"/>
<text x="417.6" y="495.8" text-anchor="middle" font-weight="bold" font-size="12" fill="#e6336f">*</text>
<text x="417.6" y="505.1" text-anchor="middle" font-weight="bold" font-size="12" fill="#e4cf3a">*</text>
<text x="502.7" y="504.6" text-anchor="middle" font-weight="bold" font-size="12" fill="#e4cf3a">*</text>
<text x="496.5" y="398.9" text-anchor="middle" font-weight="bold" font-size="10" fill="#c23a6f">*</text>
<text x="587.4" y="495.2" text-anchor="middle" font-weight="bold" font-size="12" fill="#e6336f">*</text>
<text x="666.6" y="407.1" text-anchor="middle" font-weight="bold" font-size="12" fill="#e4cf3a">*</text>
<text x="752.9" y="407.1" text-anchor="middle" font-weight="bold" font-size="12" fill="#e4cf3a">*</text>
<text x="669" y="494.3" text-anchor="middle" font-weight="bold" font-size="12" fill="#e6336f">*</text>
<line x1="784.1" y1="392.3" x2="784.1" y2="400.3" stroke="#b0306a" stroke-width="1.1"/>
<line x1="782.6" y1="392.3" x2="785.6" y2="392.3" stroke="#333" stroke-width="0.8"/>
<line x1="782.6" y1="400.3" x2="785.6" y2="400.3" stroke="#333" stroke-width="0.8"/>
<line x1="784.1" y1="401.3" x2="784.1" y2="409.5" stroke="#a89030" stroke-width="1.1"/>
<line x1="782.6" y1="401.3" x2="785.6" y2="401.3" stroke="#333" stroke-width="0.8"/>
<line x1="782.6" y1="409.5" x2="785.6" y2="409.5" stroke="#333" stroke-width="0.8"/>
<text x="787.7" y="399.6" textLength="31" lengthAdjust="spacingAndGlyphs" font-size="10" fill="#d6336c">Cortex</text>
<text x="787.7" y="408.9" textLength="31" lengthAdjust="spacingAndGlyphs" font-size="10" fill="#c4a22e">OSOM</text>
<line x1="784.1" y1="486.5" x2="784.1" y2="494.5" stroke="#b0306a" stroke-width="1.1"/>
<line x1="782.6" y1="486.5" x2="785.6" y2="486.5" stroke="#333" stroke-width="0.8"/>
<line x1="782.6" y1="494.5" x2="785.6" y2="494.5" stroke="#333" stroke-width="0.8"/>
<line x1="784.1" y1="495.5" x2="784.1" y2="503.7" stroke="#a89030" stroke-width="1.1"/>
<line x1="782.6" y1="495.5" x2="785.6" y2="495.5" stroke="#333" stroke-width="0.8"/>
<line x1="782.6" y1="503.7" x2="785.6" y2="503.7" stroke="#333" stroke-width="0.8"/>
<text x="787.7" y="493.8" textLength="31" lengthAdjust="spacingAndGlyphs" font-size="10" fill="#d6336c">Cortex</text>
<text x="787.7" y="503.1" textLength="31" lengthAdjust="spacingAndGlyphs" font-size="10" fill="#c4a22e">OSOM</text>
</g>
<g id="panel-e">
<rect x="41.5" y="631.6" width="204.4" height="19.9" fill="#070707"/>
<rect x="52" y="632.2" width="19" height="18.7" fill="#000" filter="url(#stO)" opacity="0.45"/>
<rect x="41.5" y="654.2" width="204.4" height="19.5" fill="#070707"/>
<rect x="52" y="654.8" width="19" height="18.3" fill="#000" filter="url(#stG)" opacity="0.85"/>
<rect x="69" y="654.8" width="30" height="18.3" fill="#000" filter="url(#stY)" opacity="1"/>
<rect x="41.5" y="676.4" width="204.4" height="19.9" fill="#070707"/>
<rect x="52" y="677" width="19" height="18.7" fill="#000" filter="url(#stD)" opacity="0.7"/>
<rect x="71" y="677" width="28" height="18.7" fill="#000" filter="url(#stG)" opacity="0.9"/>
<rect x="74" y="677" width="25" height="18.7" fill="#000" filter="url(#stO)" opacity="0.8"/>
<rect x="41.5" y="701.1" width="204.4" height="19.8" fill="#070707"/>
<rect x="49" y="701.7" width="33" height="18.6" fill="#000" filter="url(#stO)" opacity="0.9"/>
<rect x="83" y="701.7" width="14" height="18.6" fill="#000" filter="url(#stY)" opacity="1"/>
<rect x="41.5" y="723.6" width="204.4" height="19.9" fill="#070707"/>
<rect x="49" y="724.2" width="37" height="18.7" fill="#000" filter="url(#stG)" opacity="1"/>
<rect x="55" y="724.2" width="31" height="18.7" fill="#000" filter="url(#stO)" opacity="0.7"/>
<rect x="84" y="724.2" width="20" height="18.7" fill="#000" filter="url(#stY)" opacity="1"/>
<rect x="41.5" y="746.2" width="204.4" height="20.4" fill="#070707"/>
<rect x="45" y="746.8" width="39" height="19.2" fill="#000" filter="url(#stD)" opacity="0.7"/>
<rect x="84" y="746.8" width="20" height="19.2" fill="#000" filter="url(#stG)" opacity="0.9"/>
<rect x="86" y="746.8" width="18" height="19.2" fill="#000" filter="url(#stO)" opacity="0.8"/>
<g transform="translate(203 686.5) rotate(10)" filter="url(#stB)"><path d="M-11,0 q4.4,-9.8 12.1,-6.3 q6.6,1.4 9.9,7 q-5.5,7 -11,4.9 q-6.6,-1.4 -11,-5.6z" fill="#d9d62e"/></g>
<g transform="translate(228.5 757) rotate(35)" filter="url(#stB)"><path d="M-8.5,0 q3.4,-11.2 9.4,-7.2 q5.1,1.6 7.7,8 q-4.2,8 -8.5,5.6 q-5.1,-1.6 -8.5,-6.4z" fill="#d9d62e"/></g>
<text x="239.9" y="645.2" text-anchor="end" font-style="italic" font-size="10" fill="#fff">Pigr</text>
<text x="239.9" y="667.7" text-anchor="end" font-style="italic" font-size="10" fill="#fff">Lrp2</text>
<text x="239.9" y="690" text-anchor="end" font-style="italic" font-size="10" fill="#fff">Aqp7</text>
<text x="239.9" y="714.7" text-anchor="end" font-style="italic" font-size="10" fill="#fff">Pigr</text>
<text x="239.9" y="737.2" text-anchor="end" font-style="italic" font-size="10" fill="#fff">Lrp2</text>
<text x="239.9" y="760.1" text-anchor="end" font-style="italic" font-size="10" fill="#fff">Aqp7</text>
<line x1="69.7" y1="628.8" x2="69.7" y2="698" stroke="#beb6ee" stroke-width="1.6" stroke-dasharray="4.4 3.2"/>
<line x1="98.6" y1="628.8" x2="98.6" y2="698" stroke="#beb6ee" stroke-width="1.6" stroke-dasharray="4.4 3.2"/>
<line x1="84.8" y1="699.4" x2="84.8" y2="768" stroke="#beb6ee" stroke-width="1.6" stroke-dasharray="4.4 3.2"/>
<line x1="104.6" y1="699.4" x2="104.6" y2="768" stroke="#beb6ee" stroke-width="1.6" stroke-dasharray="4.4 3.2"/>
<text x="38.5" y="624.4" textLength="30.6" lengthAdjust="spacingAndGlyphs" font-size="10.5" fill="#e6456f">Cortex</text>
<text x="71.2" y="624.4" textLength="31" lengthAdjust="spacingAndGlyphs" font-size="10.5" fill="#c4a22e">OSOM</text>
<line x1="53.5" y1="628" x2="69.7" y2="628" stroke="#e6456f" stroke-width="0.9"/>
<line x1="70.5" y1="628" x2="98.6" y2="628" stroke="#e2c53a" stroke-width="0.9"/>
<line x1="51.1" y1="769.7" x2="84.8" y2="769.7" stroke="#e6456f" stroke-width="0.9"/>
<line x1="84.8" y1="769.7" x2="104.6" y2="769.7" stroke="#e2c53a" stroke-width="0.9"/>
<text x="1" y="625" font-weight="bold" font-size="17" fill="#000">e</text>
<text text-anchor="middle" textLength="40.5" lengthAdjust="spacingAndGlyphs" transform="translate(31.6 662.6) rotate(-90)" font-size="11.5" fill="#e6456f">Female</text>
<text text-anchor="middle" textLength="26" lengthAdjust="spacingAndGlyphs" transform="translate(31.6 732.5) rotate(-90)" font-size="11.5" fill="#6a62b8">Male</text>
</g><g id="panel-g">
<rect x="484.7" y="631.6" width="203.3" height="19.9" fill="#070707"/>
<rect x="495" y="632.2" width="19" height="18.7" fill="#000" filter="url(#stG)" opacity="0.85"/>
<rect x="514" y="632.2" width="28" height="18.7" fill="#000" filter="url(#stD)" opacity="0.5"/>
<rect x="484.7" y="654.2" width="203.3" height="19.5" fill="#070707"/>
<rect x="495" y="654.8" width="19" height="18.3" fill="#000" filter="url(#stG)" opacity="0.85"/>
<rect x="512" y="654.8" width="30" height="18.3" fill="#000" filter="url(#stY)" opacity="1"/>
<rect x="484.7" y="676.4" width="203.3" height="19.9" fill="#070707"/>
<rect x="495" y="677" width="19" height="18.7" fill="#000" filter="url(#stD)" opacity="0.7"/>
<rect x="514" y="677" width="28" height="18.7" fill="#000" filter="url(#stG)" opacity="0.9"/>
<rect x="517" y="677" width="25" height="18.7" fill="#000" filter="url(#stO)" opacity="0.8"/>
<rect x="484.7" y="701.1" width="203.3" height="19.8" fill="#070707"/>
<rect x="489" y="701.7" width="40" height="18.6" fill="#000" filter="url(#stY)" opacity="0.9"/>
<rect x="489" y="701.7" width="40" height="18.6" fill="#000" filter="url(#stG)" opacity="0.8"/>
<rect x="527" y="701.7" width="21" height="18.6" fill="#000" filter="url(#stY)" opacity="1"/>
<rect x="484.7" y="723.6" width="203.3" height="19.9" fill="#070707"/>
<rect x="489" y="724.2" width="40" height="18.7" fill="#000" filter="url(#stG)" opacity="1"/>
<rect x="495" y="724.2" width="34" height="18.7" fill="#000" filter="url(#stO)" opacity="0.8"/>
<rect x="527" y="724.2" width="21" height="18.7" fill="#000" filter="url(#stY)" opacity="1"/>
<rect x="484.7" y="746.2" width="203.3" height="20.4" fill="#070707"/>
<rect x="488" y="746.8" width="40" height="19.2" fill="#000" filter="url(#stD)" opacity="0.7"/>
<rect x="528" y="746.8" width="20" height="19.2" fill="#000" filter="url(#stG)" opacity="0.9"/>
<rect x="530" y="746.8" width="18" height="19.2" fill="#000" filter="url(#stO)" opacity="0.8"/>
<g transform="translate(648 686.5) rotate(10)" filter="url(#stB)"><path d="M-11,0 q4.4,-9.8 12.1,-6.3 q6.6,1.4 9.9,7 q-5.5,7 -11,4.9 q-6.6,-1.4 -11,-5.6z" fill="#d9d62e"/></g>
<g transform="translate(674 757) rotate(35)" filter="url(#stB)"><path d="M-7.5,0 q3,-11.2 8.2,-7.2 q4.5,1.6 6.8,8 q-3.8,8 -7.5,5.6 q-4.5,-1.6 -7.5,-6.4z" fill="#d9d62e"/></g>
<text x="682" y="645.2" text-anchor="end" font-style="italic" font-size="10" fill="#fff">Akr1c21</text>
<text x="682" y="667.7" text-anchor="end" font-style="italic" font-size="10" fill="#fff">Lrp2</text>
<text x="682" y="690" text-anchor="end" font-style="italic" font-size="10" fill="#fff">Aqp7</text>
<text x="682" y="714.7" text-anchor="end" font-style="italic" font-size="10" fill="#fff">Akr1c21</text>
<text x="682" y="737.2" text-anchor="end" font-style="italic" font-size="10" fill="#fff">Lrp2</text>
<text x="682" y="760.1" text-anchor="end" font-style="italic" font-size="10" fill="#fff">Aqp7</text>
<line x1="512.7" y1="628.8" x2="512.7" y2="698" stroke="#beb6ee" stroke-width="1.6" stroke-dasharray="4.4 3.2"/>
<line x1="542.1" y1="628.8" x2="542.1" y2="698" stroke="#beb6ee" stroke-width="1.6" stroke-dasharray="4.4 3.2"/>
<line x1="527.7" y1="699.4" x2="527.7" y2="768" stroke="#beb6ee" stroke-width="1.6" stroke-dasharray="4.4 3.2"/>
<line x1="547.8" y1="699.4" x2="547.8" y2="768" stroke="#beb6ee" stroke-width="1.6" stroke-dasharray="4.4 3.2"/>
<text x="481" y="624.4" textLength="30.6" lengthAdjust="spacingAndGlyphs" font-size="10.5" fill="#e6456f">Cortex</text>
<text x="519.6" y="624.4" textLength="31" lengthAdjust="spacingAndGlyphs" font-size="10.5" fill="#c4a22e">OSOM</text>
<line x1="496.7" y1="628" x2="513.3" y2="628" stroke="#e6456f" stroke-width="0.9"/>
<line x1="514.1" y1="628" x2="541.8" y2="628" stroke="#e2c53a" stroke-width="0.9"/>
<line x1="494" y1="769.7" x2="527.7" y2="769.7" stroke="#e6456f" stroke-width="0.9"/>
<line x1="527.7" y1="769.7" x2="547.8" y2="769.7" stroke="#e2c53a" stroke-width="0.9"/>
<text x="465.5" y="625" font-weight="bold" font-size="17" fill="#000">g</text>
<text text-anchor="middle" textLength="40.5" lengthAdjust="spacingAndGlyphs" transform="translate(473.2 662.6) rotate(-90)" font-size="11.5" fill="#e6456f">Female</text>
<text text-anchor="middle" textLength="26" lengthAdjust="spacingAndGlyphs" transform="translate(473.2 732.5) rotate(-90)" font-size="11.5" fill="#6a62b8">Male</text>
</g>
<g id="panel-f">
<text x="273" y="623" font-weight="bold" font-size="17" fill="#000">f</text>
<text x="354.4" y="628.4" text-anchor="middle" textLength="31" lengthAdjust="spacingAndGlyphs" font-size="10.5" fill="#c4a22e">OSOM</text>
<text text-anchor="middle" textLength="40.5" lengthAdjust="spacingAndGlyphs" transform="translate(284.8 697.6) rotate(-90)" font-size="11.5" fill="#e6456f">Female</text>
<text text-anchor="middle" textLength="26" lengthAdjust="spacingAndGlyphs" transform="translate(284.8 834.7) rotate(-90)" font-size="11.5" fill="#6a62b8">Male</text>
<g clip-path="url(#ctfF)">
<rect x="285.2" y="627.6" width="139.2" height="138.8" fill="#1ca077" filter="url(#tGreen)"/>
<g filter="url(#tChan)" fill="none" stroke="#1b1b1b" stroke-linecap="round" stroke-linejoin="round">
<path d="M289.9,637.7 L293.6,639.4 298.9,641.6 304.4,642.6 309.6,640.9 315,638.1 320.6,636.1 326.5,636.2 332.6,637.2 338.4,637.7 343.4,636.7 348.1,635.3 353,634.5 358.8,635.2 364.9,636.6 369.1,637.7" stroke-width="6.1"/>
<path d="M382.1,637.7 L386.1,636.6 391.9,635.1 398.3,634.5 405.7,635.7 413.7,637.8 419.3,639.3" stroke-width="3.6"/>
<path d="M291.5,653.9 L294.8,655.3 299.6,657.2 304.4,658.7 308.6,659.7 312.8,660.3 317.4,660.4 322.6,659.6 328.3,658.4 333.5,657.1 338.2,655.9 342.5,654.6 346.5,653.9 350.3,654.1 353.8,654.9 356.2,655.5" stroke-width="6.8"/>
<path d="M289.9,674.9 L292.7,675.5 296.9,676.4 301.2,678.2 305.4,681.4 309.8,685.5 314.1,689.5 319.3,693 324.4,696.3 327.1,699.2 325.8,701.9 321.9,704.2 317.4,705.7 312.2,705.6 306.3,704.5 301.2,704.1 297.1,704.9 293.7,706.3 291.5,707.3" stroke-width="5.8"/>
<path d="M338.4,670.1 L341.3,669.7 345.5,669.2 349.7,668.5 353.5,667.3 357.3,665.9 361.1,665.2 365.4,665.6 369.7,666.7 372.4,668.5 371.8,671.4 369.6,675.2 369.1,678.2 372.3,680.1 377.2,681.3 382.1,681.4 386.4,679.5 390.7,676.5 395,674.9 399.8,676.4 404.6,679.2 408,681.4" stroke-width="6.5"/>
<path d="M395,658.7 L398.5,660.1 403.4,662 408,663.6 412.1,664.7 415.9,665.5 418.5,666" stroke-width="4.9"/>
<path d="M341.6,716.2 L344.9,715.4 349.7,714.4 354.6,713.8 359.6,714.2 364.8,715 369.1,715.4 372.1,714.5 374.2,713.2 375.6,712.1" stroke-width="4.9"/>
<path d="M353,731.6 L355.4,732.1 359,732.9 362.7,734 366.5,735.6 370.4,737.5 373.2,738.8" stroke-width="4.9"/>
<path d="M289.9,741.3 L295,740.6 302.3,739.8 309.3,739.7 314.9,741.1 320.2,743.2 325.5,744.5 331.4,743.9 337.4,742.4 341.6,741.3" stroke-width="3.9"/>
<path d="M375.6,696.8 L379,697.7 383.8,699 388.6,699.2 393.4,697.5 398.1,694.7 401.5,692.7" stroke-width="4.2"/>
<path d="M338.4,683.8 L340.8,684.1 344.1,684.4 346.5,684.6" stroke-width="3.6"/>
</g>
</g>
<g clip-path="url(#ctfM)">
<rect x="285.2" y="764.8" width="139.2" height="139.3" fill="#1ca077" filter="url(#tGreen)"/>
<path d="M286.6,766.6 L309.3,761.8 340.5,763.2 362.7,766.6 366.2,771.7 360.8,778.7 357.8,784.4 363,787.1 370.6,788.4 375.6,790.9 375.7,795.7 373.2,801.7 369.1,807.1 363.5,812.1 356.4,816.6 349.7,818.4 343.9,815 338.5,808.9 333.5,805.5 329.8,807.8 326.5,812.8 322.2,816.8 315.7,817.9 308.1,818 301.2,818.4 295.3,822.1 290.2,826.1 286.6,823.3 282.7,806.8 280.4,783.6Z" fill="#d9566a" filter="url(#tRed)"/>
<path d="M286.6,829.7 L292.7,827.9 301.2,830.9 309.3,834.6 316.3,837.7 322.9,841.5 327.1,845.9 328.1,851.3 326.9,857.2 323.8,862.1 318.5,865.2 311.4,867.2 304.4,868.6 297.7,870.5 291.2,871.7 286.6,868.6 284.5,856.9 284.3,840.9Z" fill="#d9566a" filter="url(#tRed)"/>
<path d="M333.5,797.4 L348.9,791.2 367.8,788.2 382.1,789.3 388.9,796.2 391.1,807.2 388.6,818.4 379.5,829.4 365.8,840.6 353,849.1 342.5,854.2 332.9,856.5 325.5,855.6 320.4,850.7 317.5,842.6 317.4,833 319.8,821 324.9,807.7Z" fill="#d9566a" filter="url(#tRedS)"/>
<path d="M286.6,868.6 L297.1,863.5 311.9,861.5 325.5,862.1 336.6,865.5 346.5,871.4 353,878.3 356.4,886.7 356.4,895.9 349.7,902.5 330.8,905.6 305.2,906 286.6,902.5 280.5,892.7 281.4,879.1Z" fill="#d9566a" filter="url(#tRedS)"/>
<g filter="url(#tChan)" fill="none" stroke="#1b1b1b" stroke-linecap="round" stroke-linejoin="round">
<path d="M288.2,820.8 L292.6,821.1 298.7,821.5 304.4,821.6 308.7,821.6 312.6,821.3 317.4,820.8 324,819.4 331.6,817.6 338.4,817.6 343.8,821 348.5,826.1 353,829.7 357.5,830.5 361.9,829.8 365.9,828.9 369.3,828.1 372.3,827 375.6,825.7 379.8,823.8 384.4,821.7 388.6,820 391.6,819 394.2,818.5 398.3,818.4 405.7,819 414.6,820 420.9,820.8" stroke-width="9.4"/>
<path d="M382.1,829.7 L386,830.7 391.8,832.1 398.3,833 406.2,832.7 414.8,831.9 420.9,831.3" stroke-width="10.4"/>
<path d="M338.4,813.5 L341.8,815 346.4,817 349.7,818.4" stroke-width="6.5"/>
<path d="M288.2,841.1 L292.6,841.4 298.7,842 304.4,842.7 308.9,844 312.9,845.6 317.4,845.9 323.1,843.7 329.2,840.3 333.5,837.8" stroke-width="6.5"/>
<path d="M362.7,771.5 L362.2,773.9 361.5,777.2 361.1,779.6" stroke-width="4.9"/>
<path d="M382.1,805.5 L385.4,806.5 390.2,808 395,808.7 399.8,808 404.6,806.5 408,805.5" stroke-width="5.5"/>
<path d="M346.5,862.1 L347.3,866.3 348.5,872.3 349.7,878.3 350.9,884.3 352.1,890.3 353,894.4" stroke-width="5.8"/>
<path d="M375.6,855.6 L377.5,859.5 380.2,864.7 382.1,868.6" stroke-width="4.9"/>
<path d="M289.9,897.7 L296.8,898.2 306.8,898.9 317.4,899.3 327.8,899.2 338.8,898.7 349.7,898.5 361.7,898.7 373.7,899 382.1,899.3" stroke-width="4.9"/>
<path d="M304.4,794.1 L303.5,796.5 302.1,799.8 301.2,802.2" stroke-width="4.2"/>
</g>
</g>
</g>
<g id="panel-h">
<text x="710.5" y="623" font-weight="bold" font-size="17" fill="#000">h</text>
<text x="793.6" y="628.4" text-anchor="middle" textLength="31" lengthAdjust="spacingAndGlyphs" font-size="10.5" fill="#c4a22e">OSOM</text>
<text text-anchor="middle" textLength="40.5" lengthAdjust="spacingAndGlyphs" transform="translate(722 699) rotate(-90)" font-size="11.5" fill="#e6456f">Female</text>
<text text-anchor="middle" textLength="26" lengthAdjust="spacingAndGlyphs" transform="translate(722 834.7) rotate(-90)" font-size="11.5" fill="#6a62b8">Male</text>
<g clip-path="url(#cthF)">
<rect x="723.6" y="627.6" width="139.3" height="138.8" fill="#1ca077" filter="url(#tGreen)"/>
<g filter="url(#tChan)" fill="none" stroke="#1b1b1b" stroke-linecap="round" stroke-linejoin="round">
<path d="M727.9,637.7 L731.6,639.4 736.9,641.6 742.4,642.6 747.6,640.9 753,638.1 758.6,636.1 764.5,636.2 770.6,637.2 776.4,637.7 781.4,636.7 786.1,635.3 791,634.5 796.8,635.2 802.9,636.6 807.1,637.7" stroke-width="6.1"/>
<path d="M820.1,637.7 L824.1,636.6 829.9,635.1 836.3,634.5 843.7,635.7 851.7,637.8 857.3,639.3" stroke-width="3.6"/>
<path d="M729.5,653.9 L732.8,655.3 737.6,657.2 742.4,658.7 746.6,659.7 750.8,660.3 755.4,660.4 760.6,659.6 766.3,658.4 771.5,657.1 776.2,655.9 780.5,654.6 784.5,653.9 788.3,654.1 791.8,654.9 794.2,655.5" stroke-width="6.8"/>
<path d="M727.9,674.9 L730.7,675.5 734.9,676.4 739.2,678.2 743.4,681.4 747.8,685.5 752.1,689.5 757.3,693 762.4,696.3 765.1,699.2 763.8,701.9 759.9,704.2 755.4,705.7 750.2,705.6 744.3,704.5 739.2,704.1 735.1,704.9 731.7,706.3 729.5,707.3" stroke-width="5.8"/>
<path d="M776.4,670.1 L779.3,669.7 783.5,669.2 787.7,668.5 791.5,667.3 795.3,665.9 799.1,665.2 803.4,665.6 807.7,666.7 810.4,668.5 809.8,671.4 807.6,675.2 807.1,678.2 810.3,680.1 815.2,681.3 820.1,681.4 824.4,679.5 828.7,676.5 833,674.9 837.8,676.4 842.6,679.2 846,681.4" stroke-width="6.5"/>
<path d="M833,658.7 L836.5,660.1 841.4,662 846,663.6 850.1,664.7 853.9,665.5 856.5,666" stroke-width="4.9"/>
<path d="M779.6,716.2 L782.9,715.4 787.7,714.4 792.6,713.8 797.6,714.2 802.8,715 807.1,715.4 810.1,714.5 812.2,713.2 813.6,712.1" stroke-width="4.9"/>
<path d="M791,731.6 L793.4,732.1 797,732.9 800.7,734 804.5,735.6 808.4,737.5 811.2,738.8" stroke-width="4.9"/>
<path d="M727.9,741.3 L733,740.6 740.3,739.8 747.3,739.7 752.9,741.1 758.2,743.2 763.5,744.5 769.4,743.9 775.4,742.4 779.6,741.3" stroke-width="3.9"/>
<path d="M813.6,696.8 L817,697.7 821.8,699 826.6,699.2 831.4,697.5 836.1,694.7 839.5,692.7" stroke-width="4.2"/>
<path d="M776.4,683.8 L778.8,684.1 782.1,684.4 784.5,684.6" stroke-width="3.6"/>
</g>
</g>
<g clip-path="url(#cthM)">
<rect x="723.6" y="765.3" width="139.3" height="139" fill="#1ca077" filter="url(#tGreen)"/>
<rect x="723.6" y="765.3" width="139.3" height="139" fill="#dc8a26" filter="url(#tOrg)"/>
<path d="M776.4,769.9 L780.8,769.7 786.9,771.8 791,774.7 791.5,779 790.1,784.2 787.7,787.7 784.1,788.2 779.6,786.9 776.4,784.4 775,779.7 774.9,773.7Z" fill="#1ca077" opacity="0.45" filter="url(#tGreen)"/>
<path d="M836.3,771.5 L842.4,771.1 851.3,772.4 857.3,774.7 857.9,779 855.6,784.3 852.4,787.7 848.4,787.6 843.4,785.6 839.5,782.8 836.8,779 835.2,774.4Z" fill="#1ca077" opacity="0.45" filter="url(#tGreen)"/>
<path d="M771.5,800.6 L775.9,798.2 782.5,796.9 787.7,797.4 790.4,800.8 791.7,806.1 791,810.3 787.1,812.7 781.2,814 776.4,813.5 773.3,810.1 771.2,804.8Z" fill="#1ca077" opacity="0.45" filter="url(#tGreen)"/>
<path d="M813.6,794.1 L817.2,793.8 823,795.2 826.6,797.4 825.8,801 823,805.3 820.1,807.1 817.2,803.8 814.3,798.1Z" fill="#1ca077" opacity="0.45" filter="url(#tGreen)"/>
<path d="M729.5,862.1 L733.8,861.4 741,862.8 745.7,865.3 745.3,870 742.4,875.8 739.2,878.3 735.2,874.3 730.9,867.1Z" fill="#1ca077" opacity="0.45" filter="url(#tGreen)"/>
<path d="M800.7,855.6 L805.3,856.1 810.7,858.7 813.6,862.1 812.1,866.6 808,871.9 803.9,875 800.1,874.6 796.2,871.9 794.2,868.6 794.9,864 797.4,858.7Z" fill="#1ca077" opacity="0.45" filter="url(#tGreen)"/>
<path d="M747.3,784.4 L750.9,785.1 755.9,788 758.6,790.9 756.6,793.8 752.3,796.6 748.9,797.4 747.3,793.8 746.6,788Z" fill="#1ca077" opacity="0.45" filter="url(#tGreen)"/>
<g filter="url(#tChan)" fill="none" stroke="#1b1b1b" stroke-linecap="round" stroke-linejoin="round">
<path d="M726.2,820.8 L730.6,821.1 736.7,821.5 742.4,821.6 746.7,821.6 750.6,821.3 755.4,820.8 762,819.4 769.6,817.6 776.4,817.6 781.8,821 786.5,826.1 791,829.7 795.5,830.5 799.9,829.8 803.9,828.9 807.3,828.1 810.3,827 813.6,825.7 817.8,823.8 822.4,821.7 826.6,820 829.6,819 832.2,818.5 836.3,818.4 843.7,819 852.6,820 858.9,820.8" stroke-width="9.4"/>
<path d="M820.1,829.7 L824,830.7 829.8,832.1 836.3,833 844.2,832.7 852.8,831.9 858.9,831.3" stroke-width="10.4"/>
<path d="M776.4,813.5 L779.8,815 784.4,817 787.7,818.4" stroke-width="6.5"/>
<path d="M726.2,841.1 L730.6,841.4 736.7,842 742.4,842.7 746.9,844 750.9,845.6 755.4,845.9 761.1,843.7 767.2,840.3 771.5,837.8" stroke-width="6.5"/>
<path d="M800.7,771.5 L800.2,773.9 799.5,777.2 799.1,779.6" stroke-width="4.9"/>
<path d="M820.1,805.5 L823.4,806.5 828.2,808 833,808.7 837.8,808 842.6,806.5 846,805.5" stroke-width="5.5"/>
<path d="M784.5,862.1 L785.3,866.3 786.5,872.3 787.7,878.3 788.9,884.3 790.1,890.3 791,894.4" stroke-width="5.8"/>
<path d="M813.6,855.6 L815.5,859.5 818.2,864.7 820.1,868.6" stroke-width="4.9"/>
<path d="M727.9,897.7 L734.8,898.2 744.8,898.9 755.4,899.3 765.8,899.2 776.8,898.7 787.7,898.5 799.7,898.7 811.7,899 820.1,899.3" stroke-width="4.9"/>
<path d="M742.4,794.1 L741.5,796.5 740.1,799.8 739.2,802.2" stroke-width="4.2"/>
</g>
</g>
</g>
<text x="293" y="641.2" textLength="46" lengthAdjust="spacingAndGlyphs" font-size="11.5" fill="#fff">Proximal</text>
<text x="415.6" y="641.2" text-anchor="end" textLength="30" lengthAdjust="spacingAndGlyphs" font-size="11.5" fill="#fff">Distal</text>
<line x1="293.8" y1="648.5" x2="412.5" y2="648.5" stroke="#fff" stroke-width="1.3" marker-end="url(#arw)"/>
<text x="298" y="780" textLength="46" lengthAdjust="spacingAndGlyphs" font-size="11.5" fill="#fff">Proximal</text>
<text x="415.6" y="780" text-anchor="end" textLength="30" lengthAdjust="spacingAndGlyphs" font-size="11.5" fill="#fff">Distal</text>
<line x1="293.8" y1="787.3" x2="412.5" y2="787.3" stroke="#fff" stroke-width="1.3" marker-end="url(#arw)"/>
<rect x="292.5" y="726.3" width="52" height="13.2" fill="#fff" opacity="0.42"/>
<rect x="290.5" y="744" width="82.5" height="13.2" fill="#fff" opacity="0.42"/>
<rect x="296.5" y="729.6" width="6.8" height="6.8" fill="#0e7a55"/>
<text x="307" y="736.5" textLength="25.4" lengthAdjust="spacingAndGlyphs" font-size="8.8" fill="#3a3a3a">PT(S3)</text>
<circle cx="297.7" cy="750.7" r="2.9" fill="#f0566a" stroke="#222" stroke-width="0.6"/>
<text x="304.5" y="754" font-style="italic" textLength="14.5" lengthAdjust="spacingAndGlyphs" font-size="8.8" fill="#333">Pigr</text>
<circle cx="334.5" cy="750.7" r="2.9" fill="#5fdaa6" stroke="#222" stroke-width="0.6"/>
<text x="341.3" y="754" font-style="italic" textLength="19.8" lengthAdjust="spacingAndGlyphs" font-size="8.8" fill="#333">Aqp7</text>
<rect x="292.5" y="862.6" width="52" height="13.2" fill="#fff" opacity="0.42"/>
<rect x="290.5" y="881" width="82.5" height="13.2" fill="#fff" opacity="0.42"/>
<rect x="296.5" y="865.9" width="6.8" height="6.8" fill="#0e7a55"/>
<text x="307" y="872.8" textLength="25.4" lengthAdjust="spacingAndGlyphs" font-size="8.8" fill="#3a3a3a">PT(S3)</text>
<circle cx="297.7" cy="887.7" r="2.9" fill="#f0566a" stroke="#222" stroke-width="0.6"/>
<text x="304.5" y="891" font-style="italic" textLength="14.5" lengthAdjust="spacingAndGlyphs" font-size="8.8" fill="#333">Pigr</text>
<circle cx="334.5" cy="887.7" r="2.9" fill="#5fdaa6" stroke="#222" stroke-width="0.6"/>
<text x="341.3" y="891" font-style="italic" textLength="19.8" lengthAdjust="spacingAndGlyphs" font-size="8.8" fill="#333">Aqp7</text>
<rect x="730" y="727.3" width="52" height="13.2" fill="#fff" opacity="0.42"/>
<rect x="728" y="745" width="85.7" height="13.2" fill="#fff" opacity="0.42"/>
<rect x="734" y="730.6" width="6.8" height="6.8" fill="#0e7a55"/>
<text x="744.5" y="737.5" textLength="25.4" lengthAdjust="spacingAndGlyphs" font-size="8.8" fill="#3a3a3a">PT(S3)</text>
<circle cx="735.2" cy="751.7" r="2.9" fill="#f39a1e" stroke="#222" stroke-width="0.6"/>
<text x="744.5" y="755" font-style="italic" textLength="28.5" lengthAdjust="spacingAndGlyphs" font-size="8.8" fill="#333">Akr1c21</text>
<circle cx="781" cy="751.7" r="2.9" fill="#5fdaa6" stroke="#222" stroke-width="0.6"/>
<text x="790.3" y="755" font-style="italic" textLength="19.8" lengthAdjust="spacingAndGlyphs" font-size="8.8" fill="#333">Aqp7</text>
<rect x="730" y="862.7" width="52" height="13.2" fill="#fff" opacity="0.42"/>
<rect x="728" y="880.5" width="92.8" height="13.2" fill="#fff" opacity="0.42"/>
<rect x="734" y="866" width="6.8" height="6.8" fill="#0e7a55"/>
<text x="744.5" y="872.9" textLength="25.4" lengthAdjust="spacingAndGlyphs" font-size="8.8" fill="#3a3a3a">PT(S3)</text>
<circle cx="735.2" cy="887.2" r="2.9" fill="#f39a1e" stroke="#222" stroke-width="0.6"/>
<text x="745.7" y="890.5" font-style="italic" textLength="28.5" lengthAdjust="spacingAndGlyphs" font-size="8.8" fill="#333">Akr1c21</text>
<circle cx="787.8" cy="887.2" r="2.9" fill="#5fdaa6" stroke="#222" stroke-width="0.6"/>
<text x="798.3" y="890.5" font-style="italic" textLength="19.8" lengthAdjust="spacingAndGlyphs" font-size="8.8" fill="#333">Aqp7</text>
<rect x="377.3" y="704" width="40.7" height="52.7" fill="#060608"/>
<g filter="url(#flK)" opacity="1"><use href="#kF0" transform="translate(381 707.5) scale(0.318 0.298)" fill="#07070d"/></g>
<g filter="url(#flP)" opacity="0.95"><use href="#cF23" transform="translate(381 707.5) scale(0.318 0.298)" fill="none" stroke="#5a54b0" stroke-width="10" stroke-linecap="round"/></g>
<rect x="383.3" y="725.3" width="3.2" height="3" fill="none" stroke="#e8315f" stroke-width="0.8"/>
<rect x="384.4" y="846.6" width="33.6" height="47" fill="#060608"/>
<g filter="url(#flK)" opacity="1"><use href="#kM1" transform="translate(387 849) scale(0.276 0.264)" fill="#07070d"/></g>
<g filter="url(#flP)" opacity="0.95"><use href="#cM24" transform="translate(387 849) scale(0.276 0.264)" fill="none" stroke="#4a44a8" stroke-width="19" stroke-linecap="round"/></g>
<g filter="url(#flB)" opacity="0.90"><use href="#cM25" transform="translate(387 849) scale(0.276 0.264)" fill="none" stroke="#b4c23c" stroke-width="10" stroke-linecap="round"/></g>
<rect x="389.8" y="864.4" width="3.2" height="3" fill="none" stroke="#e8315f" stroke-width="0.8"/>
<rect x="816.2" y="704.5" width="40.7" height="52.3" fill="#060608"/>
<g filter="url(#flK)" opacity="1"><use href="#kF0" transform="translate(820 707.5) scale(0.318 0.298)" fill="#07070d"/></g>
<g filter="url(#flH)" opacity="0.5"><use href="#cF26" transform="translate(820 707.5) scale(0.318 0.298)" fill="none" stroke="#3a1a6a" stroke-width="20" stroke-linecap="round"/></g>
<g filter="url(#flB)" opacity="0.95"><use href="#cF26" transform="translate(820 707.5) scale(0.318 0.298)" fill="none" stroke="#a4c03c" stroke-width="14" stroke-linecap="round"/></g>
<rect x="823" y="725.3" width="3.2" height="3" fill="none" stroke="#e8315f" stroke-width="0.8"/>
<rect x="822" y="844.2" width="34.9" height="49.8" fill="#060608"/>
<g filter="url(#flK)" opacity="1"><use href="#kM1" transform="translate(825 847.5) scale(0.281 0.271)" fill="#07070d"/></g>
<g filter="url(#flH)" opacity="0.6"><use href="#cM27" transform="translate(825 847.5) scale(0.281 0.271)" fill="none" stroke="#3a1a6a" stroke-width="35" stroke-linecap="round"/></g>
<g filter="url(#flB)" opacity="1.00"><use href="#cM27" transform="translate(825 847.5) scale(0.281 0.271)" fill="none" stroke="#7ab656" stroke-width="29" stroke-linecap="round"/></g>
<rect x="827.6" y="864.5" width="3.2" height="3" fill="none" stroke="#e8315f" stroke-width="0.8"/>
<g id="panel-i">
<text x="2.5" y="983" font-weight="bold" font-size="17" fill="#000">i</text>
<text text-anchor="middle" textLength="40.5" lengthAdjust="spacingAndGlyphs" transform="translate(20.4 1026.6) rotate(-90)" font-size="11.5" fill="#e6456f">Female</text>
<text text-anchor="middle" textLength="26" lengthAdjust="spacingAndGlyphs" transform="translate(20.4 1119.8) rotate(-90)" font-size="11.5" fill="#6a62b8">Male</text>
<text x="57.4" y="982.6" text-anchor="middle" font-style="italic" font-size="11" fill="#222">Prlr</text>
<text x="127" y="982.6" text-anchor="middle" font-style="italic" font-size="11" fill="#222">Jak2</text>
<text x="193.7" y="982.6" text-anchor="middle" font-style="italic" font-size="11" fill="#222">Socs2</text>
<rect x="25.8" y="985.8" width="63.8" height="82.4" fill="#050506"/>
<rect x="25.8" y="1074.6" width="63.8" height="91" fill="#050506"/>
<rect x="94.3" y="985.8" width="64.4" height="82.4" fill="#050506"/>
<rect x="94.3" y="1074.6" width="64.4" height="91" fill="#050506"/>
<rect x="163.7" y="985.8" width="65.2" height="82.4" fill="#050506"/>
<rect x="163.7" y="1074.6" width="65.2" height="91" fill="#050506"/>
<g filter="url(#flK)" opacity="1"><use href="#kF0" transform="translate(29.1 988.2) scale(0.531 0.504)" fill="#07070d"/></g>
<g filter="url(#flP)" opacity="0.75"><use href="#cF28" transform="translate(29.1 988.2) scale(0.531 0.504)" fill="none" stroke="#2e2470" stroke-width="14" stroke-linecap="round"/></g>
<g filter="url(#flB)" opacity="0.92"><use href="#cF29" transform="translate(29.1 988.2) scale(0.531 0.504)" fill="none" stroke="#8cba48" stroke-width="14" stroke-linecap="round"/></g>
<g filter="url(#flJ)" opacity="1"><use href="#kF0" transform="translate(97.1 988.2) scale(0.579 0.504)" fill="#10183c"/></g>
<g filter="url(#flP)" opacity="0.60"><use href="#cF30" transform="translate(97.1 988.2) scale(0.579 0.504)" fill="none" stroke="#246a86" stroke-width="20" stroke-linecap="round"/></g>
<g filter="url(#flK)" opacity="1"><use href="#kF0" transform="translate(166.5 988.2) scale(0.551 0.504)" fill="#111114"/></g>
<g filter="url(#flP)" opacity="0.70"><use href="#cF23" transform="translate(166.5 988.2) scale(0.551 0.504)" fill="none" stroke="#2a2262" stroke-width="12" stroke-linecap="round"/></g>
<g filter="url(#flB)" opacity="0.85"><use href="#cF31" transform="translate(166.5 988.2) scale(0.551 0.504)" fill="none" stroke="#a8a83c" stroke-width="18" stroke-linecap="round"/></g>
<g filter="url(#flK)" opacity="1"><use href="#kM1" transform="translate(28.5 1078) scale(0.552 0.535)" fill="#050506"/></g>
<g filter="url(#flB)" opacity="0.92"><use href="#cM32" transform="translate(28.5 1078) scale(0.552 0.535)" fill="none" stroke="#6fb858" stroke-width="9" stroke-linecap="round"/></g>
<g filter="url(#flJ)" opacity="1"><use href="#kM1" transform="translate(97 1077.9) scale(0.555 0.535)" fill="#11152e"/></g>
<path d="M138,1118 q8,-4 12,2 q4,6 -2,10 q-8,0 -12,-4z" fill="#2a8a8a" opacity="0.7" filter="url(#flBd)"/>
<path d="M134,1104 q6,-2 9,3 q2,5 -2,6 q-5,-3 -7,-9z M133,1128 q6,-2 8,3 q1,5 -3,7 q-4,-4 -5,-10z" fill="#040406"/>
<g filter="url(#flG)" opacity="1"><use href="#kM1" transform="translate(166.5 1077.9) scale(0.543 0.535)" fill="#121212"/></g>
<path d="M203,1104 q6,-2 9,3 q2,5 -2,6 q-5,-3 -7,-9z M202,1128 q6,-2 8,3 q1,5 -3,7 q-4,-4 -5,-10z" fill="#040406"/>
<rect x="41.8" y="1020.6" width="3.6" height="3.3" fill="none" stroke="#e8315f" stroke-width="0.9"/>
<rect x="111.2" y="1020.6" width="3.6" height="3.3" fill="none" stroke="#e8315f" stroke-width="0.9"/>
<rect x="180.2" y="1018.9" width="3.6" height="3.3" fill="none" stroke="#e8315f" stroke-width="0.9"/>
<rect x="39.8" y="1107.1" width="3.6" height="3.3" fill="none" stroke="#e8315f" stroke-width="0.9"/>
<rect x="109.7" y="1107.1" width="3.6" height="3.3" fill="none" stroke="#e8315f" stroke-width="0.9"/>
<rect x="179.4" y="1107.1" width="3.6" height="3.3" fill="none" stroke="#e8315f" stroke-width="0.9"/>
</g>
<g id="panel-j">
<text x="241" y="983" font-weight="bold" font-size="17" fill="#000">j</text>
<text x="289.1" y="982.6" text-anchor="middle" textLength="35" lengthAdjust="spacingAndGlyphs" font-size="11" fill="#f0bf1c">OSOM</text>
<g clip-path="url(#cj1)">
<rect x="236" y="982" width="106" height="90" fill="#149a70" filter="url(#tJ1)"/>
<g filter="url(#tChan)" fill="none" stroke="#1b1b1b" stroke-linecap="round" stroke-linejoin="round">
<path d="M239.2,1017.4 L244.7,1018.4 252.6,1019.8 259.9,1021.4 265.7,1022.9 270.9,1024.5 275.8,1026.2 280.2,1028.3 284.3,1030.5 288.5,1031.7 293.1,1031.2 297.9,1029.6 302.8,1027.7 307.9,1025.7 313.2,1023.5 318.8,1021.7 325.6,1020.7 332.8,1020.1 337.9,1019.8" stroke-width="8"/>
<path d="M239.2,1052.4 L243.4,1053.3 249.4,1054.4 255.1,1054.8 260.1,1053.8 264.6,1052.1 267.8,1050.8" stroke-width="5.4"/>
<path d="M273.4,1038.1 L275.8,1039.5 279,1041.5 281.4,1042.9" stroke-width="3.5"/>
<path d="M283.7,1059.6 L287.5,1060.5 292.7,1061.8 296.5,1062.8" stroke-width="3.2"/>
<path d="M325.1,989.5 L328.9,991 334.1,992.9 337.9,994.3" stroke-width="2.5"/>
</g>
</g><g clip-path="url(#cj2)">
<rect x="236" y="1067" width="106" height="100" fill="#1c1c1c" filter="url(#tJ2)"/>
<g filter="url(#tJg)" fill="none" stroke="#179a70" stroke-linecap="round" stroke-linejoin="round">
<path d="M245.5,1083.5 L248.4,1084.8 252.6,1086.7 256.7,1088.2 260.8,1089.1 264.9,1089.5 267.8,1089.8" stroke-width="7.3"/>
<path d="M283.7,1081.9 L288.8,1082.2 296,1082.6 302.8,1083.5 308.3,1085.1 313.3,1087.1 318.8,1088.2 325.6,1087.6 332.8,1086.2 337.9,1085" stroke-width="13.4"/>
<path d="M239.2,1101.8 L244.4,1103.5 252,1105.9 259.9,1107.3 267.6,1106.8 275.7,1105.3 283.7,1104.5 291.5,1105.3 299.2,1106.8 307.6,1107.3 318.4,1105.7 329.8,1103 337.9,1101" stroke-width="9.9"/>
<path d="M239.2,1120.4 L246.8,1119.7 257.6,1118.9 267.8,1118.8 276.1,1120.2 283.9,1122.3 291.7,1123.2 299.7,1121.9 307.7,1119.4 315.6,1117.2 324,1115.8 332.1,1114.7 337.9,1114" stroke-width="8.9"/>
<path d="M272.6,1139.5 L280,1138.3 290.5,1136.8 299.7,1136.6 305.6,1138.9 310.2,1142.5 315.6,1145.5 323.4,1147.2 331.8,1148.3 337.9,1149" stroke-width="7.6"/>
<path d="M239.2,1146.3 L243.9,1147.1 250.4,1148.2 255.1,1149" stroke-width="4.8"/>
<path d="M239.2,1159.1 L243,1159.4 248.1,1159.8 251.9,1160.2" stroke-width="3.8"/>
<path d="M267.8,1156.7 L274,1157.1 282.4,1157.8 288.5,1158.3" stroke-width="4.1"/>
</g>
<rect x="240" y="1071" width="98" height="26" fill="#000" filter="url(#tJy)"/>
</g>
<rect x="301.6" y="1037" width="33.8" height="28.6" fill="#fff" opacity="0.48"/>
<circle cx="305.2" cy="1042.6" r="1.5" fill="#d9c81f"/>
<text x="310" y="1045.6" font-size="8.2" fill="#3a3a3a">Prlr</text>
<circle cx="305.2" cy="1051.8" r="1.5" fill="#f0605a"/>
<text x="310" y="1054.8" font-size="8.2" fill="#3a3a3a">Jak2</text>
<circle cx="305.2" cy="1061" r="1.5" fill="#5ab4e0"/>
<text x="310" y="1064" font-size="8.2" fill="#3a3a3a">Socs2</text>
<rect x="301.6" y="1128.7" width="33.8" height="28.6" fill="#fff" opacity="0.48"/>
<circle cx="305.2" cy="1134.3" r="1.5" fill="#d9c81f"/>
<text x="310" y="1137.3" font-size="8.2" fill="#3a3a3a">Prlr</text>
<circle cx="305.2" cy="1143.5" r="1.5" fill="#f0605a"/>
<text x="310" y="1146.5" font-size="8.2" fill="#3a3a3a">Jak2</text>
<circle cx="305.2" cy="1152.7" r="1.5" fill="#5ab4e0"/>
<text x="310" y="1155.7" font-size="8.2" fill="#3a3a3a">Socs2</text>
</g>
<g id="panel-c">
<text x="1" y="371" font-weight="bold" font-size="17" fill="#000">c</text>
<text x="69.5" y="375.8" textLength="202" lengthAdjust="spacingAndGlyphs" font-size="12" fill="#1a1a1a">Zonal expression of spatial sex DEGs</text>
<text x="51" y="392.6" textLength="23.5" lengthAdjust="spacingAndGlyphs" font-size="11" fill="#1a1a1a">Zone</text>
<text x="95.2" y="391" text-anchor="middle" font-size="8.6" fill="#e6456f">Cortex</text>
<rect x="82.7" y="393.8" width="25" height="2.2" fill="#e6456f"/>
<text x="123.8" y="391" text-anchor="middle" font-size="8.6" fill="#f0bf1c">OSOM</text>
<rect x="111.5" y="393.8" width="24.5" height="2.2" fill="#f2c11e"/>
<text x="152.8" y="391" text-anchor="middle" font-size="8.6" fill="#b98a2a">ISOM</text>
<rect x="140.7" y="393.8" width="24.1" height="2.2" fill="#b98a2a"/>
<text x="181.4" y="391" text-anchor="middle" font-size="8.6" fill="#2fbf8f">IM</text>
<rect x="169.3" y="393.8" width="24.1" height="2.2" fill="#19b889"/>
<text x="195" y="393.5" textLength="39" lengthAdjust="spacingAndGlyphs" font-size="12" fill="#1a1a1a">Pattern</text>
<rect x="82.7" y="396.6" width="25" height="28.8" fill="#f3f3f3"/>
<rect x="111.5" y="396.6" width="24.5" height="28.8" fill="#f3f3f3"/>
<rect x="140.7" y="396.6" width="24.1" height="28.8" fill="#f3f3f3"/>
<rect x="169.3" y="396.6" width="24.1" height="28.8" fill="#f3f3f3"/>
<rect x="193.4" y="396.6" width="44.2" height="28.8" fill="#e3e3e3"/>
<text x="215.5" y="414" text-anchor="middle" font-size="8.3" fill="#222">Pattern 1</text>
<line x1="82.7" y1="396.6" x2="82.7" y2="425.4" stroke="#8a8a8a" stroke-width="0.9"/>
<rect x="82.7" y="430" width="25" height="16.6" fill="#f3f3f3"/>
<rect x="111.5" y="430" width="24.5" height="16.6" fill="#f3f3f3"/>
<rect x="140.7" y="430" width="24.1" height="16.6" fill="#f3f3f3"/>
<rect x="169.3" y="430" width="24.1" height="16.6" fill="#f3f3f3"/>
<rect x="193.4" y="430" width="44.2" height="16.6" fill="#e3e3e3"/>
<text x="215.5" y="441.3" text-anchor="middle" font-size="8.3" fill="#222">Pattern 2</text>
<line x1="82.7" y1="430" x2="82.7" y2="446.6" stroke="#8a8a8a" stroke-width="0.9"/>
<rect x="82.7" y="451.3" width="25" height="16.7" fill="#f3f3f3"/>
<rect x="111.5" y="451.3" width="24.5" height="16.7" fill="#f3f3f3"/>
<rect x="140.7" y="451.3" width="24.1" height="16.7" fill="#f3f3f3"/>
<rect x="169.3" y="451.3" width="24.1" height="16.7" fill="#f3f3f3"/>
<rect x="193.4" y="451.3" width="44.2" height="16.7" fill="#e3e3e3"/>
<text x="215.5" y="462.6" text-anchor="middle" font-size="8.3" fill="#222">Pattern 3</text>
<line x1="82.7" y1="451.3" x2="82.7" y2="468" stroke="#8a8a8a" stroke-width="0.9"/>
<rect x="82.7" y="473" width="25" height="16.4" fill="#f3f3f3"/>
<rect x="111.5" y="473" width="24.5" height="16.4" fill="#f3f3f3"/>
<rect x="140.7" y="473" width="24.1" height="16.4" fill="#f3f3f3"/>
<rect x="169.3" y="473" width="24.1" height="16.4" fill="#f3f3f3"/>
<rect x="193.4" y="473" width="44.2" height="16.4" fill="#e3e3e3"/>
<text x="215.5" y="484.2" text-anchor="middle" font-size="8.3" fill="#222">Pattern 4</text>
<line x1="82.7" y1="473" x2="82.7" y2="489.4" stroke="#8a8a8a" stroke-width="0.9"/>
<rect x="82.7" y="493.3" width="25" height="83.3" fill="#f3f3f3"/>
<rect x="111.5" y="493.3" width="24.5" height="83.3" fill="#f3f3f3"/>
<rect x="140.7" y="493.3" width="24.1" height="83.3" fill="#f3f3f3"/>
<rect x="169.3" y="493.3" width="24.1" height="83.3" fill="#f3f3f3"/>
<rect x="193.4" y="493.3" width="44.2" height="83.3" fill="#e3e3e3"/>
<text x="215.5" y="538" text-anchor="middle" font-size="8.3" fill="#222">Pattern 5</text>
<line x1="82.7" y1="493.3" x2="82.7" y2="576.6" stroke="#8a8a8a" stroke-width="0.9"/>
<text x="75.3" y="407.6" text-anchor="end" font-style="italic" font-size="10" fill="#222">Pigr</text>
<line x1="80.6" y1="404.1" x2="82.7" y2="404.1" stroke="#8a8a8a" stroke-width="0.9"/>
<circle cx="89.3" cy="404.1" r="3" fill="#6a10a0"/>
<circle cx="100.4" cy="404.1" r="3.8" fill="#a82296"/>
<circle cx="118.5" cy="404.1" r="1.8" fill="#5a18a0"/>
<circle cx="129.2" cy="404.1" r="4.5" fill="#f5e024"/>
<circle cx="147" cy="404.1" r="2.8" fill="#6a10a4"/>
<circle cx="157.9" cy="404.1" r="3" fill="#6210a4"/>
<circle cx="175.9" cy="404.1" r="1.5" fill="#5a18a0"/>
<circle cx="186.7" cy="404.1" r="1.8" fill="#5a18a0"/>
<text x="75.3" y="420.4" text-anchor="end" font-style="italic" font-size="10" fill="#222">Fmo5</text>
<line x1="80.6" y1="416.9" x2="82.7" y2="416.9" stroke="#8a8a8a" stroke-width="0.9"/>
<circle cx="89.3" cy="416.9" r="2" fill="#5a18a0"/>
<circle cx="100.4" cy="416.9" r="3.8" fill="#b5308c"/>
<circle cx="118.5" cy="416.9" r="1.8" fill="#5a18a0"/>
<circle cx="129.2" cy="416.9" r="4.8" fill="#f5e024"/>
<circle cx="147" cy="416.9" r="2" fill="#5a18a0"/>
<circle cx="157.9" cy="416.9" r="2.2" fill="#5a18a0"/>
<circle cx="175.9" cy="416.9" r="2.5" fill="#7a14a8"/>
<circle cx="186.7" cy="416.9" r="2.8" fill="#7214a6"/>
<text x="75.3" y="441.7" text-anchor="end" font-style="italic" font-size="10" fill="#222">Akr1c21</text>
<line x1="80.6" y1="438.2" x2="82.7" y2="438.2" stroke="#8a8a8a" stroke-width="0.9"/>
<circle cx="89.3" cy="438.2" r="5" fill="#c83e73"/>
<circle cx="100.4" cy="438.2" r="5" fill="#e8655a"/>
<circle cx="118.5" cy="438.2" r="2.5" fill="#3b1d98"/>
<circle cx="129.2" cy="438.2" r="4.8" fill="#f79a3a"/>
<circle cx="147" cy="438.2" r="2.2" fill="#4b1a9c"/>
<circle cx="157.9" cy="438.2" r="3" fill="#5a18a0"/>
<circle cx="175.9" cy="438.2" r="1.8" fill="#5a18a0"/>
<circle cx="186.7" cy="438.2" r="2.5" fill="#5a18a0"/>
<text x="75.3" y="463.1" text-anchor="end" font-style="italic" font-size="10" fill="#222">Cyp4b1</text>
<line x1="80.6" y1="459.6" x2="82.7" y2="459.6" stroke="#8a8a8a" stroke-width="0.9"/>
<circle cx="89.3" cy="459.6" r="4.8" fill="#a020a8"/>
<circle cx="100.4" cy="459.6" r="5" fill="#f7e225"/>
<circle cx="118.5" cy="459.6" r="2" fill="#4a1a9e"/>
<circle cx="129.2" cy="459.6" r="4.2" fill="#a424a4"/>
<circle cx="147" cy="459.6" r="2" fill="#5a18a0"/>
<circle cx="157.9" cy="459.6" r="3" fill="#5a18a0"/>
<circle cx="175.9" cy="459.6" r="2.5" fill="#5a18a0"/>
<circle cx="186.7" cy="459.6" r="2.8" fill="#5a18a0"/>
<text x="75.3" y="484.7" text-anchor="end" font-style="italic" font-size="10" fill="#222">Cndp2</text>
<line x1="80.6" y1="481.2" x2="82.7" y2="481.2" stroke="#8a8a8a" stroke-width="0.9"/>
<circle cx="89.3" cy="481.2" r="4" fill="#6a10a4"/>
<circle cx="100.4" cy="481.2" r="4.5" fill="#f58540"/>
<circle cx="118.5" cy="481.2" r="4.8" fill="#f08040"/>
<circle cx="129.2" cy="481.2" r="4.8" fill="#c43c7c"/>
<circle cx="147" cy="481.2" r="3" fill="#2c2090"/>
<circle cx="157.9" cy="481.2" r="3.2" fill="#2c2090"/>
<circle cx="175.9" cy="481.2" r="3.5" fill="#3a1e98"/>
<circle cx="186.7" cy="481.2" r="3.8" fill="#4a1aa0"/>
<text x="75.3" y="504.9" text-anchor="end" font-style="italic" font-size="10" fill="#222">Jak2</text>
<line x1="80.6" y1="501.4" x2="82.7" y2="501.4" stroke="#8a8a8a" stroke-width="0.9"/>
<circle cx="89.3" cy="501.4" r="2.5" fill="#3a1e98"/>
<circle cx="100.4" cy="501.4" r="2.5" fill="#2c2090"/>
<circle cx="118.5" cy="501.4" r="3.8" fill="#fbb32f"/>
<circle cx="129.2" cy="501.4" r="3" fill="#5a18a0"/>
<circle cx="147" cy="501.4" r="2.8" fill="#5a18a0"/>
<circle cx="157.9" cy="501.4" r="2.8" fill="#5a18a0"/>
<circle cx="175.9" cy="501.4" r="3" fill="#c2388a"/>
<circle cx="186.7" cy="501.4" r="3.3" fill="#e3625c"/>
<text x="75.3" y="518.5" text-anchor="end" font-style="italic" font-size="10" fill="#222">Cdh6</text>
<line x1="80.6" y1="515" x2="82.7" y2="515" stroke="#8a8a8a" stroke-width="0.9"/>
<circle cx="89.3" cy="515" r="2.2" fill="#5a18a0"/>
<circle cx="100.4" cy="515" r="1.3" fill="#3a1e98"/>
<circle cx="118.5" cy="515" r="3.6" fill="#fbac32"/>
<circle cx="129.2" cy="515" r="2.2" fill="#5a18a0"/>
<circle cx="147" cy="515" r="2.2" fill="#5a18a0"/>
<circle cx="157.9" cy="515" r="2.2" fill="#5a18a0"/>
<circle cx="175.9" cy="515" r="3" fill="#e05a62"/>
<circle cx="186.7" cy="515" r="2.8" fill="#c2308e"/>
<text x="75.3" y="531.9" text-anchor="end" font-style="italic" font-size="10" fill="#222">Prlr</text>
<line x1="80.6" y1="528.4" x2="82.7" y2="528.4" stroke="#8a8a8a" stroke-width="0.9"/>
<circle cx="89.3" cy="528.4" r="3.5" fill="#a226a6"/>
<circle cx="100.4" cy="528.4" r="1.8" fill="#5a18a0"/>
<circle cx="118.5" cy="528.4" r="4.6" fill="#f5d62a"/>
<circle cx="129.2" cy="528.4" r="3.8" fill="#b82e90"/>
<circle cx="147" cy="528.4" r="2" fill="#5a18a0"/>
<circle cx="157.9" cy="528.4" r="1.6" fill="#5a18a0"/>
<circle cx="175.9" cy="528.4" r="1.3" fill="#5a18a0"/>
<circle cx="186.7" cy="528.4" r="1" fill="#5a18a0"/>
<text x="75.3" y="545.3" text-anchor="end" font-style="italic" font-size="10" fill="#222">Aadat</text>
<line x1="80.6" y1="541.8" x2="82.7" y2="541.8" stroke="#8a8a8a" stroke-width="0.9"/>
<circle cx="89.3" cy="541.8" r="4.8" fill="#6a10a4"/>
<circle cx="100.4" cy="541.8" r="4.8" fill="#6a10a4"/>
<circle cx="118.5" cy="541.8" r="5.3" fill="#f7e225"/>
<circle cx="129.2" cy="541.8" r="5.2" fill="#b02a98"/>
<circle cx="147" cy="541.8" r="3.8" fill="#6210a4"/>
<circle cx="157.9" cy="541.8" r="3.2" fill="#5a18a0"/>
<circle cx="175.9" cy="541.8" r="3.2" fill="#5a18a0"/>
<circle cx="186.7" cy="541.8" r="2.6" fill="#5a18a0"/>
<text x="75.3" y="558.7" text-anchor="end" font-style="italic" font-size="10" fill="#222">Socs2</text>
<line x1="80.6" y1="555.2" x2="82.7" y2="555.2" stroke="#8a8a8a" stroke-width="0.9"/>
<circle cx="89.3" cy="555.2" r="3" fill="#6a10a4"/>
<circle cx="100.4" cy="555.2" r="2.2" fill="#5a18a0"/>
<circle cx="118.5" cy="555.2" r="5" fill="#f7e225"/>
<circle cx="129.2" cy="555.2" r="2.5" fill="#7a14a8"/>
<circle cx="147" cy="555.2" r="3.2" fill="#7a14a8"/>
<circle cx="157.9" cy="555.2" r="2.8" fill="#6a10a4"/>
<circle cx="175.9" cy="555.2" r="2.2" fill="#5a18a0"/>
<circle cx="186.7" cy="555.2" r="2.2" fill="#5a18a0"/>
<text x="75.3" y="572.2" text-anchor="end" font-style="italic" font-size="10" fill="#222">Hpgd</text>
<line x1="80.6" y1="568.7" x2="82.7" y2="568.7" stroke="#8a8a8a" stroke-width="0.9"/>
<circle cx="89.3" cy="568.7" r="2" fill="#5a18a0"/>
<circle cx="100.4" cy="568.7" r="2" fill="#5a18a0"/>
<circle cx="118.5" cy="568.7" r="4" fill="#f5dc28"/>
<circle cx="129.2" cy="568.7" r="2.8" fill="#8a18a8"/>
<circle cx="147" cy="568.7" r="1.8" fill="#5a18a0"/>
<circle cx="157.9" cy="568.7" r="2" fill="#5a18a0"/>
<circle cx="175.9" cy="568.7" r="1.8" fill="#5a18a0"/>
<circle cx="186.7" cy="568.7" r="1.8" fill="#5a18a0"/>
<line x1="82.3" y1="576.8" x2="107.7" y2="576.8" stroke="#8a8a8a" stroke-width="0.9"/>
<line x1="111.1" y1="576.8" x2="136" y2="576.8" stroke="#8a8a8a" stroke-width="0.9"/>
<line x1="140.3" y1="576.8" x2="164.8" y2="576.8" stroke="#8a8a8a" stroke-width="0.9"/>
<line x1="168.9" y1="576.8" x2="193.4" y2="576.8" stroke="#8a8a8a" stroke-width="0.9"/>
<line x1="89.3" y1="576.8" x2="89.3" y2="579" stroke="#8a8a8a" stroke-width="0.9"/>
<text x="89.3" y="591.8" text-anchor="middle" font-size="10.5" fill="#e6456f">F</text>
<line x1="100.4" y1="576.8" x2="100.4" y2="579" stroke="#8a8a8a" stroke-width="0.9"/>
<text x="100.4" y="591.8" text-anchor="middle" font-size="10.5" fill="#6a62b8">M</text>
<line x1="118.5" y1="576.8" x2="118.5" y2="579" stroke="#8a8a8a" stroke-width="0.9"/>
<text x="118.5" y="591.8" text-anchor="middle" font-size="10.5" fill="#e6456f">F</text>
<line x1="129.2" y1="576.8" x2="129.2" y2="579" stroke="#8a8a8a" stroke-width="0.9"/>
<text x="129.2" y="591.8" text-anchor="middle" font-size="10.5" fill="#6a62b8">M</text>
<line x1="147" y1="576.8" x2="147" y2="579" stroke="#8a8a8a" stroke-width="0.9"/>
<text x="147" y="591.8" text-anchor="middle" font-size="10.5" fill="#e6456f">F</text>
<line x1="157.9" y1="576.8" x2="157.9" y2="579" stroke="#8a8a8a" stroke-width="0.9"/>
<text x="157.9" y="591.8" text-anchor="middle" font-size="10.5" fill="#6a62b8">M</text>
<line x1="175.9" y1="576.8" x2="175.9" y2="579" stroke="#8a8a8a" stroke-width="0.9"/>
<text x="175.9" y="591.8" text-anchor="middle" font-size="10.5" fill="#e6456f">F</text>
<line x1="186.7" y1="576.8" x2="186.7" y2="579" stroke="#8a8a8a" stroke-width="0.9"/>
<text x="186.7" y="591.8" text-anchor="middle" font-size="10.5" fill="#6a62b8">M</text>
<text x="138" y="607" text-anchor="middle" font-size="11.5" fill="#1a1a1a">Sex</text>
<text text-anchor="middle" textLength="115" lengthAdjust="spacingAndGlyphs" transform="translate(29.7 480.5) rotate(-90)" font-size="11.5" fill="#1a1a1a">Representiative gene</text>
<text x="249.4" y="405.5" textLength="43" lengthAdjust="spacingAndGlyphs" font-size="12" fill="#1a1a1a">Percent</text>
<text x="249.4" y="419.4" textLength="60" lengthAdjust="spacingAndGlyphs" font-size="12" fill="#1a1a1a">expression</text>
<circle cx="254.4" cy="430" r="2.7" fill="#000"/>
<text x="265" y="433.7" font-size="10.5" fill="#1a1a1a">25</text>
<circle cx="254.4" cy="442.8" r="3.6" fill="#000"/>
<text x="265" y="446.5" font-size="10.5" fill="#1a1a1a">50</text>
<circle cx="254.4" cy="456.3" r="4.5" fill="#000"/>
<text x="265" y="460" font-size="10.5" fill="#1a1a1a">75</text>
<text x="249.4" y="485" textLength="38" lengthAdjust="spacingAndGlyphs" font-size="12" fill="#1a1a1a">Scaled</text>
<text x="249.4" y="499" textLength="44.5" lengthAdjust="spacingAndGlyphs" font-size="12" fill="#1a1a1a">average</text>
<text x="249.4" y="513.2" textLength="60" lengthAdjust="spacingAndGlyphs" font-size="12" fill="#1a1a1a">Expression</text>
<rect x="249" y="519.5" width="11.8" height="55.3" fill="url(#plasma)"/>
<line x1="249" y1="527" x2="251.2" y2="527" stroke="#fff" stroke-width="0.8"/>
<line x1="258.6" y1="527" x2="260.8" y2="527" stroke="#fff" stroke-width="0.8"/>
<text x="265.5" y="530.7" font-size="10.5" fill="#1a1a1a">2</text>
<line x1="249" y1="543" x2="251.2" y2="543" stroke="#fff" stroke-width="0.8"/>
<line x1="258.6" y1="543" x2="260.8" y2="543" stroke="#fff" stroke-width="0.8"/>
<text x="265.5" y="546.7" font-size="10.5" fill="#1a1a1a">1</text>
<line x1="249" y1="559" x2="251.2" y2="559" stroke="#fff" stroke-width="0.8"/>
<line x1="258.6" y1="559" x2="260.8" y2="559" stroke="#fff" stroke-width="0.8"/>
<text x="265.5" y="562.7" font-size="10.5" fill="#1a1a1a">0</text>
</g>
<g id="panel-e-plots">
<text x="143.7" y="780.8" text-anchor="middle" font-style="italic" font-size="11" fill="#222">Pigr</text>
<rect x="43" y="789" width="202" height="54.7" fill="#fff"/>
<rect x="50.5" y="789.5" width="24.6" height="53.7" fill="#fce8f0"/>
<rect x="50.5" y="785.4" width="23.1" height="2.4" fill="#e6456f"/>
<rect x="75.1" y="789.5" width="31.3" height="53.7" fill="#fdf8e3"/>
<rect x="75.7" y="785.4" width="29.5" height="2.4" fill="#f2c11e"/>
<rect x="106.4" y="789.5" width="44.5" height="53.7" fill="#f8f1e4"/>
<rect x="107" y="785.4" width="42.4" height="2.4" fill="#b98a2a"/>
<rect x="150.9" y="789.5" width="57.1" height="53.7" fill="#e4f6f2"/>
<rect x="151.5" y="785.4" width="56.5" height="2.4" fill="#19b889"/>
<path d="M51.2,841 L51.2,832.8 51.5,832.4 51.9,831.9 52.4,831.5 53,831.1 53.5,830.9 54.2,830.7 54.9,830.7 55.6,830.8 56.3,831.2 57.1,831.8 57.9,832.4 58.8,832.8 59.7,832.7 60.8,832.3 61.8,831.9 62.9,831.8 64,831.9 65.1,832.3 66.2,832.7 67.3,833.1 68.3,833.4 69.4,833.7 70.4,834.1 71.6,834.4 73,834.7 74.5,835.1 76,835.4 77.5,835.7 78.9,836 80.4,836.3 81.9,836.7 83.3,837 84.8,837.5 86.3,838.1 87.8,838.6 89.2,839 90.4,839.4 91.4,839.7 92.5,839.9 93.5,840 94.6,839.9 95.6,839.7 96.7,839.5 97.9,839.4 99.2,839.4 100.6,839.6 102.1,839.8 103.8,840 105.6,840.1 107.6,840.2 109.9,840.3 112.5,840.3 115.7,840.3 119.3,840.3 123.1,840.2 127.1,840.2 131.3,840.2 135.7,840.2 140.2,840.3 144.6,840.3 149,840.4 153.4,840.4 157.8,840.3 162.2,840.3 166.6,840.3 171.1,840.4 175.5,840.4 179.7,840.3 183.7,840.3 187.7,840.3 191.3,840.2 194.3,840 196.4,839.8 197.8,839.5 199,839.1 200.1,838.7 201.4,838.1 202.7,837.3 203.7,836.8 204.5,836.7 204.9,837.4 204.9,838.7 204.8,840.1 204.8,841 204.8,841 Z" fill="#f0707f" fill-opacity="0.88" stroke="#e8536a" stroke-width="0.8" stroke-linejoin="round"/>
<line x1="75.1" y1="789.5" x2="75.1" y2="843.2" stroke="#6e6e6e" stroke-width="0.8" stroke-dasharray="3 2.2"/>
<line x1="106.4" y1="789.5" x2="106.4" y2="843.2" stroke="#6e6e6e" stroke-width="0.8" stroke-dasharray="3 2.2"/>
<line x1="150.9" y1="789.5" x2="150.9" y2="843.2" stroke="#6e6e6e" stroke-width="0.8" stroke-dasharray="3 2.2"/>
<line x1="208.2" y1="789.5" x2="208.2" y2="843.2" stroke="#6e6e6e" stroke-width="0.8" stroke-dasharray="3 2.2"/>
<rect x="43" y="789" width="202" height="54.7" fill="none" stroke="#6a6a6a" stroke-width="0.9"/>
<line x1="40.4" y1="841" x2="43" y2="841" stroke="#555" stroke-width="0.8"/>
<text x="38.8" y="844.7" text-anchor="end" font-size="10.4" fill="#222">0</text>
<line x1="40.4" y1="824.5" x2="43" y2="824.5" stroke="#555" stroke-width="0.8"/>
<text x="38.8" y="828.2" text-anchor="end" font-size="10.4" fill="#222">0.5</text>
<line x1="40.4" y1="808" x2="43" y2="808" stroke="#555" stroke-width="0.8"/>
<text x="38.8" y="811.7" text-anchor="end" font-size="10.4" fill="#222">1.0</text>
<line x1="40.4" y1="791.5" x2="43" y2="791.5" stroke="#555" stroke-width="0.8"/>
<text x="38.8" y="795.2" text-anchor="end" font-size="10.4" fill="#222">1.5</text>
<rect x="43" y="852.5" width="202" height="53.2" fill="#fff"/>
<rect x="50.5" y="853" width="43.3" height="52.2" fill="#fce8f0"/>
<rect x="50.5" y="848.6" width="42.1" height="2.4" fill="#e6456f"/>
<rect x="93.8" y="853" width="16.5" height="52.2" fill="#fdf8e3"/>
<rect x="94.4" y="848.6" width="14.4" height="2.4" fill="#f2c11e"/>
<rect x="110.3" y="853" width="42.7" height="52.2" fill="#f8f1e4"/>
<rect x="110.9" y="848.6" width="40.9" height="2.4" fill="#b98a2a"/>
<rect x="153" y="853" width="82" height="52.2" fill="#e4f6f2"/>
<rect x="153.6" y="848.6" width="81.4" height="2.4" fill="#19b889"/>
<path d="M51.2,903.3 L51.2,884.8 51.8,885.1 52.7,885.6 53.7,886.2 54.7,886.8 55.8,887.6 57,888.5 58.3,889.4 59.4,890.1 60.4,890.6 61.3,891 62.1,891.3 62.9,891.4 63.5,891.2 64,890.7 64.5,890.2 65.2,890.1 66.1,890.6 67.2,891.6 68.2,892.5 69.3,892.7 70.3,892.2 71.3,891.2 72.4,889.9 73.4,888.4 74.4,886.8 75.5,884.8 76.5,882.9 77.5,881.5 78.3,880.6 79,880 79.7,879.8 80.4,880.2 81.2,881.6 82.2,883.9 83.1,886.1 83.9,887.5 84.7,887.8 85.4,887.6 86.1,886.7 86.8,885.1 87.6,882.5 88.4,879 89.2,875.3 90,871.9 90.8,868.9 91.7,865.9 92.5,863.4 93.2,862 94,861.9 94.7,862.7 95.4,864.3 96.2,866.3 96.9,869.1 97.7,872.7 98.5,876.6 99.4,880.2 100.3,883.7 101.3,887.3 102.2,890.6 103.2,893.4 104.1,895.6 104.9,897.4 105.7,898.8 106.7,900 107.6,900.9 108.6,901.4 109.7,901.7 111.1,902 112.6,902.2 114.3,902.3 116.2,902.3 118.4,902.3 121,902.3 123.9,902.1 127,902 130,902 133,902 136.1,902.1 139,902.3 141.7,902.3 144.2,902.3 146.5,902.2 148.6,902.1 150.5,902 152.2,901.7 153.7,901.3 155,900.9 156.3,900.7 157.6,900.6 158.7,900.7 159.7,900.8 160.7,901 161.3,901.3 161.6,901.6 162.2,902 163.6,902.3 166,902.5 169.1,902.6 172.7,902.6 176.8,902.6 181.4,902.6 186.5,902.6 191.9,902.5 197.2,902.5 202.4,902.5 207.7,902.5 212.8,902.6 217.6,902.6 222.3,902.6 226.9,902.6 230.9,902.6 233.7,902.6 234.9,902.8 234.8,903 234.3,903.2 234,903.3 234,903.3 Z" fill="#8c80c6" fill-opacity="0.88" stroke="#6a5fb5" stroke-width="0.8" stroke-linejoin="round"/>
<line x1="93.8" y1="853" x2="93.8" y2="905.2" stroke="#6e6e6e" stroke-width="0.8" stroke-dasharray="3 2.2"/>
<line x1="110.3" y1="853" x2="110.3" y2="905.2" stroke="#6e6e6e" stroke-width="0.8" stroke-dasharray="3 2.2"/>
<line x1="153" y1="853" x2="153" y2="905.2" stroke="#6e6e6e" stroke-width="0.8" stroke-dasharray="3 2.2"/>
<rect x="43" y="852.5" width="202" height="53.2" fill="none" stroke="#6a6a6a" stroke-width="0.9"/>
<line x1="40.4" y1="903.3" x2="43" y2="903.3" stroke="#555" stroke-width="0.8"/>
<text x="38.8" y="907" text-anchor="end" font-size="10.4" fill="#222">0</text>
<line x1="40.4" y1="886.8" x2="43" y2="886.8" stroke="#555" stroke-width="0.8"/>
<text x="38.8" y="890.5" text-anchor="end" font-size="10.4" fill="#222">0.5</text>
<line x1="40.4" y1="870.3" x2="43" y2="870.3" stroke="#555" stroke-width="0.8"/>
<text x="38.8" y="874" text-anchor="end" font-size="10.4" fill="#222">1.0</text>
<line x1="40.4" y1="853.8" x2="43" y2="853.8" stroke="#555" stroke-width="0.8"/>
<text x="38.8" y="857.5" text-anchor="end" font-size="10.4" fill="#222">1.5</text>
<text x="59.8" y="804" text-anchor="middle" font-size="7.8" fill="#e6456f">Cortex</text>
<text x="90.3" y="811" text-anchor="middle" font-size="7.8" fill="#f0bf1c">OSOM</text>
<text x="126.5" y="812" text-anchor="middle" font-size="7.8" fill="#b98a2a">ISOM</text>
<text x="178.7" y="812" text-anchor="middle" font-size="7.8" fill="#2fbf8f">IM</text>
<text x="240.8" y="806" text-anchor="end" textLength="40" lengthAdjust="spacingAndGlyphs" font-size="12" fill="#e6456f">Female</text>
<text x="66.5" y="874" text-anchor="middle" font-size="7.8" fill="#e6456f">Cortex</text>
<text x="101.5" y="862" text-anchor="middle" font-size="7.8" fill="#f0bf1c">OSOM</text>
<text x="131" y="874.5" text-anchor="middle" font-size="7.8" fill="#b98a2a">ISOM</text>
<text x="194.5" y="874" text-anchor="middle" font-size="7.8" fill="#2fbf8f">IM</text>
<text x="240.8" y="867" text-anchor="end" textLength="26.5" lengthAdjust="spacingAndGlyphs" font-size="12" fill="#6a62b8">Male</text>
<line x1="51.2" y1="905.7" x2="51.2" y2="908.3" stroke="#555" stroke-width="0.8"/>
<text x="51.2" y="920" text-anchor="middle" font-size="10" fill="#222">0</text>
<line x1="109.6" y1="905.7" x2="109.6" y2="908.3" stroke="#555" stroke-width="0.8"/>
<text x="109.6" y="920" text-anchor="middle" font-size="10" fill="#222">2,000</text>
<line x1="168" y1="905.7" x2="168" y2="908.3" stroke="#555" stroke-width="0.8"/>
<text x="168" y="920" text-anchor="middle" font-size="10" fill="#222">4,000</text>
<line x1="226.4" y1="905.7" x2="226.4" y2="908.3" stroke="#555" stroke-width="0.8"/>
<text x="226.4" y="920" text-anchor="middle" font-size="10" fill="#222">6,000</text>
<text x="139.2" y="936.6" text-anchor="middle" font-size="11" fill="#222">(µm)</text>
<text text-anchor="middle" textLength="103" lengthAdjust="spacingAndGlyphs" transform="translate(10.4 847.7) rotate(-90)" font-size="11.5" fill="#1a1a1a">Average expression</text>
<line x1="94.1" y1="908.5" x2="94.1" y2="920" stroke="#8fd6da" stroke-width="1"/>
<text x="101" y="930" text-anchor="end" textLength="82" lengthAdjust="spacingAndGlyphs" font-size="10.3" fill="#8fd6da">Corticomedullary</text>
<text x="101" y="941.3" text-anchor="end" textLength="37.5" lengthAdjust="spacingAndGlyphs" font-size="10.3" fill="#8fd6da">junction</text>
</g>
<g id="panel-g-plots">
<text x="584.8" y="781.3" text-anchor="middle" font-style="italic" font-size="11" fill="#222">Akr1c21</text>
<rect x="485.6" y="786.6" width="202.4" height="55" fill="#fff"/>
<rect x="494" y="787.1" width="23.2" height="54" fill="#fce8f0"/>
<rect x="494" y="782.8" width="23.2" height="2.4" fill="#e6456f"/>
<rect x="517.2" y="787.1" width="31.5" height="54" fill="#fdf8e3"/>
<rect x="517.8" y="782.8" width="28.8" height="2.4" fill="#f2c11e"/>
<rect x="548.7" y="787.1" width="43.9" height="54" fill="#f8f1e4"/>
<rect x="549.3" y="782.8" width="42.1" height="2.4" fill="#b98a2a"/>
<rect x="592.6" y="787.1" width="57.7" height="54" fill="#e4f6f2"/>
<rect x="593.2" y="782.8" width="57.1" height="2.4" fill="#19b889"/>
<path d="M494,838.6 L494,796.4 494.3,797.8 494.8,799.7 495.4,802 496,804.4 496.8,807.2 497.6,810.5 498.5,813.6 499.2,815.8 499.8,816.9 500.3,817.2 500.8,817.1 501.3,816.9 501.8,816.6 502.3,815.9 502.8,815.2 503.3,814.7 503.9,814.4 504.4,814.4 505,814.2 505.6,813.5 506.2,812.1 506.8,810.3 507.4,808.3 508,806.7 508.5,805.3 509,804.1 509.5,803.2 510,802.8 510.5,803.1 511,804 511.5,805.2 512,806.7 512.7,808.5 513.5,810.6 514.2,812.8 514.9,814.7 515.6,816.1 516.1,817.4 516.7,818.4 517.3,819.2 517.8,819.7 518.4,819.8 519,819.9 519.6,820.4 520.3,821.2 521,822.3 521.7,823.5 522.5,824.9 523.2,826.5 523.9,828.3 524.6,830.2 525.4,831.8 526.2,833.1 527,834.4 527.9,835.5 528.9,836.3 529.8,836.9 530.8,837.3 531.9,837.5 533.2,837.7 534.6,837.8 536.1,837.9 537.9,837.9 540.5,837.9 544,838 548.2,838 552.9,838 558,838 563.2,838.1 568.9,838.1 574.9,838.1 581.2,838.1 588.1,838.1 595.4,838.1 602.9,838.1 610.3,838 618.1,838 626.2,838 633.6,838 639.4,837.9 642.9,837.8 644.8,837.6 645.8,837.5 646.6,837.5 647.2,837.7 647.2,838 647,838.4 646.9,838.6 646.9,838.6 Z" fill="#f0707f" fill-opacity="0.88" stroke="#e8536a" stroke-width="0.8" stroke-linejoin="round"/>
<line x1="517.2" y1="787.1" x2="517.2" y2="841.1" stroke="#6e6e6e" stroke-width="0.8" stroke-dasharray="3 2.2"/>
<line x1="548.7" y1="787.1" x2="548.7" y2="841.1" stroke="#6e6e6e" stroke-width="0.8" stroke-dasharray="3 2.2"/>
<line x1="592.6" y1="787.1" x2="592.6" y2="841.1" stroke="#6e6e6e" stroke-width="0.8" stroke-dasharray="3 2.2"/>
<line x1="650.2" y1="787.1" x2="650.2" y2="841.1" stroke="#6e6e6e" stroke-width="0.8" stroke-dasharray="3 2.2"/>
<rect x="485.6" y="786.6" width="202.4" height="55" fill="none" stroke="#6a6a6a" stroke-width="0.9"/>
<line x1="483" y1="838.6" x2="485.6" y2="838.6" stroke="#555" stroke-width="0.8"/>
<text x="481.4" y="842.3" text-anchor="end" font-size="10.4" fill="#222">0</text>
<line x1="483" y1="827.2" x2="485.6" y2="827.2" stroke="#555" stroke-width="0.8"/>
<text x="481.4" y="830.9" text-anchor="end" font-size="10.4" fill="#222">0.5</text>
<line x1="483" y1="815.8" x2="485.6" y2="815.8" stroke="#555" stroke-width="0.8"/>
<text x="481.4" y="819.5" text-anchor="end" font-size="10.4" fill="#222">1.0</text>
<line x1="483" y1="804.4" x2="485.6" y2="804.4" stroke="#555" stroke-width="0.8"/>
<text x="481.4" y="808.1" text-anchor="end" font-size="10.4" fill="#222">1.5</text>
<line x1="483" y1="793" x2="485.6" y2="793" stroke="#555" stroke-width="0.8"/>
<text x="481.4" y="796.7" text-anchor="end" font-size="10.4" fill="#222">2.0</text>
<rect x="485.6" y="851.6" width="202.4" height="53.8" fill="#fff"/>
<rect x="494" y="852.1" width="42.4" height="52.8" fill="#fce8f0"/>
<rect x="494" y="847.2" width="41.2" height="2.4" fill="#e6456f"/>
<rect x="536.4" y="852.1" width="16.5" height="52.8" fill="#fdf8e3"/>
<rect x="537" y="847.2" width="14.4" height="2.4" fill="#f2c11e"/>
<rect x="552.9" y="852.1" width="42.7" height="52.8" fill="#f8f1e4"/>
<rect x="553.5" y="847.2" width="40.9" height="2.4" fill="#b98a2a"/>
<rect x="595.6" y="852.1" width="81.8" height="52.8" fill="#e4f6f2"/>
<rect x="596.2" y="847.2" width="81.2" height="2.4" fill="#19b889"/>
<path d="M494,903 L494,868.4 494.6,868.1 495.5,867.7 496.5,867 497.5,866 498.5,864.3 499.5,862.1 500.6,860 501.6,858.6 502.5,858.3 503.3,858.7 504.2,859.4 505,860.3 505.9,861.2 506.7,862.5 507.6,863.7 508.5,864.9 509.6,865.8 510.7,866.7 511.8,867.5 512.9,868.4 514,869.3 515.1,870.3 516.2,871.2 517.3,871.6 518.3,871.3 519.4,870.5 520.5,869.7 521.6,869.3 522.7,869.5 523.9,870.2 525,870.8 526,871.1 526.8,871.1 527.5,871 528.1,870.5 528.9,869.5 529.8,867.6 530.8,864.9 531.8,862.2 532.7,860.3 533.4,859.2 534.1,858.7 534.8,858.6 535.6,858.6 536.4,859.1 537.3,860 538.2,860.9 539.1,861.4 540,861.1 540.9,860.4 541.9,859.8 542.8,859.8 543.7,860.7 544.6,862.1 545.5,863.9 546.3,866 547.2,868.6 548.1,871.5 548.9,874.6 549.8,877.6 550.7,880.6 551.7,883.6 552.6,886.5 553.6,889.1 554.5,891.5 555.4,893.7 556.3,895.7 557.4,897.2 558.5,898.3 559.8,899 561.1,899.5 562.3,899.8 563.5,899.8 564.8,899.5 566,899.2 567.3,899.1 568.5,899.3 569.6,899.8 570.9,900.3 572.5,900.7 574.4,900.9 576.6,901.1 578.9,901.3 581.2,901.4 583.4,901.5 585.6,901.6 587.8,901.6 589.9,901.6 592,901.5 594.1,901.4 596.3,901.2 598.7,901.2 601.2,901.2 603.9,901.3 606.9,901.5 610.3,901.6 614.2,901.7 618.6,901.8 623.2,901.8 627.7,901.8 632.1,901.9 636.4,901.9 640.8,901.9 645.2,901.8 649.6,901.9 654.2,901.9 658.6,901.9 662.6,901.8 666.5,901.8 670.2,901.6 673.4,901.6 675.7,901.6 676.7,901.9 676.7,902.3 676.2,902.7 676,903 676,903 Z" fill="#8c80c6" fill-opacity="0.88" stroke="#6a5fb5" stroke-width="0.8" stroke-linejoin="round"/>
<line x1="536.4" y1="852.1" x2="536.4" y2="904.9" stroke="#6e6e6e" stroke-width="0.8" stroke-dasharray="3 2.2"/>
<line x1="552.9" y1="852.1" x2="552.9" y2="904.9" stroke="#6e6e6e" stroke-width="0.8" stroke-dasharray="3 2.2"/>
<line x1="595.6" y1="852.1" x2="595.6" y2="904.9" stroke="#6e6e6e" stroke-width="0.8" stroke-dasharray="3 2.2"/>
<rect x="485.6" y="851.6" width="202.4" height="53.8" fill="none" stroke="#6a6a6a" stroke-width="0.9"/>
<line x1="483" y1="903" x2="485.6" y2="903" stroke="#555" stroke-width="0.8"/>
<text x="481.4" y="906.7" text-anchor="end" font-size="10.4" fill="#222">0</text>
<line x1="483" y1="891.5" x2="485.6" y2="891.5" stroke="#555" stroke-width="0.8"/>
<text x="481.4" y="895.2" text-anchor="end" font-size="10.4" fill="#222">0.5</text>
<line x1="483" y1="879.9" x2="485.6" y2="879.9" stroke="#555" stroke-width="0.8"/>
<text x="481.4" y="883.6" text-anchor="end" font-size="10.4" fill="#222">1.0</text>
<line x1="483" y1="868.4" x2="485.6" y2="868.4" stroke="#555" stroke-width="0.8"/>
<text x="481.4" y="872.1" text-anchor="end" font-size="10.4" fill="#222">1.5</text>
<line x1="483" y1="856.8" x2="485.6" y2="856.8" stroke="#555" stroke-width="0.8"/>
<text x="481.4" y="860.5" text-anchor="end" font-size="10.4" fill="#222">2.0</text>
<text x="504.5" y="796" text-anchor="middle" font-size="7.8" fill="#e6456f">Cortex</text>
<text x="532.2" y="803" text-anchor="middle" font-size="7.8" fill="#f0bf1c">OSOM</text>
<text x="568.8" y="814" text-anchor="middle" font-size="7.8" fill="#b98a2a">ISOM</text>
<text x="620.5" y="814" text-anchor="middle" font-size="7.8" fill="#2fbf8f">IM</text>
<text x="683.6" y="801" text-anchor="end" textLength="40" lengthAdjust="spacingAndGlyphs" font-size="12" fill="#e6456f">Female</text>
<text x="513" y="872" text-anchor="middle" font-size="7.8" fill="#e6456f">Cortex</text>
<text x="544.3" y="859.5" text-anchor="middle" font-size="7.8" fill="#f0bf1c">OSOM</text>
<text x="572.3" y="870.5" text-anchor="middle" font-size="7.8" fill="#b98a2a">ISOM</text>
<text x="637" y="871.5" text-anchor="middle" font-size="7.8" fill="#2fbf8f">IM</text>
<text x="683.6" y="865" text-anchor="end" textLength="26.5" lengthAdjust="spacingAndGlyphs" font-size="12" fill="#6a62b8">Male</text>
<line x1="494" y1="905.4" x2="494" y2="908" stroke="#555" stroke-width="0.8"/>
<text x="494" y="919.7" text-anchor="middle" font-size="10" fill="#222">0</text>
<line x1="552.1" y1="905.4" x2="552.1" y2="908" stroke="#555" stroke-width="0.8"/>
<text x="552.1" y="919.7" text-anchor="middle" font-size="10" fill="#222">2,000</text>
<line x1="610.3" y1="905.4" x2="610.3" y2="908" stroke="#555" stroke-width="0.8"/>
<text x="610.3" y="919.7" text-anchor="middle" font-size="10" fill="#222">4,000</text>
<line x1="668.4" y1="905.4" x2="668.4" y2="908" stroke="#555" stroke-width="0.8"/>
<text x="668.4" y="919.7" text-anchor="middle" font-size="10" fill="#222">6,000</text>
<text x="586" y="936.6" text-anchor="middle" font-size="11" fill="#222">(µm)</text>
<text text-anchor="middle" textLength="103" lengthAdjust="spacingAndGlyphs" transform="translate(452.6 847.7) rotate(-90)" font-size="11.5" fill="#1a1a1a">Average expression</text>
<line x1="535.6" y1="908.5" x2="535.6" y2="920" stroke="#8fd6da" stroke-width="1"/>
<text x="544" y="930" text-anchor="end" textLength="82" lengthAdjust="spacingAndGlyphs" font-size="10.3" fill="#8fd6da">Corticomedullary</text>
<text x="544" y="941.3" text-anchor="end" textLength="37.5" lengthAdjust="spacingAndGlyphs" font-size="10.3" fill="#8fd6da">junction</text>
</g>
<g id="panel-k">
<line x1="26.4" y1="963.6" x2="859" y2="963.6" stroke="#222" stroke-width="0.9"/>
<text x="391.4" y="957.8" textLength="102.5" lengthAdjust="spacingAndGlyphs" font-size="11" fill="#1a1a1a">JAK-STAT pathway</text>
<text x="355.4" y="983" font-weight="bold" font-size="17" fill="#000">k</text>
<text x="461" y="982.6" text-anchor="middle" font-style="italic" font-size="11" fill="#222">Prlr</text>
<rect x="404.4" y="1001.3" width="113.2" height="63.9" fill="#fff"/>
<rect x="409.4" y="1001.8" width="12.5" height="62.9" fill="#fce8f0"/>
<rect x="409.4" y="996" width="12.5" height="2.4" fill="#e6456f"/>
<rect x="421.9" y="1001.8" width="17.7" height="62.9" fill="#fdf8e3"/>
<rect x="422.5" y="996" width="16.9" height="2.4" fill="#f2c11e"/>
<rect x="439.6" y="1001.8" width="24.7" height="62.9" fill="#f8f1e4"/>
<rect x="440.2" y="996" width="23.9" height="2.4" fill="#b98a2a"/>
<rect x="464.3" y="1001.8" width="32.8" height="62.9" fill="#e4f6f2"/>
<rect x="464.9" y="996" width="32.2" height="2.4" fill="#19b889"/>
<path d="M409.4,1062.1 L409.4,1047.8 409.7,1049 410.2,1050.8 410.8,1052.5 411.4,1053.7 411.9,1054.1 412.4,1054 412.9,1053.7 413.5,1053 414.1,1052 414.8,1050.6 415.4,1049.2 415.9,1047.8 416.4,1046.6 416.8,1045.3 417.2,1044.3 417.6,1044 418,1044.7 418.5,1046.3 419,1047.8 419.5,1048.5 420.1,1048.1 420.7,1047.2 421.3,1045.8 421.8,1044 422.4,1041.7 423,1038.9 423.5,1035.8 424.1,1032.9 424.7,1030.1 425.4,1027.3 426,1024.5 426.6,1021.9 427.2,1019.6 427.8,1017.3 428.5,1015.3 429,1013.5 429.6,1011.8 430.1,1010.1 430.7,1008.9 431.2,1008.3 431.7,1008.6 432.2,1009.7 432.7,1011 433.1,1012.2 433.6,1013.3 433.9,1014.4 434.3,1015.5 434.8,1016.7 435.3,1017.8 435.8,1018.7 436.4,1020 436.9,1021.9 437.3,1024.8 437.8,1028.2 438.1,1032.1 438.5,1036.2 438.9,1040.7 439.4,1045.7 439.8,1050.5 440.2,1054.3 440.5,1056.9 440.8,1058.7 441.2,1059.9 441.8,1060.8 442.7,1061.4 443.8,1061.5 445.2,1061.4 447.1,1061.3 449.4,1061.4 452.1,1061.4 455.2,1061.3 458.5,1061.3 462.3,1061.3 466.5,1061.3 470.8,1061.3 474.9,1061.3 478.9,1061.3 483.1,1061.3 486.8,1061.3 489.6,1061.1 491.3,1060.8 492.1,1060.4 492.5,1060.1 492.9,1059.8 493.4,1059.8 493.8,1059.8 494.2,1060 494.5,1060.2 494.8,1060.4 495.1,1060.8 495.3,1061.2 495.5,1061.5 495.6,1061.7 495.6,1061.9 495.7,1062 495.7,1062.1 495.7,1062.1 Z" fill="#f0707f" fill-opacity="0.88" stroke="#e8536a" stroke-width="0.8" stroke-linejoin="round"/>
<line x1="421.9" y1="1001.8" x2="421.9" y2="1064.7" stroke="#6e6e6e" stroke-width="0.8" stroke-dasharray="3 2.2"/>
<line x1="439.6" y1="1001.8" x2="439.6" y2="1064.7" stroke="#6e6e6e" stroke-width="0.8" stroke-dasharray="3 2.2"/>
<line x1="464.3" y1="1001.8" x2="464.3" y2="1064.7" stroke="#6e6e6e" stroke-width="0.8" stroke-dasharray="3 2.2"/>
<line x1="497.4" y1="1001.8" x2="497.4" y2="1064.7" stroke="#6e6e6e" stroke-width="0.8" stroke-dasharray="3 2.2"/>
<rect x="404.4" y="1001.3" width="113.2" height="63.9" fill="none" stroke="#6a6a6a" stroke-width="0.9"/>
<line x1="401.8" y1="1062.1" x2="404.4" y2="1062.1" stroke="#555" stroke-width="0.8"/>
<text x="400.2" y="1065.6" text-anchor="end" font-size="9.6" fill="#222">0</text>
<line x1="401.8" y1="1045.9" x2="404.4" y2="1045.9" stroke="#555" stroke-width="0.8"/>
<text x="400.2" y="1049.4" text-anchor="end" font-size="9.6" fill="#222">0.25</text>
<line x1="401.8" y1="1029.7" x2="404.4" y2="1029.7" stroke="#555" stroke-width="0.8"/>
<text x="400.2" y="1033.2" text-anchor="end" font-size="9.6" fill="#222">0.50</text>
<line x1="401.8" y1="1013.5" x2="404.4" y2="1013.5" stroke="#555" stroke-width="0.8"/>
<text x="400.2" y="1017" text-anchor="end" font-size="9.6" fill="#222">0.75</text>
<rect x="404.4" y="1082.9" width="113.2" height="63.8" fill="#fff"/>
<rect x="409.4" y="1083.4" width="23" height="62.8" fill="#fce8f0"/>
<rect x="409.4" y="1078.2" width="22.8" height="2.4" fill="#e6456f"/>
<rect x="432.4" y="1083.4" width="9.7" height="62.8" fill="#fdf8e3"/>
<rect x="433" y="1078.2" width="8.9" height="2.4" fill="#f2c11e"/>
<rect x="442.1" y="1083.4" width="24.2" height="62.8" fill="#f8f1e4"/>
<rect x="442.7" y="1078.2" width="23.3" height="2.4" fill="#b98a2a"/>
<rect x="466.3" y="1083.4" width="46.3" height="62.8" fill="#e4f6f2"/>
<rect x="466.9" y="1078.2" width="45.7" height="2.4" fill="#19b889"/>
<path d="M409.4,1144.5 L409.4,1144 410.3,1143.8 411.5,1143.6 413,1143.3 414.3,1143.2 415.5,1143.3 416.8,1143.4 418,1143.6 419.2,1143.7 420.5,1143.7 421.7,1143.7 423,1143.6 424.1,1143.5 425.3,1143.5 426.3,1143.4 427.3,1143.2 428.2,1142.9 429,1142.4 429.6,1141.9 430.1,1141.1 430.7,1140 431.2,1138.2 431.7,1135.9 432.2,1133.5 432.6,1131.6 433.1,1130.1 433.6,1128.8 434.1,1127.8 434.6,1127.4 435.1,1127.5 435.5,1128.1 435.9,1129.1 436.4,1130.3 436.9,1132 437.5,1134 438,1136.2 438.5,1138 439,1139.5 439.4,1140.9 439.9,1142 440.5,1142.9 441,1143.4 441.3,1143.6 442.1,1143.7 443.8,1143.7 446.6,1143.8 450.3,1143.8 454.4,1143.9 458.5,1143.9 462.5,1143.8 466.6,1143.8 470.7,1143.7 474.9,1143.7 478.9,1143.7 482.8,1143.8 486.9,1143.8 491.2,1143.9 496.6,1143.8 502.5,1143.7 507.9,1143.7 511.7,1143.7 513.2,1143.9 513.1,1144.1 512.3,1144.3 511.9,1144.5 511.9,1144.5 Z" fill="#8c80c6" fill-opacity="0.88" stroke="#6a5fb5" stroke-width="0.8" stroke-linejoin="round"/>
<line x1="432.4" y1="1083.4" x2="432.4" y2="1146.2" stroke="#6e6e6e" stroke-width="0.8" stroke-dasharray="3 2.2"/>
<line x1="442.1" y1="1083.4" x2="442.1" y2="1146.2" stroke="#6e6e6e" stroke-width="0.8" stroke-dasharray="3 2.2"/>
<line x1="466.3" y1="1083.4" x2="466.3" y2="1146.2" stroke="#6e6e6e" stroke-width="0.8" stroke-dasharray="3 2.2"/>
<rect x="404.4" y="1082.9" width="113.2" height="63.8" fill="none" stroke="#6a6a6a" stroke-width="0.9"/>
<line x1="401.8" y1="1144.5" x2="404.4" y2="1144.5" stroke="#555" stroke-width="0.8"/>
<text x="400.2" y="1148" text-anchor="end" font-size="9.6" fill="#222">0</text>
<line x1="401.8" y1="1128.3" x2="404.4" y2="1128.3" stroke="#555" stroke-width="0.8"/>
<text x="400.2" y="1131.8" text-anchor="end" font-size="9.6" fill="#222">0.25</text>
<line x1="401.8" y1="1112.2" x2="404.4" y2="1112.2" stroke="#555" stroke-width="0.8"/>
<text x="400.2" y="1115.7" text-anchor="end" font-size="9.6" fill="#222">0.50</text>
<line x1="401.8" y1="1096" x2="404.4" y2="1096" stroke="#555" stroke-width="0.8"/>
<text x="400.2" y="1099.5" text-anchor="end" font-size="9.6" fill="#222">0.75</text>
<text x="403.3" y="993.2" text-anchor="middle" font-size="7.6" fill="#e6456f">Cortex</text>
<text x="432.2" y="993.2" text-anchor="middle" font-size="7.6" fill="#f0bf1c">OSOM</text>
<text x="458" y="993.2" text-anchor="middle" font-size="7.6" fill="#b98a2a">ISOM</text>
<text x="481.3" y="993.2" text-anchor="middle" font-size="7.6" fill="#2fbf8f">IM</text>
<text x="403.3" y="1075.3" text-anchor="middle" font-size="7.6" fill="#e6456f">Cortex</text>
<text x="432.2" y="1075.3" text-anchor="middle" font-size="7.6" fill="#f0bf1c">OSOM</text>
<text x="458" y="1075.3" text-anchor="middle" font-size="7.6" fill="#b98a2a">ISOM</text>
<text x="490.4" y="1075.3" text-anchor="middle" font-size="7.6" fill="#2fbf8f">IM</text>
<line x1="409.4" y1="1146.7" x2="409.4" y2="1149.3" stroke="#555" stroke-width="0.8"/>
<text x="409.4" y="1161.3" text-anchor="middle" font-size="9.6" fill="#222">0</text>
<line x1="442.1" y1="1146.7" x2="442.1" y2="1149.3" stroke="#555" stroke-width="0.8"/>
<text x="442.1" y="1161.3" text-anchor="middle" font-size="9.6" fill="#222">2,000</text>
<line x1="474.9" y1="1146.7" x2="474.9" y2="1149.3" stroke="#555" stroke-width="0.8"/>
<text x="474.9" y="1161.3" text-anchor="middle" font-size="9.6" fill="#222">4,000</text>
<line x1="507.6" y1="1146.7" x2="507.6" y2="1149.3" stroke="#555" stroke-width="0.8"/>
<text x="507.6" y="1161.3" text-anchor="middle" font-size="9.6" fill="#222">6,000</text>
<text x="461" y="1178" text-anchor="middle" font-size="10.6" fill="#222">(µm)</text>
<text text-anchor="middle" textLength="97" lengthAdjust="spacingAndGlyphs" transform="translate(365.6 1073.2) rotate(-90)" font-size="11" fill="#1a1a1a">Average expression</text>
<text x="629.8" y="982.6" text-anchor="middle" font-style="italic" font-size="11" fill="#222">Jak2</text>
<rect x="572.3" y="1001.3" width="115.1" height="63.9" fill="#fff"/>
<rect x="577.3" y="1001.8" width="12.7" height="62.9" fill="#fce8f0"/>
<rect x="577.3" y="996" width="12.7" height="2.4" fill="#e6456f"/>
<rect x="590" y="1001.8" width="17.7" height="62.9" fill="#fdf8e3"/>
<rect x="590.6" y="996" width="16.9" height="2.4" fill="#f2c11e"/>
<rect x="607.7" y="1001.8" width="25.6" height="62.9" fill="#f8f1e4"/>
<rect x="608.3" y="996" width="24.7" height="2.4" fill="#b98a2a"/>
<rect x="633.3" y="1001.8" width="32.5" height="62.9" fill="#e4f6f2"/>
<rect x="633.9" y="996" width="31.9" height="2.4" fill="#19b889"/>
<path d="M577.3,1062.9 L577.3,1050.6 577.5,1050.9 577.7,1051.3 578.1,1051.6 578.6,1051.7 579.4,1051.5 580.3,1051.1 581.3,1050.6 582.3,1050.1 583.3,1049.5 584.4,1049 585.5,1048.3 586.5,1047.3 587.3,1045.9 588.2,1044.3 589,1042.5 589.8,1040.6 590.6,1038.4 591.5,1036 592.3,1033.7 593.1,1031.6 594,1029.9 594.8,1028.3 595.7,1027 596.4,1026 597.1,1025.4 597.7,1025.2 598.3,1025.2 598.9,1025.5 599.7,1026.1 600.6,1027 601.4,1028.1 602.3,1029.4 603.1,1030.8 603.9,1032.5 604.8,1034.3 605.6,1036.1 606.5,1038.1 607.3,1040.2 608.2,1042.2 608.9,1043.9 609.6,1045.1 610.2,1046 610.8,1046.7 611.4,1047.3 612.1,1047.8 612.7,1048.2 613.3,1048.4 613.9,1048.4 614.6,1047.9 615.2,1046.9 615.8,1046.1 616.4,1045.6 617,1045.7 617.6,1046.2 618.2,1046.8 618.9,1047.3 619.7,1047.5 620.5,1047.7 621.4,1047.8 622.3,1047.8 623.1,1047.6 623.9,1047.3 624.8,1046.9 625.6,1046.7 626.4,1046.8 627.2,1047.1 628.1,1047.4 628.9,1047.3 629.7,1046.7 630.6,1045.7 631.4,1044.7 632.2,1043.9 633.1,1043.4 633.9,1043 634.7,1042.6 635.6,1042.2 636.4,1041.8 637.2,1041.3 638.1,1040.8 638.9,1040.6 639.7,1040.6 640.6,1040.9 641.4,1041.2 642.2,1041.1 643.1,1040.6 643.9,1039.7 644.7,1038.8 645.6,1038.3 646.4,1038.4 647.2,1038.9 648.1,1039.3 648.9,1039.4 649.7,1038.9 650.6,1038 651.4,1037.2 652.2,1036.7 653.1,1036.7 653.9,1037.2 654.7,1037.7 655.6,1037.8 656.4,1037.3 657.2,1036.5 658.1,1035.6 658.9,1035 659.7,1034.6 660.6,1034.3 661.4,1034.1 662.2,1033.9 663,1032.8 663.7,1031.3 664.3,1030.8 664.7,1032.7 664.9,1038.8 665,1047.8 664.9,1056.7 664.9,1062.9 664.9,1062.9 Z" fill="#f0707f" fill-opacity="0.88" stroke="#e8536a" stroke-width="0.8" stroke-linejoin="round"/>
<line x1="590" y1="1001.8" x2="590" y2="1064.7" stroke="#6e6e6e" stroke-width="0.8" stroke-dasharray="3 2.2"/>
<line x1="607.7" y1="1001.8" x2="607.7" y2="1064.7" stroke="#6e6e6e" stroke-width="0.8" stroke-dasharray="3 2.2"/>
<line x1="633.3" y1="1001.8" x2="633.3" y2="1064.7" stroke="#6e6e6e" stroke-width="0.8" stroke-dasharray="3 2.2"/>
<line x1="666.4" y1="1001.8" x2="666.4" y2="1064.7" stroke="#6e6e6e" stroke-width="0.8" stroke-dasharray="3 2.2"/>
<rect x="572.3" y="1001.3" width="115.1" height="63.9" fill="none" stroke="#6a6a6a" stroke-width="0.9"/>
<line x1="569.7" y1="1062.9" x2="572.3" y2="1062.9" stroke="#555" stroke-width="0.8"/>
<text x="568.1" y="1066.4" text-anchor="end" font-size="9.6" fill="#222">0</text>
<line x1="569.7" y1="1040.6" x2="572.3" y2="1040.6" stroke="#555" stroke-width="0.8"/>
<text x="568.1" y="1044" text-anchor="end" font-size="9.6" fill="#222">0.2</text>
<line x1="569.7" y1="1018.2" x2="572.3" y2="1018.2" stroke="#555" stroke-width="0.8"/>
<text x="568.1" y="1021.7" text-anchor="end" font-size="9.6" fill="#222">0.4</text>
<rect x="572.3" y="1082.9" width="115.1" height="63.8" fill="#fff"/>
<rect x="577.3" y="1083.4" width="23.5" height="62.8" fill="#fce8f0"/>
<rect x="577.3" y="1078.2" width="23.3" height="2.4" fill="#e6456f"/>
<rect x="600.8" y="1083.4" width="9.6" height="62.8" fill="#fdf8e3"/>
<rect x="601.4" y="1078.2" width="8.6" height="2.4" fill="#f2c11e"/>
<rect x="610.4" y="1083.4" width="24.6" height="62.8" fill="#f8f1e4"/>
<rect x="611" y="1078.2" width="23.6" height="2.4" fill="#b98a2a"/>
<rect x="635" y="1083.4" width="46.1" height="62.8" fill="#e4f6f2"/>
<rect x="635.6" y="1078.2" width="45.5" height="2.4" fill="#19b889"/>
<path d="M577.3,1144.5 L577.3,1124.8 577.6,1125.8 578.1,1127.1 578.7,1128.6 579.3,1129.9 580,1131 580.7,1132 581.5,1132.8 582.3,1133.2 583.1,1133.2 583.9,1132.7 584.8,1132.1 585.6,1131.6 586.5,1131.2 587.3,1130.8 588.1,1130.5 589,1130.4 589.8,1130.9 590.6,1131.7 591.5,1132.5 592.3,1132.7 593.1,1132 594,1130.8 594.8,1129.5 595.6,1128.8 596.4,1128.9 597.3,1129.5 598.1,1130.2 598.9,1130.4 599.8,1130.1 600.6,1129.4 601.4,1128.6 602.3,1128.2 603.1,1128.2 603.9,1128.4 604.8,1128.7 605.6,1128.8 606.4,1128.4 607.3,1127.9 608.1,1127.4 608.9,1127.1 609.8,1127.1 610.6,1127.3 611.4,1127.6 612.3,1127.6 613.1,1127.3 613.9,1126.7 614.8,1126.1 615.6,1125.9 616.4,1126.3 617.3,1127.1 618.1,1127.8 618.9,1128.2 619.8,1127.9 620.6,1127.3 621.4,1126.7 622.3,1126.5 623.1,1126.9 623.9,1127.7 624.8,1128.6 625.6,1129.3 626.4,1129.7 627.2,1130 628.1,1130.2 628.9,1130.4 629.7,1130.7 630.6,1131 631.4,1131.1 632.2,1131 633.1,1130.5 633.9,1129.6 634.7,1128.6 635.6,1127.6 636.4,1126.6 637.2,1125.6 638.1,1124.5 638.9,1123.1 639.7,1121.3 640.6,1119 641.4,1117 642.2,1115.8 643.1,1115.8 643.9,1116.6 644.7,1117.5 645.6,1118.1 646.4,1118.1 647.2,1117.8 648.1,1117.4 648.9,1116.9 649.7,1116.3 650.6,1115.6 651.4,1114.8 652.2,1114.1 653.1,1113.6 653.9,1113.2 654.7,1112.8 655.6,1112.4 656.4,1112.1 657.2,1111.7 658.1,1111.3 658.9,1110.8 659.7,1109.9 660.5,1108.9 661.4,1107.9 662.2,1107.4 663,1107.4 663.9,1107.8 664.7,1108.3 665.5,1108.5 666.4,1108.3 667.2,1107.9 668,1107.4 668.9,1106.8 669.7,1106.2 670.5,1105.4 671.4,1104.7 672.2,1104 673,1103.6 673.9,1103.2 674.7,1102.9 675.5,1102.3 676.3,1101.6 677.1,1100.7 677.8,1099.7 678.5,1098.4 679.3,1095.2 680.1,1090.8 680.8,1088.2 681.4,1090.5 681.6,1100.9 681.6,1117 681.6,1133.3 681.5,1144.5 681.5,1144.5 Z" fill="#8c80c6" fill-opacity="0.88" stroke="#6a5fb5" stroke-width="0.8" stroke-linejoin="round"/>
<line x1="600.8" y1="1083.4" x2="600.8" y2="1146.2" stroke="#6e6e6e" stroke-width="0.8" stroke-dasharray="3 2.2"/>
<line x1="610.4" y1="1083.4" x2="610.4" y2="1146.2" stroke="#6e6e6e" stroke-width="0.8" stroke-dasharray="3 2.2"/>
<line x1="635" y1="1083.4" x2="635" y2="1146.2" stroke="#6e6e6e" stroke-width="0.8" stroke-dasharray="3 2.2"/>
<rect x="572.3" y="1082.9" width="115.1" height="63.8" fill="none" stroke="#6a6a6a" stroke-width="0.9"/>
<line x1="569.7" y1="1144.5" x2="572.3" y2="1144.5" stroke="#555" stroke-width="0.8"/>
<text x="568.1" y="1148" text-anchor="end" font-size="9.6" fill="#222">0</text>
<line x1="569.7" y1="1122" x2="572.3" y2="1122" stroke="#555" stroke-width="0.8"/>
<text x="568.1" y="1125.5" text-anchor="end" font-size="9.6" fill="#222">0.2</text>
<line x1="569.7" y1="1099.5" x2="572.3" y2="1099.5" stroke="#555" stroke-width="0.8"/>
<text x="568.1" y="1103" text-anchor="end" font-size="9.6" fill="#222">0.4</text>
<text x="574.3" y="993.2" text-anchor="middle" font-size="7.6" fill="#e6456f">Cortex</text>
<text x="601.6" y="993.2" text-anchor="middle" font-size="7.6" fill="#f0bf1c">OSOM</text>
<text x="627.5" y="993.2" text-anchor="middle" font-size="7.6" fill="#b98a2a">ISOM</text>
<text x="648.3" y="993.2" text-anchor="middle" font-size="7.6" fill="#2fbf8f">IM</text>
<text x="574.3" y="1075.3" text-anchor="middle" font-size="7.6" fill="#e6456f">Cortex</text>
<text x="601.6" y="1075.3" text-anchor="middle" font-size="7.6" fill="#f0bf1c">OSOM</text>
<text x="627.5" y="1075.3" text-anchor="middle" font-size="7.6" fill="#b98a2a">ISOM</text>
<text x="657.6" y="1075.3" text-anchor="middle" font-size="7.6" fill="#2fbf8f">IM</text>
<line x1="577.3" y1="1146.7" x2="577.3" y2="1149.3" stroke="#555" stroke-width="0.8"/>
<text x="577.3" y="1161.3" text-anchor="middle" font-size="9.6" fill="#222">0</text>
<line x1="610.6" y1="1146.7" x2="610.6" y2="1149.3" stroke="#555" stroke-width="0.8"/>
<text x="610.6" y="1161.3" text-anchor="middle" font-size="9.6" fill="#222">2,000</text>
<line x1="643.9" y1="1146.7" x2="643.9" y2="1149.3" stroke="#555" stroke-width="0.8"/>
<text x="643.9" y="1161.3" text-anchor="middle" font-size="9.6" fill="#222">4,000</text>
<line x1="677.2" y1="1146.7" x2="677.2" y2="1149.3" stroke="#555" stroke-width="0.8"/>
<text x="677.2" y="1161.3" text-anchor="middle" font-size="9.6" fill="#222">6,000</text>
<text x="629.8" y="1178" text-anchor="middle" font-size="10.6" fill="#222">(µm)</text>
<text text-anchor="middle" textLength="97" lengthAdjust="spacingAndGlyphs" transform="translate(539.5 1073.2) rotate(-90)" font-size="11" fill="#1a1a1a">Average expression</text>
<text x="804.4" y="982.6" text-anchor="middle" font-style="italic" font-size="11" fill="#222">Socs2</text>
<rect x="747.9" y="1001.3" width="113" height="63.9" fill="#fff"/>
<rect x="752.9" y="1001.8" width="12.5" height="62.9" fill="#fce8f0"/>
<rect x="752.9" y="996" width="12.2" height="2.4" fill="#e6456f"/>
<rect x="765.4" y="1001.8" width="17.7" height="62.9" fill="#fdf8e3"/>
<rect x="766" y="996" width="16.6" height="2.4" fill="#f2c11e"/>
<rect x="783.1" y="1001.8" width="25" height="62.9" fill="#f8f1e4"/>
<rect x="783.7" y="996" width="23.9" height="2.4" fill="#b98a2a"/>
<rect x="808.1" y="1001.8" width="32.8" height="62.9" fill="#e4f6f2"/>
<rect x="808.7" y="996" width="32.2" height="2.4" fill="#19b889"/>
<path d="M752.9,1062.9 L752.9,1053.6 753.2,1053.2 753.7,1052.7 754.3,1052.2 754.9,1051.9 755.5,1052 756.3,1052.3 757.1,1052.7 757.8,1053 758.5,1053.3 759.1,1053.7 759.7,1053.9 760.3,1053.8 760.9,1053.5 761.5,1052.9 762.1,1052.1 762.7,1050.8 763.3,1049.1 763.9,1046.9 764.6,1044.5 765.2,1042 765.8,1039.4 766.4,1036.7 767,1033.9 767.6,1031.1 768.2,1028.2 768.9,1025.3 769.5,1022.5 770.1,1020.1 770.7,1018 771.3,1016.3 772,1014.8 772.5,1013.5 773.1,1012.3 773.6,1011.2 774.2,1010.4 774.7,1010.2 775.2,1010.7 775.7,1011.7 776.1,1013.1 776.6,1014.6 777.2,1016.1 777.7,1017.7 778.2,1019.6 778.8,1021.7 779.3,1024.2 779.9,1027 780.5,1029.9 781.1,1032.7 781.6,1035.5 782.1,1038.3 782.7,1041.1 783.2,1043.7 783.7,1046.2 784.2,1048.8 784.7,1051.1 785.3,1053 786,1054.6 786.6,1055.8 787.3,1056.8 788.1,1057.4 788.9,1057.5 789.7,1057.2 790.5,1056.8 791.4,1056.6 792.3,1056.8 793.3,1057.2 794.4,1057.6 795.5,1058 796.6,1058.2 797.9,1058.4 799.1,1058.6 800.4,1058.8 801.6,1059 802.7,1059.2 803.9,1059.4 805.3,1059.6 806.8,1059.9 808.5,1060.2 810.2,1060.5 811.8,1060.7 813.4,1060.9 815,1061 816.6,1061.1 818.4,1061.3 820.3,1061.3 822.4,1061.4 824.5,1061.5 826.6,1061.5 828.7,1061.6 831,1061.7 833.1,1061.7 834.8,1061.5 835.8,1061.1 836.4,1060.5 836.8,1059.8 837.2,1059.1 837.7,1058 838.2,1056.8 838.6,1055.9 838.8,1055.8 839,1057 839,1059.1 839,1061.4 839,1062.9 839,1062.9 Z" fill="#f0707f" fill-opacity="0.88" stroke="#e8536a" stroke-width="0.8" stroke-linejoin="round"/>
<line x1="765.4" y1="1001.8" x2="765.4" y2="1064.7" stroke="#6e6e6e" stroke-width="0.8" stroke-dasharray="3 2.2"/>
<line x1="783.1" y1="1001.8" x2="783.1" y2="1064.7" stroke="#6e6e6e" stroke-width="0.8" stroke-dasharray="3 2.2"/>
<line x1="808.1" y1="1001.8" x2="808.1" y2="1064.7" stroke="#6e6e6e" stroke-width="0.8" stroke-dasharray="3 2.2"/>
<line x1="841.2" y1="1001.8" x2="841.2" y2="1064.7" stroke="#6e6e6e" stroke-width="0.8" stroke-dasharray="3 2.2"/>
<rect x="747.9" y="1001.3" width="113" height="63.9" fill="none" stroke="#6a6a6a" stroke-width="0.9"/>
<line x1="745.3" y1="1062.9" x2="747.9" y2="1062.9" stroke="#555" stroke-width="0.8"/>
<text x="743.7" y="1066.4" text-anchor="end" font-size="9.6" fill="#222">0</text>
<line x1="745.3" y1="1049.2" x2="747.9" y2="1049.2" stroke="#555" stroke-width="0.8"/>
<text x="743.7" y="1052.6" text-anchor="end" font-size="9.6" fill="#222">0.25</text>
<line x1="745.3" y1="1035.5" x2="747.9" y2="1035.5" stroke="#555" stroke-width="0.8"/>
<text x="743.7" y="1038.9" text-anchor="end" font-size="9.6" fill="#222">0.50</text>
<line x1="745.3" y1="1021.7" x2="747.9" y2="1021.7" stroke="#555" stroke-width="0.8"/>
<text x="743.7" y="1025.2" text-anchor="end" font-size="9.6" fill="#222">0.75</text>
<line x1="745.3" y1="1008" x2="747.9" y2="1008" stroke="#555" stroke-width="0.8"/>
<text x="743.7" y="1011.5" text-anchor="end" font-size="9.6" fill="#222">1.00</text>
<rect x="747.9" y="1082.9" width="113" height="63.8" fill="#fff"/>
<rect x="752.9" y="1083.4" width="23.6" height="62.8" fill="#fce8f0"/>
<rect x="752.9" y="1078.2" width="23.3" height="2.4" fill="#e6456f"/>
<rect x="776.5" y="1083.4" width="9.1" height="62.8" fill="#fdf8e3"/>
<rect x="777.1" y="1078.2" width="8" height="2.4" fill="#f2c11e"/>
<rect x="785.6" y="1083.4" width="24.2" height="62.8" fill="#f8f1e4"/>
<rect x="786.2" y="1078.2" width="23.3" height="2.4" fill="#b98a2a"/>
<rect x="809.8" y="1083.4" width="46.3" height="62.8" fill="#e4f6f2"/>
<rect x="810.4" y="1078.2" width="45.7" height="2.4" fill="#19b889"/>
<path d="M752.9,1144.5 L752.9,1135.9 753.3,1136.5 753.8,1137.4 754.4,1138.3 755,1139 755.7,1139.4 756.3,1139.6 757.1,1139.8 757.8,1139.8 758.6,1139.7 759.4,1139.5 760.3,1139.2 761.1,1139 761.9,1138.9 762.7,1138.8 763.5,1138.8 764.4,1138.7 765.2,1138.5 766,1138.3 766.9,1138.1 767.6,1137.9 768.3,1137.6 768.9,1137.3 769.4,1137.1 770.1,1137 770.8,1137.4 771.7,1137.9 772.5,1138.5 773.4,1139 774.2,1139.3 775,1139.6 775.8,1139.7 776.6,1139.8 777.5,1139.7 778.3,1139.5 779.1,1139.2 779.9,1139 780.7,1138.7 781.5,1138.5 782.4,1138.2 783.2,1138.2 784,1138.3 784.8,1138.7 785.6,1139 786.5,1139 787.4,1138.4 788.5,1137.5 789.6,1136.6 790.6,1136.2 791.4,1136.4 792.2,1137 793,1137.8 793.8,1138.4 794.8,1139 795.8,1139.6 796.9,1140.1 797.9,1140.4 799,1140.4 800,1140.2 801,1139.9 802,1139.8 802.9,1140 803.7,1140.2 804.5,1140.5 805.3,1140.6 806.1,1140.5 806.9,1140.3 807.7,1140.1 808.6,1140.1 809.3,1140.5 810.1,1141.1 810.9,1141.8 811.8,1142.3 812.8,1142.6 813.9,1142.8 815.1,1143 816.7,1143.1 818.9,1143.2 821.4,1143.2 824.1,1143.2 826.6,1143.1 828.7,1143.1 830.7,1143 832.6,1142.9 834.8,1142.8 837.1,1142.8 839.5,1142.7 842,1142.7 844.6,1142.6 847.4,1142.3 850.5,1142 853.3,1141.7 855.2,1141.7 856,1142.2 856,1143.1 855.6,1143.9 855.4,1144.5 855.4,1144.5 Z" fill="#8c80c6" fill-opacity="0.88" stroke="#6a5fb5" stroke-width="0.8" stroke-linejoin="round"/>
<line x1="776.5" y1="1083.4" x2="776.5" y2="1146.2" stroke="#6e6e6e" stroke-width="0.8" stroke-dasharray="3 2.2"/>
<line x1="785.6" y1="1083.4" x2="785.6" y2="1146.2" stroke="#6e6e6e" stroke-width="0.8" stroke-dasharray="3 2.2"/>
<line x1="809.8" y1="1083.4" x2="809.8" y2="1146.2" stroke="#6e6e6e" stroke-width="0.8" stroke-dasharray="3 2.2"/>
<rect x="747.9" y="1082.9" width="113" height="63.8" fill="none" stroke="#6a6a6a" stroke-width="0.9"/>
<line x1="745.3" y1="1144.5" x2="747.9" y2="1144.5" stroke="#555" stroke-width="0.8"/>
<text x="743.7" y="1148" text-anchor="end" font-size="9.6" fill="#222">0</text>
<line x1="745.3" y1="1130.7" x2="747.9" y2="1130.7" stroke="#555" stroke-width="0.8"/>
<text x="743.7" y="1134.2" text-anchor="end" font-size="9.6" fill="#222">0.25</text>
<line x1="745.3" y1="1116.9" x2="747.9" y2="1116.9" stroke="#555" stroke-width="0.8"/>
<text x="743.7" y="1120.4" text-anchor="end" font-size="9.6" fill="#222">0.50</text>
<line x1="745.3" y1="1103.1" x2="747.9" y2="1103.1" stroke="#555" stroke-width="0.8"/>
<text x="743.7" y="1106.6" text-anchor="end" font-size="9.6" fill="#222">0.75</text>
<line x1="745.3" y1="1089.3" x2="747.9" y2="1089.3" stroke="#555" stroke-width="0.8"/>
<text x="743.7" y="1092.8" text-anchor="end" font-size="9.6" fill="#222">1.00</text>
<text x="748.5" y="993.2" text-anchor="middle" font-size="7.6" fill="#e6456f">Cortex</text>
<text x="775.7" y="993.2" text-anchor="middle" font-size="7.6" fill="#f0bf1c">OSOM</text>
<text x="803.4" y="993.2" text-anchor="middle" font-size="7.6" fill="#b98a2a">ISOM</text>
<text x="823.4" y="993.2" text-anchor="middle" font-size="7.6" fill="#2fbf8f">IM</text>
<text x="748.5" y="1075.3" text-anchor="middle" font-size="7.6" fill="#e6456f">Cortex</text>
<text x="775.7" y="1075.3" text-anchor="middle" font-size="7.6" fill="#f0bf1c">OSOM</text>
<text x="803.4" y="1075.3" text-anchor="middle" font-size="7.6" fill="#b98a2a">ISOM</text>
<text x="832.5" y="1075.3" text-anchor="middle" font-size="7.6" fill="#2fbf8f">IM</text>
<line x1="752.9" y1="1146.7" x2="752.9" y2="1149.3" stroke="#555" stroke-width="0.8"/>
<text x="752.9" y="1161.3" text-anchor="middle" font-size="9.6" fill="#222">0</text>
<line x1="785.6" y1="1146.7" x2="785.6" y2="1149.3" stroke="#555" stroke-width="0.8"/>
<text x="785.6" y="1161.3" text-anchor="middle" font-size="9.6" fill="#222">2,000</text>
<line x1="818.4" y1="1146.7" x2="818.4" y2="1149.3" stroke="#555" stroke-width="0.8"/>
<text x="818.4" y="1161.3" text-anchor="middle" font-size="9.6" fill="#222">4,000</text>
<line x1="851.1" y1="1146.7" x2="851.1" y2="1149.3" stroke="#555" stroke-width="0.8"/>
<text x="851.1" y="1161.3" text-anchor="middle" font-size="9.6" fill="#222">6,000</text>
<text x="804.4" y="1178" text-anchor="middle" font-size="10.6" fill="#222">(µm)</text>
<text text-anchor="middle" textLength="97" lengthAdjust="spacingAndGlyphs" transform="translate(708.7 1073.2) rotate(-90)" font-size="11" fill="#1a1a1a">Average expression</text>
</g>
</svg>
</body></html>
